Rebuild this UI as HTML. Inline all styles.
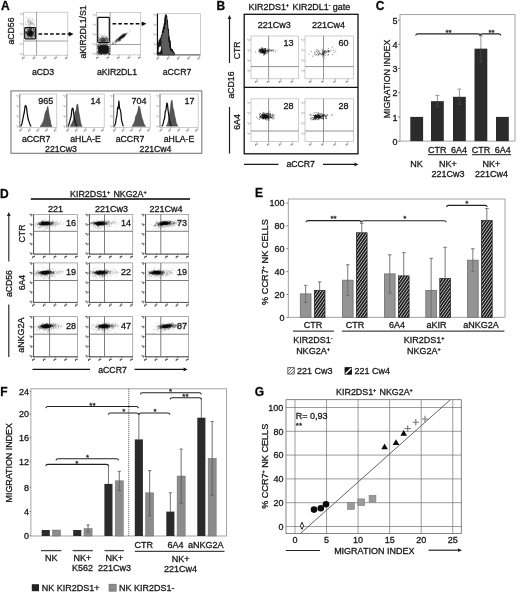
<!DOCTYPE html>
<html><head><meta charset="utf-8"><title>figure</title>
<style>
html,body{margin:0;padding:0;background:#fff;}
body{width:520px;height:592px;overflow:hidden;}
svg{display:block;font-family:"Liberation Sans",sans-serif;filter:grayscale(1) blur(0.3px);}
text{white-space:pre;stroke:#1c1c1c;stroke-width:0.3px;}
</style></head><body>
<svg width="520" height="592" viewBox="0 0 520 592">
<defs>
<pattern id="hatch" width="2.35" height="2.35" patternUnits="userSpaceOnUse" patternTransform="rotate(-55)">
<rect width="2.35" height="2.35" fill="#c4c4c4"/><rect width="2.35" height="1.5" fill="#161616"/>
</pattern>
</defs>
<rect width="520" height="592" fill="#fff"/>
<text x="0.90" y="9.80" font-size="12" text-anchor="start" font-weight="bold" fill="#000">A</text>
<rect x="23.40" y="12.20" width="44.40" height="43.00" fill="none" stroke="#b8b8b8" stroke-width="0.7"/>
<line x1="21.90" y1="14.00" x2="23.50" y2="14.00" stroke="#999" stroke-width="0.7"/>
<path d="M19.50 13.40h1.7v2.0" fill="none" stroke="#c4c4c4" stroke-width="0.9"/>
<line x1="21.90" y1="24.00" x2="23.50" y2="24.00" stroke="#999" stroke-width="0.7"/>
<path d="M19.50 23.40h1.7v2.0" fill="none" stroke="#c4c4c4" stroke-width="0.9"/>
<line x1="21.90" y1="34.00" x2="23.50" y2="34.00" stroke="#999" stroke-width="0.7"/>
<path d="M19.50 33.40h1.7v2.0" fill="none" stroke="#c4c4c4" stroke-width="0.9"/>
<line x1="21.90" y1="44.00" x2="23.50" y2="44.00" stroke="#999" stroke-width="0.7"/>
<path d="M19.50 43.40h1.7v2.0" fill="none" stroke="#c4c4c4" stroke-width="0.9"/>
<line x1="21.90" y1="54.00" x2="23.50" y2="54.00" stroke="#999" stroke-width="0.7"/>
<path d="M19.50 53.40h1.7v2.0" fill="none" stroke="#c4c4c4" stroke-width="0.9"/>
<line x1="24.00" y1="55.20" x2="24.00" y2="56.80" stroke="#999" stroke-width="0.7"/>
<path d="M22.60 59.40v-1.7h2.2" fill="none" stroke="#8a8a8a" stroke-width="1.0"/>
<line x1="34.75" y1="55.20" x2="34.75" y2="56.80" stroke="#999" stroke-width="0.7"/>
<path d="M33.35 59.40v-1.7h2.2" fill="none" stroke="#8a8a8a" stroke-width="1.0"/>
<line x1="45.50" y1="55.20" x2="45.50" y2="56.80" stroke="#999" stroke-width="0.7"/>
<path d="M44.10 59.40v-1.7h2.2" fill="none" stroke="#8a8a8a" stroke-width="1.0"/>
<line x1="56.25" y1="55.20" x2="56.25" y2="56.80" stroke="#999" stroke-width="0.7"/>
<path d="M54.85 59.40v-1.7h2.2" fill="none" stroke="#8a8a8a" stroke-width="1.0"/>
<line x1="67.00" y1="55.20" x2="67.00" y2="56.80" stroke="#999" stroke-width="0.7"/>
<path d="M65.60 59.40v-1.7h2.2" fill="none" stroke="#8a8a8a" stroke-width="1.0"/>
<line x1="36.60" y1="12.00" x2="36.60" y2="55.40" stroke="#7a7a7a" stroke-width="0.7"/>
<line x1="23.50" y1="41.00" x2="67.70" y2="41.00" stroke="#7a7a7a" stroke-width="0.7"/>
<path d="M29.5 34.8h.01M29.5 32.2h.01M27.5 32.5h.01M33.4 34.5h.01M33.2 34.0h.01M31.3 33.8h.01M25.4 35.9h.01M31.7 34.7h.01M27.6 31.7h.01M31.1 33.1h.01M31.7 31.2h.01M31.1 34.4h.01M28.3 38.5h.01M31.8 36.9h.01M28.4 30.9h.01M29.2 32.9h.01M32.0 34.0h.01M28.9 30.2h.01M28.7 37.0h.01M27.9 34.0h.01M31.4 28.6h.01M30.3 37.2h.01M29.9 30.7h.01M31.6 33.0h.01M26.0 35.8h.01M32.1 36.1h.01M34.4 34.3h.01M30.5 29.2h.01M32.0 31.3h.01M28.9 29.3h.01M27.4 31.6h.01M26.0 33.9h.01M34.4 35.0h.01M31.2 30.9h.01M27.0 36.2h.01M33.4 33.7h.01M30.9 34.5h.01M34.8 35.1h.01M31.7 34.9h.01M25.7 37.2h.01M33.0 34.8h.01M29.7 36.4h.01M26.4 38.2h.01M31.8 32.7h.01M31.1 35.2h.01M30.5 36.8h.01M28.3 31.9h.01M33.2 33.3h.01M27.6 36.1h.01M34.4 31.8h.01M26.2 32.8h.01M29.8 32.3h.01M34.3 30.0h.01M33.9 29.3h.01M27.9 35.2h.01M33.5 35.9h.01M31.2 33.6h.01M30.6 35.0h.01M29.7 34.1h.01M31.9 33.2h.01M32.4 35.0h.01M29.0 32.0h.01M30.2 36.1h.01M29.2 34.4h.01M26.9 34.0h.01M31.4 33.9h.01M28.9 35.2h.01M31.0 31.6h.01M28.6 32.9h.01M29.5 33.0h.01M33.1 29.6h.01M30.0 36.2h.01M32.7 37.8h.01M25.3 32.1h.01M29.2 35.1h.01M33.4 28.7h.01M32.2 28.6h.01M30.7 36.9h.01M29.8 33.8h.01M32.5 33.6h.01M29.9 38.0h.01M33.2 32.3h.01M32.9 32.4h.01M30.6 35.4h.01M30.8 35.2h.01M25.8 28.5h.01M32.0 30.2h.01M27.2 28.6h.01M33.9 35.5h.01M34.5 30.3h.01M30.2 29.7h.01M32.4 38.1h.01M27.6 38.0h.01M33.1 32.6h.01M29.9 31.3h.01M31.4 34.5h.01M34.5 30.0h.01M33.5 37.8h.01M34.4 32.6h.01M28.0 36.4h.01M30.5 33.6h.01M34.3 32.4h.01M31.1 31.3h.01M30.2 35.8h.01M30.4 37.3h.01M30.0 36.4h.01M34.5 38.2h.01M28.3 35.9h.01M26.6 33.2h.01M29.6 33.1h.01M28.5 33.9h.01M31.7 36.3h.01M29.6 29.3h.01M28.6 36.5h.01M25.4 31.3h.01M33.1 35.7h.01M30.2 35.7h.01M30.7 29.5h.01M25.7 31.2h.01M32.9 31.4h.01M27.6 30.8h.01M25.8 32.8h.01M26.8 34.3h.01M32.3 32.3h.01M31.0 31.8h.01M32.5 35.5h.01M32.1 34.2h.01M34.1 35.2h.01M32.8 37.3h.01M29.3 31.7h.01M27.5 35.3h.01M31.8 36.0h.01M27.6 32.9h.01M31.0 35.8h.01M30.1 32.6h.01M27.3 32.1h.01M32.8 33.5h.01M27.7 30.6h.01M32.0 34.7h.01M35.1 34.5h.01M30.0 34.8h.01M31.1 31.0h.01M26.1 31.1h.01M31.0 33.8h.01M29.0 30.2h.01M26.7 29.0h.01M35.1 36.3h.01M27.7 34.0h.01M30.0 34.8h.01M28.1 32.8h.01M31.5 34.4h.01M32.1 33.8h.01M29.3 35.6h.01M30.3 30.6h.01M28.4 33.2h.01M29.9 33.7h.01M30.2 33.7h.01M29.8 29.3h.01M31.4 36.5h.01M31.5 32.6h.01M31.5 30.2h.01M27.5 35.5h.01M27.2 38.1h.01M29.1 29.0h.01M28.0 34.8h.01M31.6 33.7h.01M34.5 35.4h.01M30.1 35.0h.01M35.0 36.2h.01M33.2 29.8h.01M29.8 35.5h.01M29.3 36.5h.01M31.9 36.0h.01M33.8 32.5h.01M29.2 35.9h.01M33.0 33.2h.01M26.8 33.8h.01M31.2 36.7h.01M32.5 33.3h.01M32.7 34.9h.01M30.8 33.4h.01M29.5 35.3h.01M27.1 31.3h.01M30.2 28.7h.01M28.2 35.0h.01M31.8 33.0h.01M29.5 28.8h.01M33.4 30.5h.01M32.5 36.1h.01M28.4 28.9h.01M30.3 34.0h.01M32.0 35.4h.01M34.6 36.8h.01M26.4 31.6h.01M27.1 29.9h.01M30.0 33.2h.01M31.6 28.3h.01M26.6 33.1h.01M29.6 32.2h.01M30.0 30.8h.01M32.2 34.3h.01M29.9 31.1h.01M27.4 33.3h.01M25.8 33.8h.01M30.6 28.9h.01M29.5 32.2h.01M31.5 35.1h.01M30.1 30.6h.01M29.8 33.0h.01M32.3 34.1h.01M28.1 29.0h.01M29.1 30.9h.01M27.0 32.8h.01M28.8 33.5h.01M31.7 31.9h.01M33.4 33.6h.01M28.0 34.0h.01M31.1 37.2h.01M32.4 36.1h.01M31.7 32.7h.01M31.7 29.9h.01M33.6 30.0h.01M29.6 33.3h.01M33.6 33.3h.01M27.9 34.0h.01M31.9 35.4h.01M35.0 33.3h.01M31.0 31.9h.01M34.3 31.0h.01M32.2 31.7h.01M28.2 35.4h.01M34.1 33.2h.01M28.2 35.7h.01M30.1 34.2h.01M34.6 36.7h.01M30.2 35.6h.01M28.3 33.1h.01M34.2 29.4h.01M25.8 28.2h.01M33.6 31.8h.01M30.0 32.2h.01M29.8 29.8h.01M30.3 28.7h.01M30.0 34.2h.01M31.6 32.5h.01M27.6 33.7h.01M28.8 38.1h.01M32.4 32.8h.01M28.8 31.0h.01M27.5 32.1h.01M31.1 34.8h.01M28.2 33.2h.01M28.7 33.7h.01M30.6 34.5h.01M29.5 34.3h.01M30.4 35.6h.01M30.2 30.0h.01M27.2 35.1h.01M28.3 35.2h.01M32.4 34.2h.01M31.7 32.9h.01M26.1 33.1h.01M31.5 31.6h.01M29.9 35.5h.01M27.7 35.2h.01M30.6 32.7h.01M34.7 34.2h.01M32.8 31.1h.01M30.2 33.2h.01M32.4 32.8h.01M31.5 34.3h.01M25.9 32.5h.01M34.5 31.4h.01M27.2 29.0h.01M26.7 34.2h.01M35.1 34.5h.01M28.7 31.1h.01M31.7 34.9h.01M27.3 29.6h.01M31.0 34.0h.01M26.4 32.6h.01M28.6 34.6h.01M29.9 32.9h.01M29.2 36.5h.01M34.2 32.1h.01M32.7 30.9h.01M30.4 35.5h.01M34.6 32.0h.01M30.0 33.8h.01M25.9 33.2h.01M28.2 34.4h.01M30.3 34.0h.01M28.6 36.0h.01M29.4 31.3h.01M31.6 28.3h.01M28.2 33.1h.01M32.7 32.7h.01M31.1 31.2h.01M31.1 38.4h.01M28.3 33.3h.01M30.7 36.4h.01M32.0 35.7h.01M30.8 34.0h.01M32.9 34.3h.01M35.0 29.4h.01M32.6 32.0h.01M30.2 32.4h.01M28.8 30.6h.01M28.4 35.2h.01M30.3 33.4h.01M29.7 36.0h.01M31.6 32.8h.01M32.1 32.7h.01M26.9 37.7h.01M31.5 30.2h.01M33.3 34.3h.01M25.7 38.2h.01" stroke="#222" stroke-width="0.9" stroke-linecap="round" fill="none" opacity="0.45"/>
<path d="M30.5 34.4h.01M30.3 32.5h.01M27.5 34.5h.01M30.0 32.3h.01M30.6 32.9h.01M31.1 32.1h.01M29.9 28.9h.01M29.3 34.0h.01M32.1 32.1h.01M29.8 35.7h.01M29.5 34.1h.01M32.7 32.9h.01M32.0 31.5h.01M30.3 32.7h.01M30.2 34.8h.01M33.8 31.6h.01M29.1 33.7h.01M28.3 33.7h.01M30.9 32.3h.01M30.8 30.0h.01M31.2 30.0h.01M28.9 31.8h.01M29.4 34.3h.01M30.1 32.1h.01M30.9 35.6h.01M30.0 33.5h.01M32.0 33.3h.01M27.9 37.3h.01M33.5 29.2h.01M29.9 33.6h.01M31.5 34.0h.01M29.6 30.9h.01M30.2 34.7h.01M28.3 31.0h.01M30.0 29.3h.01M29.6 32.0h.01M30.7 31.5h.01M28.6 32.1h.01M29.9 31.6h.01M30.0 34.2h.01M31.9 35.9h.01M28.7 32.0h.01M26.0 36.2h.01M28.8 32.7h.01M30.8 30.4h.01M30.7 32.8h.01M27.1 33.3h.01M31.9 29.4h.01M31.3 33.2h.01M30.8 33.6h.01M32.1 32.4h.01M31.4 32.1h.01M31.2 31.3h.01M29.8 35.9h.01M30.7 32.5h.01M28.2 31.4h.01M30.3 34.5h.01M30.7 33.7h.01M29.9 35.2h.01M29.4 31.8h.01M31.4 32.9h.01M29.6 31.8h.01M29.6 33.9h.01M30.6 30.6h.01M30.7 33.1h.01M28.4 34.2h.01M29.6 32.2h.01M31.3 35.2h.01M28.9 33.6h.01M28.6 37.0h.01M29.2 35.0h.01M29.0 34.3h.01M33.6 28.2h.01M29.3 33.7h.01M29.9 31.6h.01M33.4 32.9h.01M27.4 34.3h.01M27.2 34.9h.01M29.1 33.1h.01M32.0 33.0h.01M27.8 29.7h.01M31.9 34.1h.01M28.7 34.3h.01M30.8 34.0h.01M26.4 32.3h.01M31.4 34.1h.01M31.4 28.4h.01M30.3 33.7h.01M34.1 31.1h.01M29.5 32.9h.01M31.4 32.0h.01M31.8 31.4h.01M30.4 31.9h.01M30.3 31.6h.01M27.4 34.8h.01M30.5 31.8h.01M30.3 34.6h.01M28.4 32.6h.01M30.9 33.7h.01M29.5 29.0h.01M32.0 33.4h.01M30.0 32.3h.01M30.4 32.0h.01M28.4 31.5h.01M29.0 31.7h.01M28.1 33.9h.01M27.9 34.0h.01M28.4 33.4h.01M32.2 33.2h.01M28.8 32.9h.01M30.2 29.7h.01M29.0 33.1h.01M29.2 32.9h.01M31.2 34.2h.01M31.4 33.9h.01M29.5 32.8h.01M29.6 32.2h.01M29.7 29.7h.01M29.5 32.8h.01M28.4 32.8h.01M30.8 32.5h.01M33.3 28.1h.01M29.7 29.5h.01M31.6 37.6h.01M26.0 33.0h.01M30.8 32.3h.01M30.9 28.8h.01M31.4 33.5h.01M30.0 31.7h.01M31.0 31.9h.01M30.4 31.9h.01M26.4 32.7h.01M30.3 34.2h.01M28.6 32.7h.01M31.0 33.1h.01M32.0 36.4h.01M28.5 29.3h.01M31.4 35.6h.01M31.5 34.3h.01M29.0 31.5h.01M31.4 31.2h.01M27.1 31.0h.01M34.0 36.3h.01M28.9 31.5h.01M30.4 31.5h.01M32.1 32.7h.01M28.3 35.2h.01M29.1 33.2h.01M30.0 32.2h.01M30.5 31.6h.01" stroke="#111" stroke-width="1.0" stroke-linecap="round" fill="none" opacity="0.55"/>
<path d="M25.8 17.7h.01M27.1 21.2h.01M29.9 23.1h.01M31.3 23.3h.01M28.2 21.3h.01M25.1 22.6h.01M31.1 24.3h.01M29.7 22.6h.01M32.2 23.0h.01M31.7 24.4h.01M30.5 26.1h.01M28.7 22.1h.01M28.1 21.1h.01M33.6 27.2h.01M30.1 24.4h.01M32.7 24.9h.01M32.8 20.0h.01M28.5 24.1h.01M33.3 23.2h.01M28.0 22.1h.01M28.5 20.9h.01M33.5 21.5h.01M30.0 28.2h.01M32.7 23.8h.01M28.6 24.0h.01M33.7 24.5h.01M32.9 23.2h.01M31.2 22.5h.01M31.0 26.1h.01M26.7 22.8h.01M30.6 21.6h.01M29.3 24.9h.01M34.6 24.5h.01M30.8 19.3h.01M34.4 23.2h.01M29.9 20.3h.01M29.9 20.4h.01M30.2 24.1h.01M30.1 23.7h.01M28.0 26.4h.01M28.5 18.6h.01M29.6 21.2h.01M27.7 22.1h.01M30.7 20.2h.01M29.7 26.4h.01M31.6 22.6h.01M30.3 22.7h.01M29.9 24.8h.01M29.8 17.2h.01M30.0 20.9h.01M31.5 21.5h.01M30.3 28.2h.01M27.6 20.3h.01M26.8 17.3h.01M25.7 23.9h.01M28.5 18.5h.01M26.6 24.5h.01M28.2 22.1h.01M30.8 26.3h.01M34.5 25.5h.01M30.3 23.4h.01M34.1 26.4h.01M29.3 24.1h.01M30.7 23.1h.01M28.8 19.8h.01M28.8 19.3h.01M32.8 24.3h.01M27.2 26.3h.01M32.1 18.4h.01M34.2 24.9h.01M34.7 20.0h.01M31.2 24.0h.01M30.5 23.4h.01M32.4 19.4h.01M27.1 19.7h.01M28.7 21.5h.01M30.8 23.6h.01M30.1 21.4h.01M29.0 25.3h.01M31.8 23.2h.01M29.3 26.7h.01M28.6 24.6h.01M32.7 22.4h.01M31.9 20.3h.01M32.3 23.5h.01M26.4 24.6h.01M27.9 26.1h.01M28.4 22.6h.01M30.7 22.2h.01M30.6 21.7h.01" stroke="#555" stroke-width="0.9" stroke-linecap="round" fill="none" opacity="0.28"/>
<rect x="24.70" y="27.60" width="10.95" height="11.30" fill="none" stroke="#111" stroke-width="1.2" rx="0.8"/>
<text x="14.00" y="31.00" font-size="8.7" text-anchor="middle" font-weight="normal" fill="#141414" transform="rotate(-90 14.00 31.00)">aCD56</text>
<text x="43.00" y="74.90" font-size="8.7" text-anchor="middle" font-weight="normal" fill="#141414">aCD3</text>
<line x1="38.50" y1="34.10" x2="69.00" y2="34.10" stroke="#0a0a0a" stroke-width="1.5" stroke-dasharray="3.6 2.2"/>
<path d="M73.5 34.1 L68.8 31.8 L68.8 36.4Z" fill="#0a0a0a"/>
<text x="85.80" y="32.00" font-size="8.7" text-anchor="middle" font-weight="normal" fill="#141414" transform="rotate(-90 85.80 32.00)">aKIR2DL1/S1</text>
<rect x="96.40" y="12.30" width="44.30" height="42.60" fill="none" stroke="#b8b8b8" stroke-width="0.7"/>
<line x1="94.80" y1="15.00" x2="96.40" y2="15.00" stroke="#999" stroke-width="0.7"/>
<path d="M92.40 14.40h1.7v2.0" fill="none" stroke="#c4c4c4" stroke-width="0.9"/>
<line x1="94.80" y1="24.75" x2="96.40" y2="24.75" stroke="#999" stroke-width="0.7"/>
<path d="M92.40 24.15h1.7v2.0" fill="none" stroke="#c4c4c4" stroke-width="0.9"/>
<line x1="94.80" y1="34.50" x2="96.40" y2="34.50" stroke="#999" stroke-width="0.7"/>
<path d="M92.40 33.90h1.7v2.0" fill="none" stroke="#c4c4c4" stroke-width="0.9"/>
<line x1="94.80" y1="44.25" x2="96.40" y2="44.25" stroke="#999" stroke-width="0.7"/>
<path d="M92.40 43.65h1.7v2.0" fill="none" stroke="#c4c4c4" stroke-width="0.9"/>
<line x1="94.80" y1="54.00" x2="96.40" y2="54.00" stroke="#999" stroke-width="0.7"/>
<path d="M92.40 53.40h1.7v2.0" fill="none" stroke="#c4c4c4" stroke-width="0.9"/>
<line x1="98.00" y1="54.90" x2="98.00" y2="56.50" stroke="#999" stroke-width="0.7"/>
<path d="M96.60 59.10v-1.7h2.2" fill="none" stroke="#8a8a8a" stroke-width="1.0"/>
<line x1="108.50" y1="54.90" x2="108.50" y2="56.50" stroke="#999" stroke-width="0.7"/>
<path d="M107.10 59.10v-1.7h2.2" fill="none" stroke="#8a8a8a" stroke-width="1.0"/>
<line x1="119.00" y1="54.90" x2="119.00" y2="56.50" stroke="#999" stroke-width="0.7"/>
<path d="M117.60 59.10v-1.7h2.2" fill="none" stroke="#8a8a8a" stroke-width="1.0"/>
<line x1="129.50" y1="54.90" x2="129.50" y2="56.50" stroke="#999" stroke-width="0.7"/>
<path d="M128.10 59.10v-1.7h2.2" fill="none" stroke="#8a8a8a" stroke-width="1.0"/>
<line x1="140.00" y1="54.90" x2="140.00" y2="56.50" stroke="#999" stroke-width="0.7"/>
<path d="M138.60 59.10v-1.7h2.2" fill="none" stroke="#8a8a8a" stroke-width="1.0"/>
<line x1="110.20" y1="12.30" x2="110.20" y2="54.90" stroke="#7a7a7a" stroke-width="0.7"/>
<line x1="96.40" y1="44.50" x2="140.70" y2="44.50" stroke="#7a7a7a" stroke-width="0.7"/>
<rect x="98.2" y="45.6" width="10.4" height="8.0" rx="2.2" fill="#0c0c0c" opacity="0.88"/>
<path d="M105.3 49.6h.01M106.8 49.7h.01M98.2 49.8h.01M104.8 52.2h.01M100.3 53.3h.01M103.0 51.2h.01M102.3 46.9h.01M106.6 51.8h.01M107.9 51.7h.01M101.7 45.6h.01M101.5 48.0h.01M101.0 51.0h.01M104.4 49.0h.01M103.9 49.3h.01M104.0 51.4h.01M106.2 48.0h.01M99.0 53.0h.01M103.7 52.3h.01M98.6 48.8h.01M103.5 46.1h.01M101.9 51.3h.01M106.5 53.4h.01M100.9 46.2h.01M104.9 51.9h.01M104.0 46.5h.01M105.7 51.5h.01M105.0 48.4h.01M104.3 51.5h.01M101.8 45.2h.01M104.4 50.8h.01M103.4 51.7h.01M101.7 49.4h.01M102.5 51.0h.01M108.0 49.0h.01M109.4 53.3h.01M105.7 51.0h.01M108.5 49.2h.01M103.1 47.0h.01M104.8 52.8h.01M104.9 50.6h.01M102.8 50.0h.01M99.3 52.1h.01M102.2 46.9h.01M101.2 47.6h.01M105.9 52.1h.01M99.5 51.8h.01M106.0 48.2h.01M99.1 47.8h.01M101.6 50.4h.01M104.1 45.9h.01M106.0 46.7h.01M101.4 47.5h.01M101.8 52.7h.01M105.9 51.0h.01M104.3 45.9h.01M101.9 48.3h.01M100.6 50.8h.01M101.3 47.9h.01M105.1 52.8h.01M103.9 47.3h.01M106.9 50.3h.01M106.1 53.1h.01M106.7 48.5h.01M106.5 51.5h.01M98.9 48.6h.01M99.3 49.3h.01M105.1 47.0h.01M97.4 52.7h.01M104.5 53.1h.01M99.6 52.1h.01M109.4 54.4h.01M102.8 50.2h.01M103.0 52.0h.01M106.4 49.8h.01M99.5 51.4h.01M102.0 51.1h.01M104.2 53.5h.01M106.7 48.5h.01M104.4 53.8h.01M101.8 50.6h.01M106.9 52.6h.01M104.9 46.4h.01M99.7 50.2h.01M100.9 52.3h.01M105.6 45.6h.01M101.0 50.0h.01M102.0 49.2h.01M104.8 47.7h.01M104.8 48.1h.01M101.8 50.9h.01M101.7 50.3h.01M108.0 49.7h.01M103.0 51.4h.01M102.3 52.2h.01M99.7 51.1h.01M101.9 47.7h.01M108.5 47.6h.01M108.5 51.2h.01M107.6 47.3h.01M106.9 53.1h.01M103.1 49.3h.01M102.2 48.1h.01M104.7 50.4h.01M103.9 53.7h.01M102.4 50.7h.01M107.6 47.2h.01M106.4 54.0h.01M99.5 47.0h.01M100.4 45.2h.01M104.7 45.1h.01M104.8 53.1h.01M98.7 48.8h.01M97.8 51.5h.01M101.3 49.0h.01M103.6 50.9h.01M102.4 49.6h.01M101.8 49.9h.01M100.0 49.8h.01M97.8 48.4h.01M109.0 49.8h.01M99.7 50.2h.01M100.6 45.6h.01M101.3 51.4h.01M104.5 49.4h.01M100.7 47.0h.01M107.3 50.2h.01M100.1 49.4h.01M104.0 49.2h.01M102.6 46.3h.01M100.4 53.7h.01M101.2 51.6h.01M98.5 48.9h.01M104.2 52.1h.01M100.1 51.0h.01M104.5 47.8h.01M104.8 47.4h.01M101.1 49.6h.01M100.5 46.1h.01M102.2 51.4h.01M102.2 52.6h.01M100.0 46.5h.01M107.9 50.6h.01M106.1 47.6h.01M105.7 50.2h.01M105.3 49.7h.01M106.9 48.0h.01M100.6 46.1h.01M106.8 47.8h.01M100.4 47.3h.01M102.1 46.5h.01M102.6 48.1h.01M101.8 47.3h.01M103.5 48.5h.01M103.7 50.2h.01M101.8 47.7h.01M105.6 45.8h.01M101.3 48.9h.01M102.4 52.0h.01M102.1 51.9h.01M99.1 45.3h.01M106.9 50.6h.01M104.8 49.9h.01M104.8 46.7h.01M106.2 48.3h.01M106.3 49.8h.01M97.7 46.5h.01M106.7 49.3h.01M102.3 50.2h.01M102.2 48.3h.01M103.7 49.9h.01M107.8 49.7h.01M108.9 53.9h.01M108.4 52.1h.01M103.8 49.9h.01M103.0 47.8h.01M103.2 48.1h.01M108.2 50.9h.01M102.1 45.0h.01M103.2 48.6h.01M100.3 46.9h.01M103.3 49.2h.01M107.6 49.9h.01M103.9 48.7h.01M101.6 53.2h.01M106.3 53.7h.01M102.4 49.7h.01M100.8 51.9h.01M99.4 51.0h.01M106.6 53.0h.01M100.7 52.2h.01M101.3 47.8h.01M99.6 52.4h.01M108.2 48.2h.01M101.2 48.8h.01M101.8 45.3h.01M101.4 52.4h.01M108.8 49.0h.01M101.4 48.4h.01M97.9 51.8h.01M100.3 52.2h.01M98.4 46.6h.01M104.2 47.8h.01M105.7 49.6h.01M100.0 51.1h.01M105.8 45.0h.01M108.7 50.8h.01M105.6 45.1h.01M101.3 48.8h.01M106.5 46.1h.01M102.7 50.4h.01M98.5 48.2h.01M104.9 53.4h.01M105.3 48.9h.01M100.0 47.4h.01M101.5 50.0h.01M103.3 53.6h.01M104.2 47.0h.01M107.9 51.9h.01M103.7 47.9h.01M98.0 47.1h.01M106.0 47.7h.01M99.6 50.1h.01M104.1 51.1h.01M105.3 53.0h.01M101.0 51.9h.01M100.5 51.3h.01M103.9 50.2h.01M106.2 49.6h.01M106.6 51.7h.01M103.8 48.2h.01M101.2 48.3h.01M102.8 49.5h.01M105.6 47.5h.01M101.3 48.8h.01M104.0 47.1h.01M108.1 48.2h.01M103.4 50.3h.01M104.0 51.0h.01M104.2 50.0h.01M97.9 47.9h.01M104.3 49.1h.01M101.0 48.2h.01M108.8 53.8h.01M103.2 52.7h.01M98.8 45.0h.01M102.0 47.5h.01M101.8 50.1h.01M103.5 50.3h.01M103.3 51.8h.01M108.5 46.6h.01M103.9 49.0h.01M104.4 45.9h.01M104.9 50.1h.01M102.3 47.8h.01M99.3 47.4h.01M105.4 50.9h.01M103.3 50.8h.01M101.6 49.8h.01M103.5 50.9h.01M103.2 49.3h.01M103.0 48.1h.01M109.9 50.8h.01M107.5 45.9h.01M105.4 51.6h.01M108.9 52.8h.01M105.6 46.8h.01M100.9 50.2h.01M104.9 47.1h.01M102.3 48.6h.01M103.6 50.4h.01M102.6 46.6h.01M107.0 53.4h.01M103.1 52.1h.01M104.7 51.2h.01M104.8 47.8h.01M105.1 52.0h.01M100.8 54.3h.01M109.5 54.0h.01M109.2 51.4h.01M102.4 48.2h.01M101.0 49.9h.01M103.3 51.2h.01M105.4 50.7h.01M104.2 49.1h.01M103.0 47.6h.01M103.9 49.5h.01M104.3 47.5h.01M103.5 49.7h.01M105.2 47.0h.01M104.6 52.0h.01M105.1 48.7h.01M102.0 49.0h.01M105.5 53.3h.01M102.9 48.1h.01M104.5 50.1h.01M100.8 47.8h.01M103.1 51.2h.01M99.9 47.2h.01M104.8 46.7h.01M103.7 50.4h.01M103.1 47.2h.01M103.2 48.8h.01M104.4 47.6h.01M106.6 45.6h.01M102.9 49.6h.01M106.2 48.1h.01M105.0 48.2h.01M105.5 53.8h.01M102.2 50.7h.01M100.7 51.9h.01M106.9 49.7h.01M100.1 50.6h.01M106.7 52.2h.01M105.8 45.2h.01M101.4 53.0h.01M99.8 52.3h.01M108.9 51.4h.01M106.6 48.8h.01M99.8 49.4h.01M102.8 49.5h.01M105.4 49.3h.01M104.0 50.6h.01M103.4 54.0h.01M104.7 49.8h.01M102.8 48.1h.01M107.3 50.0h.01M100.3 48.3h.01M103.0 48.5h.01M106.5 46.8h.01M104.8 49.9h.01M100.0 49.7h.01M103.1 50.8h.01M102.1 50.3h.01M98.6 47.0h.01M105.7 52.1h.01M103.4 48.2h.01M101.1 51.2h.01M105.3 47.1h.01M97.9 53.1h.01M103.8 47.4h.01M103.6 51.8h.01M105.6 45.3h.01M106.7 50.6h.01M109.9 48.1h.01M103.4 52.1h.01M101.5 47.9h.01M102.3 49.4h.01M100.3 50.8h.01M105.0 49.8h.01M108.3 48.8h.01M107.2 48.3h.01M105.6 45.0h.01M104.0 49.2h.01M102.0 48.1h.01M102.4 47.9h.01M101.8 48.3h.01M100.3 49.3h.01M105.7 49.0h.01M102.0 52.9h.01M106.2 51.8h.01M106.8 48.8h.01M103.0 52.3h.01M101.8 49.3h.01M104.5 50.5h.01M102.6 52.0h.01M102.9 51.3h.01M106.5 51.2h.01M105.5 46.8h.01M99.6 48.1h.01M104.8 53.2h.01M99.9 50.3h.01M100.9 47.8h.01M102.6 51.3h.01M104.0 52.4h.01M100.5 51.7h.01M106.1 49.8h.01M104.8 48.2h.01M100.2 48.6h.01M102.0 53.6h.01M104.0 50.3h.01M105.6 47.7h.01M106.1 50.5h.01M99.0 51.0h.01M105.0 50.7h.01M108.0 48.6h.01M104.9 51.4h.01M100.8 52.5h.01M99.2 46.5h.01M104.9 47.0h.01M103.1 45.7h.01M103.6 46.9h.01M104.4 45.9h.01M104.7 49.0h.01M103.6 49.4h.01M103.8 46.4h.01M100.7 48.5h.01M101.2 48.1h.01M100.3 50.4h.01M103.0 47.6h.01M100.5 51.5h.01M101.5 51.0h.01M104.7 45.1h.01M100.3 49.6h.01M104.4 51.5h.01M105.7 52.1h.01M102.3 49.1h.01M105.6 48.6h.01M106.5 45.8h.01M105.3 49.2h.01M97.7 52.0h.01M104.3 49.7h.01M100.3 48.5h.01M107.8 47.6h.01M99.9 49.3h.01M102.3 47.4h.01M101.0 52.1h.01M99.2 54.3h.01M101.8 47.0h.01M105.7 51.0h.01M100.4 51.4h.01M98.1 47.4h.01M106.7 49.0h.01M99.6 50.8h.01M106.1 49.5h.01M98.2 48.8h.01M104.6 51.4h.01M108.8 49.0h.01M102.0 49.5h.01M106.9 47.3h.01M105.7 48.0h.01M104.7 51.3h.01M100.0 49.4h.01M104.1 51.0h.01M100.7 47.2h.01M102.8 49.1h.01M99.1 51.8h.01M101.8 53.0h.01M105.9 49.7h.01M105.5 46.9h.01M102.5 48.2h.01M99.7 49.6h.01M103.0 53.0h.01M100.7 48.5h.01M104.6 50.6h.01M103.5 48.5h.01M104.8 50.5h.01M98.1 49.0h.01M99.4 46.8h.01M103.8 49.7h.01M103.7 47.5h.01M102.8 47.4h.01M104.5 51.3h.01M108.5 52.6h.01M101.1 48.5h.01M100.7 50.3h.01M109.1 51.3h.01M99.7 50.8h.01M103.4 50.3h.01M108.6 47.6h.01M100.9 54.3h.01M104.4 47.7h.01M97.5 45.9h.01M103.5 52.0h.01M103.0 47.9h.01M101.3 54.2h.01M98.3 50.0h.01M103.5 51.1h.01M102.2 50.8h.01M105.8 49.2h.01M102.1 49.2h.01M100.6 49.1h.01M102.5 50.1h.01M107.3 52.7h.01M102.1 51.0h.01M104.3 51.4h.01M103.5 50.2h.01M102.0 47.7h.01M105.9 52.7h.01M105.3 50.6h.01M104.2 48.5h.01M98.2 51.2h.01M104.0 48.3h.01M100.6 52.7h.01M98.2 53.8h.01M101.3 49.5h.01M101.9 50.0h.01M102.8 47.8h.01M106.5 47.7h.01M101.9 50.9h.01M101.8 48.6h.01M104.4 48.7h.01M99.8 49.4h.01M102.8 53.7h.01M100.2 51.9h.01M101.1 48.7h.01M102.5 50.2h.01M105.9 53.8h.01M101.6 52.8h.01M106.3 51.6h.01M101.2 51.8h.01M103.1 50.4h.01M102.6 51.2h.01M106.6 52.3h.01M102.8 52.0h.01M107.6 47.4h.01M107.7 46.4h.01M105.0 51.0h.01M107.7 50.3h.01M102.0 47.7h.01M99.8 51.4h.01M102.7 47.9h.01M104.9 47.8h.01M102.1 48.5h.01M108.2 53.1h.01M102.9 45.8h.01M104.2 49.8h.01M104.4 51.0h.01M102.5 51.8h.01M105.8 50.1h.01M102.2 48.4h.01M105.4 47.0h.01M102.9 47.8h.01M99.4 51.0h.01M103.3 49.7h.01M105.9 46.0h.01M103.2 50.3h.01M105.8 47.0h.01M105.5 50.1h.01M107.3 52.3h.01M105.0 54.8h.01M103.4 48.6h.01M102.4 47.3h.01M103.3 45.1h.01M103.2 50.6h.01M106.3 48.8h.01M107.4 48.0h.01M103.0 45.1h.01M101.2 47.7h.01M107.6 50.8h.01M100.3 50.9h.01M104.8 49.1h.01M103.5 48.9h.01M101.9 45.4h.01M103.1 52.6h.01M107.5 48.9h.01M101.3 49.1h.01M105.9 50.4h.01M101.7 50.4h.01M102.8 50.8h.01M102.2 46.2h.01M103.6 51.4h.01M100.3 49.3h.01M105.9 48.7h.01M101.6 54.4h.01M105.7 52.0h.01M100.7 53.4h.01M98.7 48.4h.01M105.5 52.7h.01M100.8 48.0h.01M104.0 45.1h.01M105.2 50.9h.01M102.1 50.9h.01M105.6 50.3h.01M104.9 53.1h.01M102.1 50.0h.01M101.9 52.0h.01M102.3 50.7h.01M103.8 49.8h.01M108.2 49.4h.01M107.4 51.5h.01M107.1 49.2h.01M106.0 51.4h.01M101.7 50.2h.01M103.0 49.5h.01M107.0 47.9h.01M98.7 45.6h.01M102.1 48.1h.01M103.4 50.9h.01M108.3 50.3h.01M104.7 47.9h.01M105.0 52.7h.01M107.2 45.1h.01M105.9 53.3h.01M105.7 46.1h.01M102.5 51.0h.01M104.6 47.7h.01M100.9 51.8h.01M99.7 52.9h.01M103.5 50.3h.01M99.7 48.2h.01M105.3 46.2h.01M109.2 46.4h.01M100.0 49.7h.01M104.7 51.3h.01M102.4 49.1h.01M102.7 48.3h.01M104.1 50.0h.01M101.6 50.2h.01M103.4 49.4h.01M106.5 45.6h.01M104.1 47.1h.01M102.5 53.1h.01M100.4 49.4h.01M101.8 51.8h.01M100.7 45.7h.01M104.8 48.8h.01M102.5 52.1h.01M100.9 48.7h.01M103.8 50.6h.01M102.0 52.0h.01M109.6 48.7h.01M107.3 48.8h.01M103.8 48.8h.01M101.6 46.7h.01M102.3 52.6h.01M106.6 48.8h.01M101.9 48.0h.01M100.1 53.8h.01M105.2 49.9h.01M102.0 47.2h.01M107.1 51.4h.01M100.7 51.9h.01M100.3 51.1h.01M100.7 48.6h.01M104.8 50.6h.01M106.2 47.7h.01M107.8 52.7h.01M103.4 50.7h.01M101.2 49.2h.01M99.7 49.8h.01M104.0 52.7h.01M106.0 51.5h.01M102.4 49.1h.01M102.5 50.1h.01M98.0 51.4h.01M99.0 48.4h.01M103.5 48.4h.01M108.0 49.4h.01M107.8 52.3h.01M102.0 50.5h.01M107.0 48.8h.01M103.6 48.3h.01M103.6 48.8h.01M103.6 51.9h.01M107.3 49.9h.01M104.0 51.6h.01M102.6 47.2h.01M106.5 47.4h.01M106.0 47.4h.01M108.5 47.2h.01M105.8 53.1h.01M100.7 53.0h.01M101.1 45.5h.01M105.4 51.2h.01M103.2 48.9h.01M102.3 48.9h.01M98.4 48.3h.01M108.4 53.2h.01M102.4 48.0h.01" stroke="#111" stroke-width="1.1" stroke-linecap="round" fill="none" opacity="0.8"/>
<path d="M104.7 42.1h.01M105.7 38.1h.01M104.0 40.5h.01M107.9 42.4h.01M105.1 42.4h.01M102.3 43.0h.01M102.2 40.9h.01M106.3 38.5h.01M101.3 37.0h.01M104.0 40.1h.01M102.5 41.1h.01M103.8 39.7h.01M105.9 43.4h.01M102.1 38.5h.01M101.6 40.4h.01M105.3 38.6h.01M106.6 38.3h.01M106.0 41.0h.01M102.7 39.9h.01M105.0 41.8h.01M99.4 40.7h.01M101.2 41.3h.01M107.7 40.3h.01M103.2 40.5h.01M105.2 40.5h.01M102.3 38.9h.01M102.9 42.4h.01M103.2 42.7h.01M104.3 40.2h.01M98.4 39.0h.01M107.3 37.8h.01M100.5 38.2h.01M101.8 41.4h.01M105.3 36.5h.01M108.0 39.1h.01M101.7 43.2h.01M103.2 37.9h.01M101.5 38.9h.01M100.4 39.6h.01M106.2 40.8h.01M100.5 40.4h.01M103.6 41.6h.01M102.5 41.0h.01M100.2 40.8h.01M101.0 39.5h.01M104.1 40.8h.01M102.6 41.7h.01M102.9 37.8h.01M106.2 39.5h.01M107.2 39.0h.01M105.3 40.8h.01M100.1 42.8h.01M106.9 41.1h.01M105.6 39.3h.01M103.5 40.6h.01M104.8 41.5h.01M102.9 38.9h.01M101.8 40.9h.01M98.4 37.9h.01M102.2 39.2h.01M102.7 35.3h.01M102.5 39.7h.01M105.9 36.6h.01M102.6 41.1h.01M105.0 42.4h.01M106.7 38.3h.01M105.5 39.6h.01M101.0 43.0h.01M101.6 38.6h.01M102.2 38.6h.01M106.6 40.9h.01M107.8 41.0h.01M101.6 42.1h.01M101.5 39.4h.01M103.0 40.3h.01M107.2 39.1h.01M104.6 40.1h.01M99.6 38.2h.01M102.8 40.9h.01M104.5 41.1h.01M103.6 39.4h.01M104.8 38.4h.01M99.4 39.6h.01M99.1 39.3h.01M101.2 39.2h.01M103.4 38.7h.01M102.2 37.1h.01M103.9 38.6h.01M104.7 35.0h.01M101.0 40.6h.01M103.8 40.4h.01M98.9 40.6h.01M104.0 38.4h.01M105.8 40.1h.01M103.6 39.4h.01M105.2 40.4h.01M107.0 41.0h.01M101.6 39.8h.01M106.3 39.5h.01M104.7 41.2h.01M102.9 35.9h.01M103.9 40.6h.01M103.9 38.8h.01M107.2 40.0h.01M101.6 38.9h.01M104.6 38.2h.01M100.4 43.9h.01M107.6 42.1h.01M107.7 41.3h.01M98.3 42.4h.01M107.3 41.1h.01M107.7 39.3h.01M103.9 41.6h.01M103.2 42.2h.01M103.8 41.5h.01M103.8 37.5h.01M104.4 42.6h.01M107.0 43.4h.01M105.2 39.1h.01M103.6 36.7h.01M102.9 41.9h.01M106.1 42.6h.01M100.6 39.0h.01M99.9 42.7h.01M104.8 39.3h.01M103.3 40.6h.01M106.5 42.7h.01M105.1 40.9h.01M102.9 39.4h.01M99.7 43.8h.01M102.1 36.4h.01M104.3 40.1h.01M104.0 43.6h.01M103.2 39.7h.01M101.2 40.2h.01M102.1 40.6h.01M100.8 43.8h.01M106.2 41.7h.01M105.7 41.7h.01M105.6 42.8h.01M106.6 42.7h.01M101.9 40.2h.01M101.2 42.0h.01M106.1 39.3h.01M107.4 38.1h.01M103.2 41.4h.01M103.4 40.9h.01M107.2 40.8h.01M100.1 41.5h.01M103.2 40.4h.01M101.7 37.6h.01M99.6 39.5h.01M100.2 35.2h.01M107.1 38.1h.01M101.2 41.2h.01M101.1 41.4h.01M102.0 40.8h.01M103.8 40.2h.01M103.4 42.8h.01M101.8 41.2h.01M104.0 41.1h.01M106.6 37.4h.01M104.4 39.9h.01M102.5 38.6h.01M101.0 38.3h.01M108.8 40.2h.01M105.8 38.4h.01M103.9 42.9h.01M103.4 38.3h.01M102.7 38.4h.01M99.2 39.8h.01M102.3 38.7h.01M100.7 38.5h.01M104.2 42.8h.01M98.5 40.7h.01M99.9 39.9h.01M103.8 41.2h.01M107.0 39.2h.01M99.6 39.9h.01M104.4 38.9h.01M106.3 43.3h.01M99.1 40.9h.01M106.7 36.6h.01M104.1 39.8h.01M99.1 42.6h.01M104.2 39.3h.01M104.9 41.4h.01M105.9 41.3h.01M104.8 38.0h.01M102.2 40.4h.01M102.3 38.2h.01M103.6 39.1h.01M102.2 38.6h.01M101.2 40.0h.01M101.5 41.5h.01M103.1 40.4h.01M104.8 42.6h.01M105.4 40.6h.01M103.0 38.7h.01M102.4 41.5h.01M104.2 39.5h.01M99.3 37.4h.01M104.5 42.1h.01M104.7 37.7h.01M102.8 40.6h.01M100.6 40.8h.01M102.9 38.7h.01M99.6 41.7h.01M104.6 38.6h.01M100.3 41.8h.01M105.4 39.6h.01M108.5 39.7h.01M100.2 42.2h.01M102.9 40.8h.01" stroke="#333" stroke-width="0.9" stroke-linecap="round" fill="none" opacity="0.5"/>
<path d="M120.1 37.2h.01M116.1 40.9h.01M124.7 34.1h.01M124.5 35.5h.01M116.3 41.2h.01M121.9 36.1h.01M112.9 43.6h.01M116.3 41.4h.01M113.7 42.6h.01M117.3 38.6h.01M119.2 39.1h.01M118.2 38.4h.01M120.7 36.0h.01M121.8 37.7h.01M125.5 35.6h.01M121.2 37.9h.01M120.1 36.9h.01M124.8 35.7h.01M119.1 37.8h.01M124.9 35.6h.01M116.1 41.8h.01M126.3 34.1h.01M121.3 37.0h.01M117.9 41.0h.01M130.2 31.5h.01M119.6 39.6h.01M119.0 39.9h.01M122.7 35.4h.01M116.5 40.8h.01M122.7 36.8h.01M124.1 34.1h.01M121.6 36.6h.01M120.3 38.5h.01M116.8 40.4h.01M116.2 41.3h.01M117.2 39.8h.01M120.7 37.2h.01M123.8 35.1h.01M122.8 36.8h.01M116.6 40.5h.01M117.2 39.9h.01M119.1 41.0h.01M118.6 41.1h.01M121.5 35.9h.01M112.4 44.4h.01M113.4 43.7h.01M123.4 36.5h.01M119.3 38.6h.01M120.9 37.5h.01M118.2 39.2h.01M123.9 35.1h.01M121.3 36.3h.01M117.7 38.5h.01M119.3 39.6h.01M121.0 37.2h.01M122.0 36.6h.01M121.2 37.9h.01M121.8 34.5h.01M115.7 42.2h.01M119.6 41.1h.01M119.2 38.3h.01M124.9 35.6h.01M126.2 34.7h.01M119.3 39.7h.01M117.4 39.7h.01M118.2 39.4h.01M122.6 36.1h.01M121.1 37.1h.01M122.9 33.4h.01M119.3 39.1h.01M116.5 42.0h.01M120.7 39.3h.01M123.2 36.9h.01M119.5 37.5h.01M119.3 38.4h.01M120.8 37.3h.01M130.0 29.7h.01M123.9 35.2h.01M119.2 40.0h.01M120.0 37.1h.01M121.4 37.3h.01M113.2 43.3h.01M116.5 40.0h.01M121.6 37.6h.01M119.0 41.4h.01M121.4 36.8h.01M120.8 37.7h.01M112.8 41.7h.01M115.4 43.8h.01M119.4 38.5h.01M118.1 40.7h.01M120.1 40.2h.01M122.6 38.4h.01M119.6 39.1h.01M118.6 39.2h.01M114.3 41.7h.01M116.9 39.8h.01M124.0 35.9h.01M124.0 36.6h.01M123.0 37.4h.01M118.0 40.6h.01M118.9 38.5h.01M123.9 38.1h.01M116.8 42.5h.01M122.7 35.6h.01M120.9 38.2h.01M121.2 37.2h.01M115.8 41.3h.01M122.8 37.3h.01M122.2 38.1h.01M116.8 40.6h.01M121.1 38.7h.01M120.5 38.6h.01M120.4 40.4h.01M112.8 43.3h.01M128.1 33.1h.01M114.0 42.7h.01M115.3 40.9h.01M120.7 39.8h.01M121.5 38.1h.01M123.3 36.3h.01M117.2 40.2h.01M121.1 37.3h.01M117.8 39.5h.01M115.1 40.7h.01M119.7 38.2h.01M120.1 39.8h.01M121.0 37.7h.01M116.2 39.9h.01M121.2 36.6h.01M121.4 36.3h.01M120.4 38.0h.01M123.3 35.7h.01M118.8 39.5h.01M120.2 40.1h.01M119.2 38.4h.01M119.0 39.6h.01M120.8 38.6h.01M115.5 44.2h.01M126.0 34.2h.01M116.0 41.3h.01M121.4 35.0h.01M120.0 36.8h.01M121.5 38.9h.01M123.4 34.4h.01M124.5 36.3h.01M118.8 39.8h.01M125.0 34.6h.01M119.9 37.8h.01M123.8 33.4h.01M124.6 34.1h.01M123.0 34.5h.01M116.9 39.9h.01M122.7 34.8h.01M122.0 36.3h.01M124.1 35.3h.01M121.6 37.1h.01M125.9 34.0h.01M119.9 40.6h.01M120.3 39.0h.01M117.6 40.3h.01M112.6 43.6h.01M117.9 38.2h.01M115.4 42.8h.01M121.4 35.8h.01M125.9 33.6h.01M118.8 39.5h.01M116.3 39.2h.01M117.6 41.4h.01M123.1 34.5h.01" stroke="#333" stroke-width="0.84" stroke-linecap="round" fill="none" opacity="0.45"/>
<path d="M124.6 35.0h.01M123.3 36.0h.01M123.2 35.5h.01M120.7 37.4h.01M121.7 37.4h.01M120.2 39.1h.01M121.2 37.1h.01M123.7 35.9h.01M121.8 36.4h.01M120.6 37.0h.01M124.5 35.7h.01M125.8 34.4h.01M123.0 36.6h.01M124.1 35.2h.01M123.0 37.4h.01M119.3 38.1h.01M120.6 38.3h.01M124.6 34.8h.01M123.6 35.7h.01M122.9 35.9h.01M122.4 36.6h.01M124.5 36.4h.01M119.1 39.3h.01M122.4 37.2h.01M124.3 35.6h.01M123.9 35.0h.01M119.3 39.8h.01M124.6 34.5h.01M124.8 35.3h.01M117.9 40.4h.01M120.6 38.6h.01M121.2 37.1h.01M119.6 38.5h.01M124.3 34.9h.01M119.0 40.3h.01M125.8 34.5h.01M121.4 36.6h.01M119.4 39.1h.01M124.8 34.3h.01M122.4 36.4h.01M121.9 37.2h.01M126.2 33.5h.01M124.0 36.1h.01M121.9 36.9h.01M119.9 39.0h.01M121.4 36.9h.01M122.5 36.0h.01M120.5 37.8h.01M125.1 34.5h.01M123.4 35.1h.01M118.8 40.2h.01M121.7 36.3h.01M122.2 37.1h.01M119.2 38.4h.01M122.9 35.7h.01M123.9 36.1h.01M123.2 35.8h.01M122.3 36.3h.01M122.2 37.0h.01M121.8 37.6h.01M127.2 32.8h.01M123.0 36.6h.01M123.6 35.6h.01M121.5 37.8h.01M123.5 36.1h.01M120.9 38.0h.01M123.9 35.4h.01M123.6 37.0h.01M119.0 39.4h.01M120.3 37.4h.01M122.0 37.2h.01M122.5 35.9h.01M119.8 38.2h.01M122.4 36.1h.01M119.6 39.6h.01M120.9 37.6h.01M121.4 37.0h.01M122.5 36.4h.01M123.5 35.1h.01M119.7 39.7h.01M122.3 37.1h.01M124.6 35.3h.01M122.5 35.7h.01M119.5 39.3h.01M123.6 36.0h.01M119.3 37.6h.01M120.5 37.3h.01M122.7 35.8h.01M125.3 34.1h.01M121.4 37.8h.01M123.0 35.6h.01M123.9 36.6h.01M120.1 38.1h.01M120.4 36.9h.01M123.6 36.2h.01M124.2 35.5h.01M118.7 39.3h.01M121.2 36.8h.01M120.4 38.5h.01M121.9 38.1h.01M123.3 34.9h.01M124.0 36.1h.01M122.5 35.9h.01M125.7 33.5h.01M122.2 35.6h.01M120.1 37.3h.01M124.4 35.8h.01M121.7 36.4h.01M122.3 36.9h.01M119.6 38.0h.01M122.2 37.1h.01M122.5 36.8h.01M120.1 36.9h.01M123.0 35.7h.01M122.2 36.6h.01M123.3 35.5h.01M125.1 34.7h.01M123.4 36.2h.01M124.3 35.4h.01M119.2 38.6h.01" stroke="#1a1a1a" stroke-width="0.84" stroke-linecap="round" fill="none" opacity="0.55"/>
<rect x="97.70" y="17.30" width="11.60" height="25.30" fill="none" stroke="#111" stroke-width="1.2" rx="0.8"/>
<text x="117.00" y="74.90" font-size="8.7" text-anchor="middle" font-weight="normal" fill="#141414">aKIR2DL1</text>
<line x1="112.50" y1="23.70" x2="142.00" y2="23.70" stroke="#0a0a0a" stroke-width="1.5" stroke-dasharray="3.6 2.2"/>
<path d="M146.5 23.7 L141.8 21.4 L141.8 26.0Z" fill="#0a0a0a"/>
<rect x="157.00" y="13.70" width="43.40" height="41.20" fill="none" stroke="#b8b8b8" stroke-width="0.7"/>
<line x1="155.40" y1="15.00" x2="157.00" y2="15.00" stroke="#999" stroke-width="0.7"/>
<path d="M153.00 14.40h1.7v2.0" fill="none" stroke="#c4c4c4" stroke-width="0.9"/>
<line x1="155.40" y1="24.75" x2="157.00" y2="24.75" stroke="#999" stroke-width="0.7"/>
<path d="M153.00 24.15h1.7v2.0" fill="none" stroke="#c4c4c4" stroke-width="0.9"/>
<line x1="155.40" y1="34.50" x2="157.00" y2="34.50" stroke="#999" stroke-width="0.7"/>
<path d="M153.00 33.90h1.7v2.0" fill="none" stroke="#c4c4c4" stroke-width="0.9"/>
<line x1="155.40" y1="44.25" x2="157.00" y2="44.25" stroke="#999" stroke-width="0.7"/>
<path d="M153.00 43.65h1.7v2.0" fill="none" stroke="#c4c4c4" stroke-width="0.9"/>
<line x1="155.40" y1="54.00" x2="157.00" y2="54.00" stroke="#999" stroke-width="0.7"/>
<path d="M153.00 53.40h1.7v2.0" fill="none" stroke="#c4c4c4" stroke-width="0.9"/>
<line x1="158.50" y1="55.50" x2="158.50" y2="57.10" stroke="#999" stroke-width="0.7"/>
<path d="M157.10 59.70v-1.7h2.2" fill="none" stroke="#8a8a8a" stroke-width="1.0"/>
<line x1="168.75" y1="55.50" x2="168.75" y2="57.10" stroke="#999" stroke-width="0.7"/>
<path d="M167.35 59.70v-1.7h2.2" fill="none" stroke="#8a8a8a" stroke-width="1.0"/>
<line x1="179.00" y1="55.50" x2="179.00" y2="57.10" stroke="#999" stroke-width="0.7"/>
<path d="M177.60 59.70v-1.7h2.2" fill="none" stroke="#8a8a8a" stroke-width="1.0"/>
<line x1="189.25" y1="55.50" x2="189.25" y2="57.10" stroke="#999" stroke-width="0.7"/>
<path d="M187.85 59.70v-1.7h2.2" fill="none" stroke="#8a8a8a" stroke-width="1.0"/>
<line x1="199.50" y1="55.50" x2="199.50" y2="57.10" stroke="#999" stroke-width="0.7"/>
<path d="M198.10 59.70v-1.7h2.2" fill="none" stroke="#8a8a8a" stroke-width="1.0"/>
<path d="M157.38 54.84 L157.62 44.81 L158.65 43.65 L159.23 40.19 L159.92 41.00 L160.38 37.88 L161.08 38.69 L161.42 35.23 L162.00 35.92 L162.46 31.31 L163.04 32.23 L163.61 27.61 L164.08 28.54 L164.54 23.46 L164.88 24.38 L165.23 18.61 L165.58 16.08 L166.04 14.69 L166.38 17.00 L166.73 16.31 L167.08 21.15 L167.42 20.46 L167.77 26.00 L168.11 29.81 L168.46 29.00 L168.81 36.38 L169.38 41.92 L169.85 41.00 L170.31 47.23 L171.00 50.23 L171.92 49.54 L172.61 51.61 L174.00 52.54 L174.81 54.84Z" fill="#5c5c5c" stroke="#111" stroke-width="1.0" stroke-linejoin="round"/>
<path d="M157.38 54.84 L157.38 43.65 L158.65 42.84 L159.46 39.61 L160.61 38.23 L161.65 41.69 L161.19 45.38 L162.00 48.61 L162.92 54.84Z" fill="#111" opacity="0.85"/>
<path d="M158.42 51.61 L159.00 47.46 L160.38 45.84 L161.19 47.92 L160.61 50.69 L159.35 52.54Z" fill="#fff"/>
<path d="M162.46 31.31 L163.04 32.23 L163.61 27.61 L164.08 28.54 L164.54 23.46 L164.88 24.38 L165.23 18.61 L165.58 16.08 L166.04 14.69" fill="none" stroke="#111" stroke-width="1.5" stroke-linejoin="round"/>
<path d="M168.81 36.38 L169.38 41.92 L169.85 41.00 L170.31 47.23 L171.00 50.23 L171.92 49.54 L172.61 51.61 L174.00 52.54" fill="none" stroke="#111" stroke-width="1.5" stroke-linejoin="round"/>
<line x1="157.50" y1="13.70" x2="157.50" y2="54.90" stroke="#111" stroke-width="1.1"/>
<line x1="157.00" y1="54.90" x2="200.40" y2="54.90" stroke="#555" stroke-width="1.0"/>
<text x="177.00" y="74.90" font-size="8.7" text-anchor="middle" font-weight="normal" fill="#141414">aCCR7</text>
<rect x="11.00" y="90.90" width="190.80" height="62.40" fill="none" stroke="#7a7a7a" stroke-width="1.1"/>
<rect x="19.80" y="94.00" width="37.00" height="33.50" fill="none" stroke="#b8b8b8" stroke-width="0.7"/>
<line x1="19.80" y1="94.00" x2="19.80" y2="127.50" stroke="#777" stroke-width="0.8"/>
<line x1="18.20" y1="96.00" x2="19.80" y2="96.00" stroke="#999" stroke-width="0.7"/>
<path d="M15.80 95.40h1.7v2.0" fill="none" stroke="#c4c4c4" stroke-width="0.9"/>
<line x1="18.20" y1="106.17" x2="19.80" y2="106.17" stroke="#999" stroke-width="0.7"/>
<path d="M15.80 105.57h1.7v2.0" fill="none" stroke="#c4c4c4" stroke-width="0.9"/>
<line x1="18.20" y1="116.33" x2="19.80" y2="116.33" stroke="#999" stroke-width="0.7"/>
<path d="M15.80 115.73h1.7v2.0" fill="none" stroke="#c4c4c4" stroke-width="0.9"/>
<line x1="18.20" y1="126.50" x2="19.80" y2="126.50" stroke="#999" stroke-width="0.7"/>
<path d="M15.80 125.90h1.7v2.0" fill="none" stroke="#c4c4c4" stroke-width="0.9"/>
<line x1="21.30" y1="127.50" x2="21.30" y2="129.10" stroke="#999" stroke-width="0.7"/>
<path d="M19.90 131.70v-1.7h2.2" fill="none" stroke="#8a8a8a" stroke-width="1.0"/>
<line x1="29.93" y1="127.50" x2="29.93" y2="129.10" stroke="#999" stroke-width="0.7"/>
<path d="M28.53 131.70v-1.7h2.2" fill="none" stroke="#8a8a8a" stroke-width="1.0"/>
<line x1="38.55" y1="127.50" x2="38.55" y2="129.10" stroke="#999" stroke-width="0.7"/>
<path d="M37.15 131.70v-1.7h2.2" fill="none" stroke="#8a8a8a" stroke-width="1.0"/>
<line x1="47.17" y1="127.50" x2="47.17" y2="129.10" stroke="#999" stroke-width="0.7"/>
<path d="M45.77 131.70v-1.7h2.2" fill="none" stroke="#8a8a8a" stroke-width="1.0"/>
<line x1="55.80" y1="127.50" x2="55.80" y2="129.10" stroke="#999" stroke-width="0.7"/>
<path d="M54.40 131.70v-1.7h2.2" fill="none" stroke="#8a8a8a" stroke-width="1.0"/>
<path d="M40.0 126.4 L40.9 125.7 L41.7 124.8 L42.6 122.7 L43.4 121.2 L44.3 117.9 L45.1 113.5 L46.0 111.2 L46.9 109.5 L47.7 106.5 L47.9 106.5 L48.6 112.0 L49.4 116.5 L50.3 120.5 L51.1 124.8 L52.0 126.4Z" fill="#555" stroke="#3a3a3a" stroke-width="0.6" stroke-linejoin="round"/>
<path d="M20.4 126.3 L21.2 125.6 L21.9 123.7 L22.7 120.0 L23.5 115.7 L24.3 112.5 L25.0 106.4 L25.6 105.5 L25.8 105.6 L26.6 108.0 L27.3 114.1 L28.1 118.8 L28.9 121.4 L29.7 123.7 L30.4 125.4 L31.2 126.3" fill="none" stroke="#111" stroke-width="1.25" stroke-linejoin="round"/>
<text x="53.20" y="104.40" font-size="9" text-anchor="end" font-weight="normal" fill="#141414">965</text>
<rect x="66.80" y="94.00" width="37.40" height="33.50" fill="none" stroke="#b8b8b8" stroke-width="0.7"/>
<line x1="66.80" y1="94.00" x2="66.80" y2="127.50" stroke="#777" stroke-width="0.8"/>
<line x1="65.20" y1="96.00" x2="66.80" y2="96.00" stroke="#999" stroke-width="0.7"/>
<path d="M62.80 95.40h1.7v2.0" fill="none" stroke="#c4c4c4" stroke-width="0.9"/>
<line x1="65.20" y1="106.17" x2="66.80" y2="106.17" stroke="#999" stroke-width="0.7"/>
<path d="M62.80 105.57h1.7v2.0" fill="none" stroke="#c4c4c4" stroke-width="0.9"/>
<line x1="65.20" y1="116.33" x2="66.80" y2="116.33" stroke="#999" stroke-width="0.7"/>
<path d="M62.80 115.73h1.7v2.0" fill="none" stroke="#c4c4c4" stroke-width="0.9"/>
<line x1="65.20" y1="126.50" x2="66.80" y2="126.50" stroke="#999" stroke-width="0.7"/>
<path d="M62.80 125.90h1.7v2.0" fill="none" stroke="#c4c4c4" stroke-width="0.9"/>
<line x1="68.30" y1="127.50" x2="68.30" y2="129.10" stroke="#999" stroke-width="0.7"/>
<path d="M66.90 131.70v-1.7h2.2" fill="none" stroke="#8a8a8a" stroke-width="1.0"/>
<line x1="77.03" y1="127.50" x2="77.03" y2="129.10" stroke="#999" stroke-width="0.7"/>
<path d="M75.62 131.70v-1.7h2.2" fill="none" stroke="#8a8a8a" stroke-width="1.0"/>
<line x1="85.75" y1="127.50" x2="85.75" y2="129.10" stroke="#999" stroke-width="0.7"/>
<path d="M84.35 131.70v-1.7h2.2" fill="none" stroke="#8a8a8a" stroke-width="1.0"/>
<line x1="94.47" y1="127.50" x2="94.47" y2="129.10" stroke="#999" stroke-width="0.7"/>
<path d="M93.07 131.70v-1.7h2.2" fill="none" stroke="#8a8a8a" stroke-width="1.0"/>
<line x1="103.20" y1="127.50" x2="103.20" y2="129.10" stroke="#999" stroke-width="0.7"/>
<path d="M101.80 131.70v-1.7h2.2" fill="none" stroke="#8a8a8a" stroke-width="1.0"/>
<path d="M70.0 126.3 L70.9 125.5 L71.7 123.8 L72.6 121.6 L73.5 120.0 L74.4 115.5 L75.2 112.1 L76.1 110.2 L77.0 104.3 L77.4 104.0 L77.8 104.6 L78.7 111.8 L79.6 116.6 L80.5 122.0 L81.3 125.1 L82.2 126.3Z" fill="#555" stroke="#3a3a3a" stroke-width="0.6" stroke-linejoin="round"/>
<path d="M67.8 126.4 L68.5 125.6 L69.1 123.8 L69.8 121.1 L70.5 118.3 L71.2 116.3 L71.8 110.0 L72.5 108.0 L72.6 108.0 L73.2 109.0 L73.8 114.5 L74.5 119.0 L75.2 121.5 L75.9 124.0 L76.5 125.7 L77.2 126.4" fill="none" stroke="#111" stroke-width="1.25" stroke-linejoin="round"/>
<text x="100.60" y="104.40" font-size="9" text-anchor="end" font-weight="normal" fill="#141414">14</text>
<rect x="113.70" y="94.00" width="36.50" height="33.50" fill="none" stroke="#b8b8b8" stroke-width="0.7"/>
<line x1="113.70" y1="94.00" x2="113.70" y2="127.50" stroke="#777" stroke-width="0.8"/>
<line x1="112.10" y1="96.00" x2="113.70" y2="96.00" stroke="#999" stroke-width="0.7"/>
<path d="M109.70 95.40h1.7v2.0" fill="none" stroke="#c4c4c4" stroke-width="0.9"/>
<line x1="112.10" y1="106.17" x2="113.70" y2="106.17" stroke="#999" stroke-width="0.7"/>
<path d="M109.70 105.57h1.7v2.0" fill="none" stroke="#c4c4c4" stroke-width="0.9"/>
<line x1="112.10" y1="116.33" x2="113.70" y2="116.33" stroke="#999" stroke-width="0.7"/>
<path d="M109.70 115.73h1.7v2.0" fill="none" stroke="#c4c4c4" stroke-width="0.9"/>
<line x1="112.10" y1="126.50" x2="113.70" y2="126.50" stroke="#999" stroke-width="0.7"/>
<path d="M109.70 125.90h1.7v2.0" fill="none" stroke="#c4c4c4" stroke-width="0.9"/>
<line x1="115.20" y1="127.50" x2="115.20" y2="129.10" stroke="#999" stroke-width="0.7"/>
<path d="M113.80 131.70v-1.7h2.2" fill="none" stroke="#8a8a8a" stroke-width="1.0"/>
<line x1="123.70" y1="127.50" x2="123.70" y2="129.10" stroke="#999" stroke-width="0.7"/>
<path d="M122.30 131.70v-1.7h2.2" fill="none" stroke="#8a8a8a" stroke-width="1.0"/>
<line x1="132.20" y1="127.50" x2="132.20" y2="129.10" stroke="#999" stroke-width="0.7"/>
<path d="M130.80 131.70v-1.7h2.2" fill="none" stroke="#8a8a8a" stroke-width="1.0"/>
<line x1="140.70" y1="127.50" x2="140.70" y2="129.10" stroke="#999" stroke-width="0.7"/>
<path d="M139.30 131.70v-1.7h2.2" fill="none" stroke="#8a8a8a" stroke-width="1.0"/>
<line x1="149.20" y1="127.50" x2="149.20" y2="129.10" stroke="#999" stroke-width="0.7"/>
<path d="M147.80 131.70v-1.7h2.2" fill="none" stroke="#8a8a8a" stroke-width="1.0"/>
<path d="M131.8 126.3 L132.8 125.4 L133.8 123.4 L134.8 121.1 L135.8 116.1 L136.8 114.3 L137.8 111.3 L138.8 106.0 L139.8 107.4 L140.8 113.0 L141.8 117.6 L142.8 120.3 L143.8 123.8 L144.8 125.5 L145.8 126.3Z" fill="#555" stroke="#3a3a3a" stroke-width="0.6" stroke-linejoin="round"/>
<path d="M114.2 126.2 L114.9 125.0 L115.5 123.4 L116.2 118.6 L116.9 115.7 L117.6 107.5 L118.2 108.7 L118.9 101.0 L119.6 108.5 L120.2 109.3 L120.9 113.0 L121.6 120.4 L122.3 122.9 L122.9 125.4 L123.6 126.2" fill="none" stroke="#111" stroke-width="1.25" stroke-linejoin="round"/>
<text x="146.60" y="104.40" font-size="9" text-anchor="end" font-weight="normal" fill="#141414">704</text>
<rect x="160.00" y="94.00" width="38.20" height="33.50" fill="none" stroke="#b8b8b8" stroke-width="0.7"/>
<line x1="160.00" y1="94.00" x2="160.00" y2="127.50" stroke="#777" stroke-width="0.8"/>
<line x1="158.40" y1="96.00" x2="160.00" y2="96.00" stroke="#999" stroke-width="0.7"/>
<path d="M156.00 95.40h1.7v2.0" fill="none" stroke="#c4c4c4" stroke-width="0.9"/>
<line x1="158.40" y1="106.17" x2="160.00" y2="106.17" stroke="#999" stroke-width="0.7"/>
<path d="M156.00 105.57h1.7v2.0" fill="none" stroke="#c4c4c4" stroke-width="0.9"/>
<line x1="158.40" y1="116.33" x2="160.00" y2="116.33" stroke="#999" stroke-width="0.7"/>
<path d="M156.00 115.73h1.7v2.0" fill="none" stroke="#c4c4c4" stroke-width="0.9"/>
<line x1="158.40" y1="126.50" x2="160.00" y2="126.50" stroke="#999" stroke-width="0.7"/>
<path d="M156.00 125.90h1.7v2.0" fill="none" stroke="#c4c4c4" stroke-width="0.9"/>
<line x1="161.50" y1="127.50" x2="161.50" y2="129.10" stroke="#999" stroke-width="0.7"/>
<path d="M160.10 131.70v-1.7h2.2" fill="none" stroke="#8a8a8a" stroke-width="1.0"/>
<line x1="170.43" y1="127.50" x2="170.43" y2="129.10" stroke="#999" stroke-width="0.7"/>
<path d="M169.03 131.70v-1.7h2.2" fill="none" stroke="#8a8a8a" stroke-width="1.0"/>
<line x1="179.35" y1="127.50" x2="179.35" y2="129.10" stroke="#999" stroke-width="0.7"/>
<path d="M177.95 131.70v-1.7h2.2" fill="none" stroke="#8a8a8a" stroke-width="1.0"/>
<line x1="188.27" y1="127.50" x2="188.27" y2="129.10" stroke="#999" stroke-width="0.7"/>
<path d="M186.87 131.70v-1.7h2.2" fill="none" stroke="#8a8a8a" stroke-width="1.0"/>
<line x1="197.20" y1="127.50" x2="197.20" y2="129.10" stroke="#999" stroke-width="0.7"/>
<path d="M195.80 131.70v-1.7h2.2" fill="none" stroke="#8a8a8a" stroke-width="1.0"/>
<path d="M166.4 126.1 L167.2 124.7 L168.0 122.4 L168.8 118.8 L169.7 113.8 L170.5 107.8 L171.3 101.1 L171.8 100.3 L172.1 100.5 L172.9 107.5 L173.7 109.9 L174.5 114.9 L175.4 119.0 L176.2 123.1 L177.0 125.0 L177.8 126.1Z" fill="#555" stroke="#3a3a3a" stroke-width="0.6" stroke-linejoin="round"/>
<path d="M161.8 126.2 L162.5 125.5 L163.2 123.4 L163.9 119.9 L164.6 118.1 L165.3 111.4 L166.0 110.1 L166.7 103.5 L167.0 103.2 L167.4 103.8 L168.1 110.2 L168.8 115.6 L169.5 120.4 L170.2 123.4 L170.9 125.1 L171.6 126.2" fill="none" stroke="#111" stroke-width="1.25" stroke-linejoin="round"/>
<text x="194.60" y="104.40" font-size="9" text-anchor="end" font-weight="normal" fill="#141414">17</text>
<text x="36.20" y="141.60" font-size="8.7" text-anchor="middle" font-weight="normal" fill="#141414">aCCR7</text>
<text x="85.50" y="141.60" font-size="8.7" text-anchor="middle" font-weight="normal" fill="#141414">aHLA-E</text>
<text x="130.00" y="141.60" font-size="8.7" text-anchor="middle" font-weight="normal" fill="#141414">aCCR7</text>
<text x="179.00" y="141.60" font-size="8.7" text-anchor="middle" font-weight="normal" fill="#141414">aHLA-E</text>
<text x="61.00" y="152.40" font-size="8.7" text-anchor="middle" font-weight="normal" fill="#141414">221Cw3</text>
<text x="155.50" y="152.40" font-size="8.7" text-anchor="middle" font-weight="normal" fill="#141414">221Cw4</text>
<text x="216.60" y="9.80" font-size="12" text-anchor="start" font-weight="bold" fill="#000">B</text>
<text x="248.60" y="9.80" font-size="8.95" text-anchor="start" font-weight="normal" fill="#141414">KIR2DS1<tspan font-size="5.5" dy="-3">+</tspan><tspan dy="3">&#8203;</tspan></text>
<text x="292.50" y="9.80" font-size="8.95" text-anchor="start" font-weight="normal" fill="#141414">KIR2DL1<tspan font-size="5.5" dy="-3">-</tspan><tspan dy="3">&#8203;</tspan></text>
<text x="332.80" y="9.80" font-size="8.95" text-anchor="start" font-weight="normal" fill="#141414">gate</text>
<rect x="244.20" y="14.30" width="113.80" height="139.50" fill="none" stroke="#111" stroke-width="1.3"/>
<line x1="243.80" y1="87.30" x2="358.00" y2="87.30" stroke="#111" stroke-width="1.3"/>
<text x="274.20" y="28.00" font-size="9" text-anchor="middle" font-weight="normal" fill="#141414">221Cw3</text>
<text x="328.60" y="28.00" font-size="9" text-anchor="middle" font-weight="normal" fill="#141414">221Cw4</text>
<rect x="251.00" y="36.00" width="47.60" height="42.80" fill="none" stroke="#b8b8b8" stroke-width="0.7"/>
<line x1="249.40" y1="40.00" x2="251.00" y2="40.00" stroke="#999" stroke-width="0.7"/>
<path d="M247.00 39.40h1.7v2.0" fill="none" stroke="#c4c4c4" stroke-width="0.9"/>
<line x1="249.40" y1="50.27" x2="251.00" y2="50.27" stroke="#999" stroke-width="0.7"/>
<path d="M247.00 49.67h1.7v2.0" fill="none" stroke="#c4c4c4" stroke-width="0.9"/>
<line x1="249.40" y1="60.53" x2="251.00" y2="60.53" stroke="#999" stroke-width="0.7"/>
<path d="M247.00 59.93h1.7v2.0" fill="none" stroke="#c4c4c4" stroke-width="0.9"/>
<line x1="249.40" y1="70.80" x2="251.00" y2="70.80" stroke="#999" stroke-width="0.7"/>
<path d="M247.00 70.20h1.7v2.0" fill="none" stroke="#c4c4c4" stroke-width="0.9"/>
<line x1="257.00" y1="78.80" x2="257.00" y2="80.40" stroke="#999" stroke-width="0.7"/>
<path d="M255.60 83.00v-1.7h2.2" fill="none" stroke="#8a8a8a" stroke-width="1.0"/>
<line x1="268.87" y1="78.80" x2="268.87" y2="80.40" stroke="#999" stroke-width="0.7"/>
<path d="M267.47 83.00v-1.7h2.2" fill="none" stroke="#8a8a8a" stroke-width="1.0"/>
<line x1="280.73" y1="78.80" x2="280.73" y2="80.40" stroke="#999" stroke-width="0.7"/>
<path d="M279.33 83.00v-1.7h2.2" fill="none" stroke="#8a8a8a" stroke-width="1.0"/>
<line x1="292.60" y1="78.80" x2="292.60" y2="80.40" stroke="#999" stroke-width="0.7"/>
<path d="M291.20 83.00v-1.7h2.2" fill="none" stroke="#8a8a8a" stroke-width="1.0"/>
<line x1="268.60" y1="36.00" x2="268.60" y2="78.80" stroke="#7a7a7a" stroke-width="0.8"/>
<line x1="251.00" y1="66.60" x2="298.60" y2="66.60" stroke="#7a7a7a" stroke-width="0.8"/>
<path d="M268.1 51.9h.01M264.8 51.9h.01M261.8 50.2h.01M261.8 52.9h.01M264.3 53.8h.01M264.7 54.0h.01M264.6 49.5h.01M267.8 51.7h.01M266.4 51.5h.01M262.6 51.4h.01M260.5 49.4h.01M261.1 50.4h.01M259.9 51.0h.01M264.2 54.2h.01M268.1 51.1h.01M265.7 50.9h.01M264.4 51.2h.01M262.0 51.3h.01M259.6 51.8h.01M262.7 49.6h.01M262.5 52.0h.01M261.7 51.9h.01M264.9 53.5h.01M260.6 51.0h.01M264.7 53.4h.01M264.1 52.3h.01M259.6 50.3h.01M267.7 50.8h.01M268.9 50.1h.01M262.7 48.8h.01M265.0 51.6h.01M268.6 51.4h.01M262.8 49.1h.01M263.2 52.6h.01M265.3 53.0h.01M265.6 51.1h.01M265.0 51.5h.01M260.0 53.7h.01M264.4 49.6h.01M264.4 51.6h.01M266.0 53.3h.01M255.6 52.0h.01M267.3 49.8h.01M258.6 51.6h.01M264.3 51.7h.01M260.5 50.5h.01M263.9 52.3h.01M269.0 51.6h.01M261.8 47.7h.01M266.2 51.0h.01M263.1 49.7h.01M265.3 48.5h.01M263.7 51.4h.01M264.2 53.1h.01M263.1 51.3h.01M265.6 48.9h.01M262.6 51.3h.01M265.9 50.0h.01M265.5 51.8h.01M259.6 49.0h.01M259.7 51.4h.01M263.9 52.3h.01M265.5 50.4h.01M266.2 52.4h.01M264.6 51.9h.01M260.1 51.7h.01M260.7 49.4h.01M262.5 51.4h.01M263.3 50.7h.01M260.8 51.5h.01M261.5 49.1h.01M263.6 53.4h.01M262.4 49.6h.01M267.0 53.8h.01M262.6 50.9h.01M263.9 55.6h.01M263.7 52.7h.01M264.5 48.5h.01M260.5 49.4h.01M264.5 51.4h.01M268.0 50.8h.01M264.2 51.3h.01M263.8 54.7h.01M264.1 53.4h.01M266.8 50.3h.01M265.2 50.6h.01M263.7 51.4h.01M263.5 50.5h.01M267.4 50.8h.01M265.2 53.7h.01M265.0 52.7h.01M267.0 52.8h.01M267.9 49.1h.01M268.5 51.2h.01M258.9 50.2h.01M259.8 51.2h.01M259.5 49.7h.01M264.2 51.4h.01M261.3 50.8h.01M263.1 51.3h.01M263.4 50.9h.01M265.7 48.8h.01M262.1 51.4h.01M262.4 50.4h.01M262.3 51.5h.01M266.6 50.9h.01M262.7 51.7h.01M262.8 48.3h.01M264.1 50.6h.01M261.9 52.1h.01" stroke="#111" stroke-width="0.84" stroke-linecap="round" fill="none" opacity="0.75"/>
<text x="293.60" y="46.20" font-size="9" text-anchor="end" font-weight="normal" fill="#141414">13</text>
<path d="M263.1 50.6h.01M260.0 49.5h.01M263.0 51.1h.01M263.6 51.4h.01M262.3 49.9h.01M261.5 51.1h.01M261.4 52.0h.01M261.1 49.4h.01M262.7 49.4h.01M265.3 50.2h.01M262.9 51.0h.01M261.9 49.4h.01M260.4 52.1h.01M264.4 53.4h.01M261.0 51.8h.01M263.0 52.0h.01M262.3 51.9h.01M264.3 51.8h.01M265.0 51.0h.01M265.2 50.5h.01M265.3 48.5h.01M263.0 50.4h.01M263.0 52.2h.01M264.0 51.3h.01M265.4 49.7h.01M261.9 52.7h.01M263.5 49.1h.01M263.5 50.0h.01M265.1 52.3h.01M262.2 52.5h.01M261.8 52.1h.01M263.8 51.1h.01M261.0 50.9h.01M259.8 50.6h.01M260.4 52.4h.01M261.6 48.8h.01M263.8 51.6h.01M262.3 53.3h.01M264.1 51.3h.01M262.1 48.2h.01M263.7 52.2h.01M262.2 49.8h.01M262.9 49.5h.01M263.0 52.0h.01M265.1 51.5h.01M263.3 51.9h.01M265.0 50.9h.01M261.3 50.4h.01M261.2 50.3h.01M262.8 51.5h.01M263.2 51.3h.01M262.5 51.6h.01M264.2 52.0h.01M265.1 50.9h.01M262.6 52.9h.01M263.3 51.6h.01M262.5 52.2h.01M262.4 50.2h.01M262.9 50.8h.01M264.2 50.8h.01" stroke="#111" stroke-width="0.9" stroke-linecap="round" fill="none" opacity="0.8"/>
<path d="M271.3 50.3h.01M271.9 50.0h.01M273.8 49.4h.01M270.0 49.9h.01M272.6 50.5h.01M272.2 50.2h.01M269.2 49.6h.01M270.2 50.1h.01M271.7 50.8h.01M273.4 50.4h.01M269.1 49.7h.01M271.2 50.8h.01M275.9 50.6h.01M275.4 52.0h.01M268.4 51.5h.01M273.8 51.6h.01M271.0 51.3h.01M269.8 50.4h.01" stroke="#111" stroke-width="0.8" stroke-linecap="round" fill="none" opacity="0.6"/>
<rect x="305.00" y="36.00" width="48.60" height="42.80" fill="none" stroke="#b8b8b8" stroke-width="0.7"/>
<line x1="303.40" y1="40.00" x2="305.00" y2="40.00" stroke="#999" stroke-width="0.7"/>
<path d="M301.00 39.40h1.7v2.0" fill="none" stroke="#c4c4c4" stroke-width="0.9"/>
<line x1="303.40" y1="50.27" x2="305.00" y2="50.27" stroke="#999" stroke-width="0.7"/>
<path d="M301.00 49.67h1.7v2.0" fill="none" stroke="#c4c4c4" stroke-width="0.9"/>
<line x1="303.40" y1="60.53" x2="305.00" y2="60.53" stroke="#999" stroke-width="0.7"/>
<path d="M301.00 59.93h1.7v2.0" fill="none" stroke="#c4c4c4" stroke-width="0.9"/>
<line x1="303.40" y1="70.80" x2="305.00" y2="70.80" stroke="#999" stroke-width="0.7"/>
<path d="M301.00 70.20h1.7v2.0" fill="none" stroke="#c4c4c4" stroke-width="0.9"/>
<line x1="311.00" y1="78.80" x2="311.00" y2="80.40" stroke="#999" stroke-width="0.7"/>
<path d="M309.60 83.00v-1.7h2.2" fill="none" stroke="#8a8a8a" stroke-width="1.0"/>
<line x1="323.20" y1="78.80" x2="323.20" y2="80.40" stroke="#999" stroke-width="0.7"/>
<path d="M321.80 83.00v-1.7h2.2" fill="none" stroke="#8a8a8a" stroke-width="1.0"/>
<line x1="335.40" y1="78.80" x2="335.40" y2="80.40" stroke="#999" stroke-width="0.7"/>
<path d="M334.00 83.00v-1.7h2.2" fill="none" stroke="#8a8a8a" stroke-width="1.0"/>
<line x1="347.60" y1="78.80" x2="347.60" y2="80.40" stroke="#999" stroke-width="0.7"/>
<path d="M346.20 83.00v-1.7h2.2" fill="none" stroke="#8a8a8a" stroke-width="1.0"/>
<line x1="323.50" y1="36.00" x2="323.50" y2="78.80" stroke="#7a7a7a" stroke-width="0.8"/>
<line x1="305.00" y1="66.60" x2="353.60" y2="66.60" stroke="#7a7a7a" stroke-width="0.8"/>
<path d="M322.6 56.2h.01M321.3 54.6h.01M322.9 51.0h.01M323.8 53.7h.01M318.6 54.4h.01M318.6 51.2h.01M323.7 51.8h.01M317.1 49.9h.01M322.6 53.0h.01M320.0 53.2h.01M314.1 54.5h.01M324.8 52.8h.01M319.1 53.1h.01M323.2 54.6h.01M324.0 52.8h.01M318.5 54.8h.01M328.9 50.6h.01M326.0 52.6h.01M322.2 49.9h.01M332.2 47.3h.01M324.2 51.5h.01M328.8 50.7h.01M322.7 53.7h.01M325.0 51.1h.01M326.2 52.8h.01M327.9 50.7h.01M322.2 51.7h.01M317.9 53.7h.01M324.7 55.1h.01M320.7 53.5h.01M328.8 51.4h.01M322.8 52.7h.01M318.7 51.0h.01M328.6 52.0h.01M322.1 50.0h.01M323.1 54.8h.01M316.2 51.6h.01M328.6 54.6h.01M331.0 50.2h.01M325.8 50.5h.01M325.4 51.4h.01M323.6 55.1h.01M324.4 51.7h.01M322.8 53.0h.01M319.7 53.3h.01M325.8 55.2h.01M311.2 51.6h.01M315.7 55.2h.01M335.8 51.0h.01M323.2 54.7h.01M309.1 54.0h.01M319.7 51.9h.01M324.4 51.0h.01M328.6 51.6h.01M324.6 57.4h.01M320.0 54.7h.01M318.0 55.7h.01M327.8 52.0h.01M327.9 55.0h.01M330.0 51.4h.01M322.2 54.8h.01M314.5 52.4h.01M325.1 53.3h.01M332.7 54.7h.01M324.3 53.2h.01M315.3 53.1h.01M323.9 51.8h.01M322.8 53.7h.01M317.3 52.1h.01M312.8 56.2h.01M316.8 49.8h.01M326.7 51.5h.01M327.8 51.0h.01M334.1 52.3h.01M323.3 52.6h.01M321.4 54.3h.01M333.4 50.1h.01M316.6 54.5h.01M328.3 48.6h.01" stroke="#111" stroke-width="0.84" stroke-linecap="round" fill="none" opacity="0.75"/>
<text x="348.60" y="46.20" font-size="9" text-anchor="end" font-weight="normal" fill="#141414">60</text>
<rect x="251.00" y="98.80" width="47.60" height="42.80" fill="none" stroke="#b8b8b8" stroke-width="0.7"/>
<line x1="249.40" y1="102.80" x2="251.00" y2="102.80" stroke="#999" stroke-width="0.7"/>
<path d="M247.00 102.20h1.7v2.0" fill="none" stroke="#c4c4c4" stroke-width="0.9"/>
<line x1="249.40" y1="113.07" x2="251.00" y2="113.07" stroke="#999" stroke-width="0.7"/>
<path d="M247.00 112.47h1.7v2.0" fill="none" stroke="#c4c4c4" stroke-width="0.9"/>
<line x1="249.40" y1="123.33" x2="251.00" y2="123.33" stroke="#999" stroke-width="0.7"/>
<path d="M247.00 122.73h1.7v2.0" fill="none" stroke="#c4c4c4" stroke-width="0.9"/>
<line x1="249.40" y1="133.60" x2="251.00" y2="133.60" stroke="#999" stroke-width="0.7"/>
<path d="M247.00 133.00h1.7v2.0" fill="none" stroke="#c4c4c4" stroke-width="0.9"/>
<line x1="257.00" y1="141.60" x2="257.00" y2="143.20" stroke="#999" stroke-width="0.7"/>
<path d="M255.60 145.80v-1.7h2.2" fill="none" stroke="#8a8a8a" stroke-width="1.0"/>
<line x1="268.87" y1="141.60" x2="268.87" y2="143.20" stroke="#999" stroke-width="0.7"/>
<path d="M267.47 145.80v-1.7h2.2" fill="none" stroke="#8a8a8a" stroke-width="1.0"/>
<line x1="280.73" y1="141.60" x2="280.73" y2="143.20" stroke="#999" stroke-width="0.7"/>
<path d="M279.33 145.80v-1.7h2.2" fill="none" stroke="#8a8a8a" stroke-width="1.0"/>
<line x1="292.60" y1="141.60" x2="292.60" y2="143.20" stroke="#999" stroke-width="0.7"/>
<path d="M291.20 145.80v-1.7h2.2" fill="none" stroke="#8a8a8a" stroke-width="1.0"/>
<line x1="268.60" y1="98.80" x2="268.60" y2="141.60" stroke="#7a7a7a" stroke-width="0.8"/>
<line x1="251.00" y1="131.00" x2="298.60" y2="131.00" stroke="#7a7a7a" stroke-width="0.8"/>
<path d="M263.4 114.8h.01M268.1 117.2h.01M263.2 114.6h.01M268.6 113.2h.01M268.4 116.2h.01M273.2 118.0h.01M263.8 116.0h.01M265.0 115.3h.01M266.3 117.9h.01M260.3 116.0h.01M271.6 117.6h.01M263.0 115.1h.01M262.8 113.9h.01M270.3 116.5h.01M263.4 114.1h.01M264.6 115.6h.01M272.4 115.7h.01M266.4 118.1h.01M268.5 116.1h.01M257.8 118.6h.01M268.2 115.7h.01M265.7 114.9h.01M262.6 114.1h.01M267.9 117.2h.01M266.7 117.6h.01M268.0 116.6h.01M262.7 117.3h.01M270.4 117.4h.01M270.7 115.7h.01M262.3 118.4h.01M263.8 116.8h.01M265.3 116.4h.01M265.0 115.6h.01M259.3 119.4h.01M266.8 113.4h.01M262.6 114.6h.01M263.2 112.4h.01M268.1 119.0h.01M265.1 117.6h.01M268.2 114.4h.01M270.5 113.8h.01M263.9 115.8h.01M270.7 116.6h.01M265.5 115.1h.01M266.3 116.5h.01M268.7 118.6h.01M268.7 116.4h.01M265.4 118.9h.01M266.7 116.4h.01M272.7 118.9h.01M268.1 116.2h.01M263.6 118.1h.01M264.3 117.9h.01M263.1 116.6h.01M267.5 116.6h.01M266.9 117.0h.01M261.8 114.7h.01M265.5 119.2h.01M265.5 114.9h.01M263.5 116.5h.01M270.4 115.5h.01M268.1 116.7h.01M264.7 114.9h.01M265.4 115.3h.01M268.0 113.6h.01M270.2 117.6h.01M268.1 118.7h.01M268.2 113.7h.01M266.2 117.1h.01M263.5 114.6h.01M267.6 117.2h.01M264.4 116.0h.01M264.1 115.5h.01M265.8 118.1h.01M260.0 115.9h.01M272.0 116.9h.01M266.6 117.7h.01M262.3 114.5h.01M259.8 114.1h.01M266.9 117.7h.01M264.5 115.3h.01M267.5 117.4h.01M267.0 113.4h.01M264.0 112.5h.01M266.9 115.1h.01M263.6 118.7h.01M270.9 117.2h.01M267.0 116.7h.01M263.8 116.3h.01M273.1 115.0h.01M263.6 116.7h.01M269.3 117.7h.01M262.4 116.2h.01M265.0 114.5h.01M266.3 115.7h.01M269.4 117.1h.01M263.1 116.5h.01M264.7 115.4h.01M264.2 118.1h.01M264.5 113.7h.01M263.1 117.7h.01M274.0 114.8h.01M264.7 115.9h.01M260.8 117.0h.01M265.8 116.8h.01M274.3 116.0h.01M268.9 117.7h.01M263.7 115.5h.01M271.8 117.5h.01M266.5 114.7h.01M269.3 117.2h.01M274.1 118.7h.01M269.0 116.8h.01M266.2 115.5h.01M267.1 116.8h.01M268.4 118.1h.01M267.2 115.6h.01M269.0 118.8h.01M262.9 117.1h.01M268.0 117.2h.01M267.9 116.3h.01M265.6 119.0h.01M272.4 114.2h.01M256.6 117.1h.01M263.5 115.6h.01M260.1 117.0h.01M265.8 115.6h.01M269.3 120.2h.01M271.4 118.2h.01M264.5 117.4h.01M265.9 118.2h.01M268.2 116.3h.01M268.0 115.3h.01M268.9 118.7h.01M264.7 117.3h.01M259.9 117.9h.01M269.2 114.8h.01M272.4 116.6h.01M259.6 114.3h.01M269.2 116.0h.01M270.1 114.0h.01M265.6 117.9h.01M263.5 117.5h.01M264.7 116.9h.01M267.2 119.9h.01M261.4 117.6h.01M270.8 114.7h.01M266.3 120.0h.01M269.9 111.8h.01M265.1 113.7h.01M267.1 115.3h.01M263.9 115.1h.01M267.1 115.7h.01M262.7 116.0h.01M267.5 115.1h.01M270.1 113.8h.01M267.5 115.8h.01M271.8 115.4h.01M263.6 114.3h.01M273.3 117.4h.01M262.0 115.9h.01M262.5 118.8h.01M267.5 113.2h.01M266.8 117.8h.01M266.0 117.1h.01M265.6 116.7h.01M266.8 115.3h.01M267.3 116.7h.01M265.9 115.3h.01M262.3 116.8h.01" stroke="#111" stroke-width="0.84" stroke-linecap="round" fill="none" opacity="0.75"/>
<text x="293.60" y="109.00" font-size="9" text-anchor="end" font-weight="normal" fill="#141414">28</text>
<path d="M266.6 114.0h.01M264.0 118.0h.01M266.8 115.8h.01M267.6 115.5h.01M263.5 118.7h.01M264.2 116.4h.01M261.8 115.5h.01M262.7 116.5h.01M261.4 117.7h.01M264.3 116.0h.01M263.8 117.4h.01M268.0 116.2h.01M268.1 118.3h.01M267.6 116.9h.01M262.1 117.3h.01M264.2 116.8h.01M261.3 116.3h.01M265.5 115.6h.01M265.6 118.4h.01M265.4 115.9h.01M269.6 114.3h.01M263.2 117.0h.01M263.8 114.1h.01M265.5 117.5h.01M263.5 118.2h.01M266.0 117.9h.01M262.0 116.6h.01M268.1 118.8h.01M267.6 116.6h.01M265.4 115.9h.01M267.1 115.9h.01M265.2 114.4h.01M262.1 118.5h.01M265.1 116.8h.01M260.7 116.6h.01M269.0 115.0h.01M260.4 116.4h.01M264.0 116.4h.01M262.5 115.1h.01M262.6 117.3h.01M264.9 117.5h.01M262.9 117.2h.01M264.1 116.7h.01M266.8 116.6h.01M264.3 114.8h.01M265.1 117.4h.01M263.8 116.5h.01M261.5 115.2h.01M265.8 118.0h.01M264.4 114.8h.01M264.3 114.9h.01M264.5 118.7h.01M265.6 116.4h.01M267.0 116.2h.01M265.7 116.8h.01M265.9 115.0h.01M266.4 117.6h.01M260.5 113.7h.01M263.2 118.2h.01M265.0 117.3h.01M266.1 117.6h.01M263.7 116.0h.01M265.7 117.3h.01M266.1 117.0h.01M264.0 117.8h.01M265.9 117.7h.01M260.0 117.7h.01M260.2 116.8h.01M263.7 116.7h.01M264.1 116.3h.01" stroke="#111" stroke-width="0.9" stroke-linecap="round" fill="none" opacity="0.8"/>
<rect x="305.00" y="98.80" width="48.60" height="42.80" fill="none" stroke="#b8b8b8" stroke-width="0.7"/>
<line x1="303.40" y1="102.80" x2="305.00" y2="102.80" stroke="#999" stroke-width="0.7"/>
<path d="M301.00 102.20h1.7v2.0" fill="none" stroke="#c4c4c4" stroke-width="0.9"/>
<line x1="303.40" y1="113.07" x2="305.00" y2="113.07" stroke="#999" stroke-width="0.7"/>
<path d="M301.00 112.47h1.7v2.0" fill="none" stroke="#c4c4c4" stroke-width="0.9"/>
<line x1="303.40" y1="123.33" x2="305.00" y2="123.33" stroke="#999" stroke-width="0.7"/>
<path d="M301.00 122.73h1.7v2.0" fill="none" stroke="#c4c4c4" stroke-width="0.9"/>
<line x1="303.40" y1="133.60" x2="305.00" y2="133.60" stroke="#999" stroke-width="0.7"/>
<path d="M301.00 133.00h1.7v2.0" fill="none" stroke="#c4c4c4" stroke-width="0.9"/>
<line x1="311.00" y1="141.60" x2="311.00" y2="143.20" stroke="#999" stroke-width="0.7"/>
<path d="M309.60 145.80v-1.7h2.2" fill="none" stroke="#8a8a8a" stroke-width="1.0"/>
<line x1="323.20" y1="141.60" x2="323.20" y2="143.20" stroke="#999" stroke-width="0.7"/>
<path d="M321.80 145.80v-1.7h2.2" fill="none" stroke="#8a8a8a" stroke-width="1.0"/>
<line x1="335.40" y1="141.60" x2="335.40" y2="143.20" stroke="#999" stroke-width="0.7"/>
<path d="M334.00 145.80v-1.7h2.2" fill="none" stroke="#8a8a8a" stroke-width="1.0"/>
<line x1="347.60" y1="141.60" x2="347.60" y2="143.20" stroke="#999" stroke-width="0.7"/>
<path d="M346.20 145.80v-1.7h2.2" fill="none" stroke="#8a8a8a" stroke-width="1.0"/>
<line x1="323.50" y1="98.80" x2="323.50" y2="141.60" stroke="#7a7a7a" stroke-width="0.8"/>
<line x1="305.00" y1="131.00" x2="353.60" y2="131.00" stroke="#7a7a7a" stroke-width="0.8"/>
<path d="M319.8 117.0h.01M315.9 112.5h.01M315.9 117.4h.01M315.7 117.2h.01M317.5 115.0h.01M323.6 119.1h.01M318.6 116.4h.01M322.8 114.4h.01M315.6 118.3h.01M322.6 115.7h.01M315.9 117.1h.01M313.4 115.7h.01M318.1 112.6h.01M321.3 117.7h.01M323.2 114.2h.01M313.9 115.2h.01M313.8 119.8h.01M315.1 116.0h.01M319.8 117.2h.01M324.7 114.8h.01M322.5 116.7h.01M314.4 116.7h.01M313.4 119.1h.01M316.1 118.1h.01M324.2 115.5h.01M315.4 116.7h.01M314.8 117.9h.01M319.7 115.3h.01M316.3 117.7h.01M313.2 119.2h.01M315.9 116.2h.01M315.3 119.1h.01M322.3 118.6h.01M321.6 116.6h.01M325.7 117.6h.01M320.7 117.4h.01M321.9 116.9h.01M318.3 114.0h.01M327.2 114.4h.01M310.4 115.4h.01M326.7 118.4h.01M316.6 116.9h.01M318.9 113.3h.01M317.7 117.0h.01M323.7 114.6h.01M310.0 114.0h.01M320.3 116.6h.01M319.6 116.7h.01M317.5 114.3h.01M320.8 117.1h.01M321.3 118.5h.01M314.1 112.8h.01M311.9 119.9h.01M315.3 117.1h.01M318.9 117.7h.01M331.8 115.7h.01M318.3 115.5h.01M320.0 117.3h.01M315.1 118.6h.01M323.6 117.2h.01M318.6 116.1h.01M312.4 117.5h.01M315.1 115.7h.01M323.0 115.0h.01M316.9 117.9h.01M326.4 115.4h.01M323.4 115.5h.01M320.6 117.3h.01M314.4 118.1h.01M326.2 116.6h.01M320.1 114.6h.01M326.2 116.6h.01M313.9 117.7h.01M313.2 115.4h.01M310.5 118.7h.01M327.8 115.5h.01M316.4 115.6h.01M316.7 117.4h.01M324.8 114.9h.01M320.8 113.6h.01M325.1 116.4h.01M316.2 118.9h.01M318.6 118.7h.01M323.3 119.2h.01M315.8 116.6h.01M320.5 116.2h.01M325.1 115.4h.01M323.0 118.7h.01M311.2 114.9h.01M315.4 115.6h.01M320.6 116.2h.01M319.3 115.8h.01M318.7 117.3h.01M322.0 115.2h.01M318.5 115.3h.01M318.3 114.2h.01M322.8 117.6h.01M318.5 115.4h.01M317.2 115.4h.01M312.8 119.1h.01M332.2 114.5h.01M314.3 117.4h.01M321.4 114.0h.01M311.3 117.4h.01M311.0 118.8h.01M317.0 116.6h.01M319.0 115.6h.01M318.4 116.0h.01M324.0 116.4h.01M318.9 115.7h.01M316.5 115.3h.01M319.0 119.4h.01M323.5 116.9h.01M325.7 118.1h.01M319.8 116.2h.01M314.6 116.9h.01M317.7 114.0h.01M313.9 119.6h.01M319.9 117.3h.01M319.8 115.8h.01M320.8 118.2h.01M317.8 117.3h.01M323.1 115.7h.01M319.7 115.3h.01M321.4 115.9h.01M323.6 115.3h.01M325.8 116.0h.01M315.6 115.1h.01M321.7 115.1h.01M326.2 118.6h.01" stroke="#111" stroke-width="0.84" stroke-linecap="round" fill="none" opacity="0.75"/>
<text x="348.60" y="109.00" font-size="9" text-anchor="end" font-weight="normal" fill="#141414">28</text>
<path d="M318.4 115.2h.01M317.5 116.0h.01M314.2 117.3h.01M321.5 116.2h.01M319.0 118.2h.01M315.8 116.4h.01M318.0 117.3h.01M315.4 117.0h.01M317.3 117.8h.01M314.6 116.2h.01M316.6 116.5h.01M318.8 116.1h.01M322.4 116.0h.01M319.0 117.9h.01M319.2 116.6h.01M316.0 116.5h.01M318.7 116.9h.01M318.5 117.4h.01M315.9 115.8h.01M320.1 116.3h.01M314.6 118.8h.01M316.0 115.8h.01M319.2 115.6h.01M315.9 118.0h.01M316.0 119.6h.01M317.7 119.8h.01M317.7 116.9h.01M316.3 116.6h.01M316.6 116.8h.01M318.9 115.4h.01M315.8 114.5h.01M320.2 116.7h.01M317.5 116.7h.01M319.3 117.2h.01M319.0 116.6h.01M317.3 116.7h.01M314.1 118.0h.01M314.7 115.7h.01M318.7 116.9h.01M319.0 118.7h.01M320.9 118.3h.01M317.1 119.1h.01M315.9 116.7h.01M319.3 116.6h.01M317.3 116.4h.01M320.0 114.1h.01M319.8 118.0h.01M317.4 117.4h.01M315.8 118.0h.01M323.0 115.8h.01M320.0 116.7h.01M316.9 116.3h.01M317.2 115.4h.01M315.1 118.6h.01M317.5 117.4h.01M318.1 117.3h.01M314.8 115.8h.01M318.6 117.9h.01M315.4 116.2h.01M315.6 117.5h.01" stroke="#111" stroke-width="0.9" stroke-linecap="round" fill="none" opacity="0.8"/>
<text x="240.00" y="50.40" font-size="8.7" text-anchor="middle" font-weight="normal" fill="#141414" transform="rotate(-90 240.00 50.40)">CTR</text>
<text x="240.20" y="122.00" font-size="8.7" text-anchor="middle" font-weight="normal" fill="#141414" transform="rotate(-90 240.20 122.00)">6A4</text>
<text x="233.50" y="85.00" font-size="8.7" text-anchor="middle" font-weight="normal" fill="#141414" transform="rotate(-90 233.50 85.00)">aCD16</text>
<line x1="229.50" y1="63.00" x2="229.50" y2="18.00" stroke="#222" stroke-width="1.2"/>
<path d="M229.50 15.00 L227.60 19.00 L231.40 19.00Z" fill="#222"/>
<line x1="229.50" y1="107.00" x2="229.50" y2="153.60" stroke="#222" stroke-width="1.2"/>
<text x="300.70" y="166.80" font-size="8.7" text-anchor="middle" font-weight="normal" fill="#141414">aCCR7</text>
<line x1="244.00" y1="164.40" x2="278.50" y2="164.40" stroke="#1a1a1a" stroke-width="1.1"/>
<line x1="323.00" y1="164.40" x2="355.50" y2="164.40" stroke="#1a1a1a" stroke-width="1.1"/>
<path d="M358.50 164.40 L354.50 162.50 L354.50 166.30Z" fill="#1a1a1a"/>
<text x="375.70" y="10.20" font-size="12" text-anchor="start" font-weight="bold" fill="#000">C</text>
<rect x="400.00" y="14.60" width="115.00" height="126.50" fill="none" stroke="#9a9a9a" stroke-width="0.9"/>
<line x1="398.00" y1="141.10" x2="400.00" y2="141.10" stroke="#666" stroke-width="0.8"/>
<text x="397.60" y="144.70" font-size="9" text-anchor="end" font-weight="normal" fill="#141414">0</text>
<line x1="398.00" y1="116.90" x2="400.00" y2="116.90" stroke="#666" stroke-width="0.8"/>
<text x="397.60" y="120.50" font-size="9" text-anchor="end" font-weight="normal" fill="#141414">1</text>
<line x1="398.00" y1="92.70" x2="400.00" y2="92.70" stroke="#666" stroke-width="0.8"/>
<text x="397.60" y="96.30" font-size="9" text-anchor="end" font-weight="normal" fill="#141414">2</text>
<line x1="398.00" y1="68.50" x2="400.00" y2="68.50" stroke="#666" stroke-width="0.8"/>
<text x="397.60" y="72.10" font-size="9" text-anchor="end" font-weight="normal" fill="#141414">3</text>
<line x1="398.00" y1="44.30" x2="400.00" y2="44.30" stroke="#666" stroke-width="0.8"/>
<text x="397.60" y="47.90" font-size="9" text-anchor="end" font-weight="normal" fill="#141414">4</text>
<line x1="398.00" y1="20.10" x2="400.00" y2="20.10" stroke="#666" stroke-width="0.8"/>
<text x="397.60" y="23.70" font-size="9" text-anchor="end" font-weight="normal" fill="#141414">5</text>
<text x="390.40" y="79.00" font-size="8.8" text-anchor="middle" font-weight="normal" fill="#141414" transform="rotate(-90 390.40 79.00)">MIGRATION INDEX</text>
<rect x="410.30" y="116.90" width="12.80" height="24.20" fill="#2b2b2b" stroke="none" stroke-width="1"/>
<line x1="437.40" y1="95.36" x2="437.40" y2="106.74" stroke="#8c8c8c" stroke-width="0.9"/>
<line x1="435.40" y1="95.36" x2="439.40" y2="95.36" stroke="#8c8c8c" stroke-width="0.9"/>
<rect x="431.00" y="101.17" width="12.80" height="39.93" fill="#2b2b2b" stroke="none" stroke-width="1"/>
<line x1="437.40" y1="101.17" x2="437.40" y2="106.74" stroke="#4a4a4a" stroke-width="0.8"/>
<line x1="435.40" y1="106.74" x2="439.40" y2="106.74" stroke="#4a4a4a" stroke-width="0.8"/>
<line x1="459.40" y1="89.07" x2="459.40" y2="104.32" stroke="#8c8c8c" stroke-width="0.9"/>
<line x1="457.40" y1="89.07" x2="461.40" y2="89.07" stroke="#8c8c8c" stroke-width="0.9"/>
<rect x="453.00" y="96.81" width="12.80" height="44.29" fill="#2b2b2b" stroke="none" stroke-width="1"/>
<line x1="459.40" y1="96.81" x2="459.40" y2="104.32" stroke="#4a4a4a" stroke-width="0.8"/>
<line x1="457.40" y1="104.32" x2="461.40" y2="104.32" stroke="#4a4a4a" stroke-width="0.8"/>
<line x1="480.90" y1="35.83" x2="480.90" y2="61.97" stroke="#8c8c8c" stroke-width="0.9"/>
<line x1="478.90" y1="35.83" x2="482.90" y2="35.83" stroke="#8c8c8c" stroke-width="0.9"/>
<rect x="474.50" y="48.66" width="12.80" height="92.44" fill="#2b2b2b" stroke="none" stroke-width="1"/>
<line x1="480.90" y1="48.66" x2="480.90" y2="61.97" stroke="#4a4a4a" stroke-width="0.8"/>
<line x1="478.90" y1="61.97" x2="482.90" y2="61.97" stroke="#4a4a4a" stroke-width="0.8"/>
<rect x="496.00" y="116.90" width="12.80" height="24.20" fill="#2b2b2b" stroke="none" stroke-width="1"/>
<path d="M415.6 35.5 Q415.9 33.9 418 33.9 L478 33.9 Q480 33.9 480.2 35.7 Q480.4 33.9 482.4 33.9 L498.6 33.9 Q500.6 33.9 500.9 35.5" fill="none" stroke="#222" stroke-width="1.1"/>
<text x="448.60" y="34.70" font-size="8" text-anchor="middle" font-weight="normal" fill="#141414">**</text>
<text x="491.60" y="34.70" font-size="8" text-anchor="middle" font-weight="normal" fill="#141414">**</text>
<text x="447.50" y="152.60" font-size="9" text-anchor="middle" font-weight="normal" fill="#141414" word-spacing="2">CTR 6A4</text>
<line x1="428.00" y1="154.60" x2="467.40" y2="154.60" stroke="#444" stroke-width="1.1"/>
<text x="491.30" y="152.60" font-size="9" text-anchor="middle" font-weight="normal" fill="#141414" word-spacing="2">CTR 6A4</text>
<line x1="472.00" y1="154.60" x2="511.00" y2="154.60" stroke="#444" stroke-width="1.1"/>
<text x="416.40" y="166.80" font-size="9" text-anchor="middle" font-weight="normal" fill="#141414">NK</text>
<text x="448.00" y="166.80" font-size="9" text-anchor="middle" font-weight="normal" fill="#141414">NK+</text>
<text x="448.00" y="176.80" font-size="9" text-anchor="middle" font-weight="normal" fill="#141414">221Cw3</text>
<text x="491.50" y="166.80" font-size="9" text-anchor="middle" font-weight="normal" fill="#141414">NK+</text>
<text x="491.50" y="176.80" font-size="9" text-anchor="middle" font-weight="normal" fill="#141414">221Cw4</text>
<text x="0.05" y="197.50" font-size="12" text-anchor="start" font-weight="bold" fill="#000">D</text>
<text x="70.00" y="196.80" font-size="8.9" text-anchor="start" font-weight="normal" fill="#141414">KIR2DS1<tspan font-size="5.5" dy="-3">+</tspan><tspan dy="3">&#8203;</tspan></text>
<text x="113.40" y="196.80" font-size="8.9" text-anchor="start" font-weight="normal" fill="#141414">NKG2A<tspan font-size="5.5" dy="-3">+</tspan><tspan dy="3">&#8203;</tspan></text>
<line x1="30.80" y1="199.05" x2="190.00" y2="199.05" stroke="#000" stroke-width="1.6"/>
<text x="55.40" y="211.70" font-size="9" text-anchor="middle" font-weight="normal" fill="#141414">221</text>
<text x="111.50" y="211.70" font-size="9" text-anchor="middle" font-weight="normal" fill="#141414">221Cw3</text>
<text x="166.00" y="211.70" font-size="9" text-anchor="middle" font-weight="normal" fill="#141414">221Cw4</text>
<rect x="33.60" y="214.40" width="43.90" height="39.70" fill="none" stroke="#9a9a9a" stroke-width="0.8"/>
<line x1="33.60" y1="214.40" x2="33.60" y2="254.10" stroke="#555" stroke-width="1.0"/>
<line x1="33.60" y1="254.10" x2="77.50" y2="254.10" stroke="#555" stroke-width="1.0"/>
<line x1="32.20" y1="214.90" x2="33.60" y2="214.90" stroke="#555" stroke-width="0.7"/>
<path d="M29.60 214.30h1.7v2.0" fill="none" stroke="#444" stroke-width="0.9"/>
<line x1="32.20" y1="224.57" x2="33.60" y2="224.57" stroke="#555" stroke-width="0.7"/>
<path d="M29.60 223.97h1.7v2.0" fill="none" stroke="#444" stroke-width="0.9"/>
<line x1="32.20" y1="234.25" x2="33.60" y2="234.25" stroke="#555" stroke-width="0.7"/>
<path d="M29.60 233.65h1.7v2.0" fill="none" stroke="#444" stroke-width="0.9"/>
<line x1="32.20" y1="243.93" x2="33.60" y2="243.93" stroke="#555" stroke-width="0.7"/>
<path d="M29.60 243.33h1.7v2.0" fill="none" stroke="#444" stroke-width="0.9"/>
<line x1="32.20" y1="253.60" x2="33.60" y2="253.60" stroke="#555" stroke-width="0.7"/>
<path d="M29.60 253.00h1.7v2.0" fill="none" stroke="#444" stroke-width="0.9"/>
<line x1="34.10" y1="254.10" x2="34.10" y2="255.50" stroke="#555" stroke-width="0.7"/>
<path d="M32.70 258.30v-1.7h2.2" fill="none" stroke="#444" stroke-width="1.0"/>
<line x1="44.83" y1="254.10" x2="44.83" y2="255.50" stroke="#555" stroke-width="0.7"/>
<path d="M43.43 258.30v-1.7h2.2" fill="none" stroke="#444" stroke-width="1.0"/>
<line x1="55.55" y1="254.10" x2="55.55" y2="255.50" stroke="#555" stroke-width="0.7"/>
<path d="M54.15 258.30v-1.7h2.2" fill="none" stroke="#444" stroke-width="1.0"/>
<line x1="66.28" y1="254.10" x2="66.28" y2="255.50" stroke="#555" stroke-width="0.7"/>
<path d="M64.88 258.30v-1.7h2.2" fill="none" stroke="#444" stroke-width="1.0"/>
<line x1="77.00" y1="254.10" x2="77.00" y2="255.50" stroke="#555" stroke-width="0.7"/>
<path d="M75.60 258.30v-1.7h2.2" fill="none" stroke="#444" stroke-width="1.0"/>
<line x1="49.60" y1="214.40" x2="49.60" y2="254.10" stroke="#6f6f6f" stroke-width="0.9"/>
<line x1="33.60" y1="231.30" x2="77.50" y2="231.30" stroke="#6f6f6f" stroke-width="0.9"/>
<path d="M48.2 224.4h.01M42.2 225.3h.01M46.3 222.8h.01M48.1 222.9h.01M51.8 225.6h.01M42.0 225.8h.01M46.5 222.8h.01M40.6 221.0h.01M39.3 225.4h.01M53.3 222.8h.01M47.1 225.1h.01M50.8 225.2h.01M53.5 225.8h.01M41.5 225.4h.01M46.2 225.7h.01M44.3 226.3h.01M54.0 222.3h.01M42.8 225.1h.01M49.0 224.6h.01M51.1 221.6h.01M50.8 226.8h.01M52.8 225.1h.01M44.7 225.3h.01M45.7 220.9h.01M42.5 224.4h.01M43.0 222.5h.01M44.7 223.6h.01M46.5 224.3h.01M47.1 226.5h.01M46.9 225.3h.01M38.8 218.2h.01M43.7 226.0h.01M44.1 223.1h.01M38.7 226.6h.01M42.9 225.1h.01M52.9 225.3h.01M59.6 223.6h.01M51.8 225.7h.01M42.2 224.6h.01M42.7 222.3h.01M47.9 222.6h.01M56.2 222.4h.01M42.8 224.7h.01M43.0 224.6h.01M42.5 221.4h.01M55.2 225.0h.01M47.0 223.3h.01M45.2 225.1h.01M37.8 223.0h.01M40.8 227.4h.01M39.8 227.2h.01M43.3 230.5h.01M45.6 224.5h.01M54.2 226.0h.01M51.7 221.9h.01M52.9 227.8h.01M45.5 223.4h.01M39.6 226.9h.01M47.9 224.3h.01M38.7 228.2h.01M51.4 224.2h.01M55.0 222.0h.01M51.4 222.0h.01M54.6 223.5h.01M53.4 223.2h.01M48.5 226.8h.01M40.7 224.8h.01M41.1 226.4h.01M42.5 223.7h.01M44.9 227.0h.01M39.9 224.6h.01M44.1 223.3h.01M41.4 224.2h.01M47.3 221.0h.01M47.5 221.8h.01M46.2 229.4h.01M40.3 224.5h.01M44.6 226.6h.01M43.3 220.6h.01M36.4 225.1h.01M47.6 226.7h.01M42.9 226.0h.01M39.7 227.5h.01M45.7 222.9h.01M47.2 228.2h.01M41.0 221.9h.01M40.0 222.1h.01M45.8 225.2h.01M45.1 224.9h.01M53.2 223.5h.01M38.6 219.7h.01M47.6 222.9h.01M44.6 225.4h.01M48.9 220.9h.01M40.4 224.8h.01M45.2 226.9h.01M43.1 220.0h.01M53.1 220.6h.01M40.3 225.5h.01M39.7 230.1h.01M47.5 225.5h.01M43.5 229.3h.01M49.3 222.7h.01M53.6 220.4h.01M42.6 225.2h.01M46.9 222.3h.01M55.6 227.3h.01M40.5 225.4h.01M42.3 223.6h.01M52.0 224.5h.01M45.4 224.6h.01M39.1 227.3h.01M41.6 227.4h.01M43.4 223.5h.01M55.0 224.5h.01M42.3 223.4h.01M49.7 228.4h.01M49.8 223.4h.01M39.4 223.2h.01M45.4 225.0h.01M42.2 227.3h.01M40.4 223.0h.01M49.1 225.3h.01M43.8 226.6h.01M37.7 228.3h.01M59.2 228.2h.01M46.8 228.7h.01M46.4 227.3h.01M44.9 224.9h.01M49.2 220.5h.01M44.9 228.2h.01M51.6 224.9h.01M47.3 227.4h.01M48.1 220.2h.01M40.4 224.0h.01M47.0 223.4h.01M45.5 228.1h.01M51.7 225.5h.01M46.2 224.5h.01M48.3 224.8h.01M41.8 226.3h.01M41.1 224.5h.01M44.0 222.0h.01M49.7 224.1h.01M39.1 224.5h.01M37.8 227.8h.01M49.2 228.6h.01M42.7 226.1h.01M40.3 222.8h.01M45.6 225.3h.01M51.6 223.6h.01M52.7 226.3h.01M40.9 224.2h.01M40.6 228.3h.01M42.8 226.5h.01M51.6 223.6h.01M43.2 225.3h.01M41.5 221.8h.01M40.3 225.4h.01M47.2 228.2h.01M35.2 225.9h.01M39.2 227.2h.01M50.3 224.5h.01M54.9 223.3h.01M42.9 222.2h.01M42.2 224.8h.01M50.1 227.0h.01M44.5 222.9h.01M44.1 223.5h.01M43.3 223.6h.01M40.9 224.5h.01M43.0 224.1h.01M37.8 225.0h.01M49.5 225.7h.01M42.8 222.0h.01M38.3 222.1h.01M42.3 223.9h.01M35.5 226.2h.01M36.9 223.2h.01M41.8 226.4h.01M57.1 223.2h.01M44.5 223.6h.01M44.9 224.1h.01M60.8 221.5h.01M45.5 222.7h.01M48.2 223.2h.01M49.5 221.9h.01M58.7 224.4h.01M35.6 226.3h.01M43.3 222.0h.01M48.7 223.2h.01M50.5 223.1h.01M51.5 224.5h.01M48.2 224.7h.01M43.9 223.7h.01M48.8 225.8h.01M43.7 229.3h.01M56.1 221.6h.01M52.5 224.0h.01M47.5 222.6h.01M55.9 222.3h.01M45.6 222.9h.01M57.6 226.7h.01M38.3 223.7h.01M48.3 223.4h.01M44.0 222.2h.01M47.6 222.0h.01M51.0 229.4h.01M44.2 228.0h.01M48.3 222.9h.01M44.1 222.4h.01M46.8 225.9h.01M51.6 223.6h.01M39.0 224.5h.01M56.0 224.6h.01M45.7 219.9h.01M43.5 225.7h.01M40.5 227.5h.01M42.8 222.7h.01M42.7 224.3h.01M52.0 223.0h.01M35.6 224.6h.01M49.2 227.6h.01M39.5 227.8h.01M50.1 225.2h.01M41.6 222.7h.01M40.5 226.6h.01M47.4 226.7h.01M56.8 224.1h.01M45.8 228.5h.01M38.4 223.7h.01M43.9 223.7h.01M46.9 222.6h.01M53.0 221.2h.01M41.3 221.0h.01M37.8 226.0h.01M49.8 223.8h.01M51.1 225.6h.01M42.7 224.5h.01M48.3 228.6h.01M43.5 225.3h.01M49.3 226.9h.01M48.6 226.6h.01M39.8 224.1h.01M34.7 224.7h.01M59.9 224.4h.01M46.6 225.0h.01M47.0 221.5h.01M42.0 224.2h.01M47.1 222.5h.01M45.5 222.9h.01M38.3 223.3h.01M41.4 226.4h.01M54.0 225.4h.01M44.9 223.3h.01M36.8 223.6h.01" stroke="#333" stroke-width="0.8" stroke-linecap="round" fill="none" opacity="0.2"/>
<path d="M51.0 224.4h.01M46.1 223.1h.01M45.3 223.8h.01M45.3 223.8h.01M42.5 223.5h.01M44.0 224.5h.01M40.8 224.8h.01M45.0 222.9h.01M45.4 223.5h.01M44.5 223.8h.01M43.2 221.8h.01M47.8 223.3h.01M51.4 223.6h.01M38.0 224.8h.01M42.8 224.0h.01M53.4 224.2h.01M41.3 223.4h.01M39.5 224.2h.01M47.3 222.4h.01M46.9 224.3h.01M48.2 222.7h.01M42.8 222.4h.01M40.6 223.8h.01M45.4 224.7h.01M46.3 223.1h.01M40.1 225.0h.01M45.9 223.4h.01M41.6 222.5h.01M47.6 222.4h.01M47.4 224.0h.01M43.9 221.9h.01M46.8 224.7h.01M42.3 222.3h.01M49.3 223.4h.01M43.0 224.7h.01M44.3 223.9h.01M43.8 222.7h.01M46.1 222.6h.01M38.9 223.1h.01M49.8 224.3h.01M53.2 224.2h.01M51.2 223.5h.01M43.7 223.9h.01M41.9 224.2h.01M43.7 223.7h.01M42.2 223.4h.01M48.9 223.1h.01M42.9 223.7h.01M48.5 223.1h.01M41.1 222.0h.01M40.4 224.6h.01M45.0 223.9h.01M49.2 223.6h.01M47.1 222.9h.01M39.5 224.2h.01M45.0 224.0h.01M41.4 223.4h.01M52.6 222.4h.01M45.7 224.7h.01M44.5 223.6h.01M37.6 224.4h.01M43.7 224.7h.01M45.0 223.1h.01M46.9 223.1h.01M43.4 224.9h.01M48.9 223.4h.01M48.2 224.1h.01M47.4 223.4h.01M45.6 223.8h.01M47.4 223.7h.01M43.3 223.4h.01M47.0 222.4h.01M45.3 224.1h.01M45.9 223.1h.01M45.2 223.0h.01M48.9 223.0h.01M39.3 222.4h.01M46.4 223.6h.01M43.6 222.2h.01M44.8 222.6h.01M42.9 223.5h.01M42.5 223.8h.01M42.6 223.0h.01M44.5 224.8h.01M51.0 224.2h.01M42.6 223.5h.01M48.6 224.1h.01M39.4 223.5h.01M42.6 224.2h.01M47.6 222.8h.01M53.1 222.9h.01M54.1 223.0h.01M45.0 225.2h.01M43.4 223.0h.01M50.6 223.2h.01M47.0 222.2h.01M51.8 224.2h.01M46.6 224.1h.01M43.5 223.0h.01M39.6 223.9h.01M49.8 224.1h.01M48.6 224.0h.01M42.0 222.3h.01M47.6 223.5h.01M48.9 223.1h.01M42.1 223.9h.01M43.3 221.9h.01M43.1 222.6h.01M41.3 223.0h.01M48.7 225.6h.01M51.6 222.9h.01M49.4 223.2h.01M46.8 222.7h.01M45.0 221.8h.01M51.8 222.5h.01M47.4 222.8h.01M46.3 222.3h.01M43.9 224.3h.01M47.5 221.5h.01M48.4 222.1h.01M46.3 223.9h.01M43.0 223.2h.01M44.4 223.8h.01M48.6 224.6h.01M46.5 225.3h.01M41.9 225.2h.01M44.4 224.2h.01M44.8 223.5h.01M42.0 223.9h.01M52.6 223.4h.01M45.2 223.4h.01M47.9 223.2h.01M45.3 223.6h.01M50.0 224.2h.01M41.5 222.9h.01M45.4 224.2h.01M48.8 223.1h.01M53.0 223.1h.01M50.4 224.6h.01M51.1 223.5h.01M47.4 221.9h.01M38.9 223.0h.01M47.9 224.4h.01M44.9 224.4h.01M47.4 224.8h.01M39.5 222.8h.01M41.8 222.5h.01M51.3 222.4h.01M42.3 223.1h.01M48.5 222.9h.01M48.0 223.9h.01M43.0 221.2h.01M42.0 222.3h.01M51.2 222.6h.01M41.4 223.9h.01M45.5 222.5h.01M49.3 224.2h.01M46.3 222.7h.01M42.1 221.6h.01M46.7 223.7h.01M42.0 223.5h.01M57.2 222.0h.01M39.1 224.2h.01M43.8 223.0h.01M47.6 223.2h.01M48.9 223.8h.01M49.5 223.4h.01M37.5 224.9h.01M39.1 224.6h.01M46.2 222.1h.01M45.5 224.2h.01M41.6 223.6h.01M42.6 222.5h.01M43.1 224.7h.01M47.8 223.3h.01M45.0 223.5h.01M46.3 223.6h.01M39.1 224.5h.01M42.2 221.0h.01M47.9 222.2h.01M44.8 223.3h.01M43.2 224.0h.01M44.3 223.2h.01M41.8 223.2h.01M41.5 223.6h.01M50.1 224.2h.01M46.9 222.1h.01M49.0 224.2h.01M52.8 221.1h.01M45.4 223.1h.01M49.3 222.3h.01M43.9 225.6h.01M48.9 221.4h.01M45.4 224.7h.01M43.1 224.0h.01M45.7 222.0h.01M43.0 224.5h.01M49.6 222.7h.01M49.4 222.6h.01M46.2 223.4h.01M40.8 223.8h.01M43.9 220.8h.01M42.3 222.7h.01M42.3 222.6h.01M42.8 221.2h.01M48.5 223.4h.01M46.2 223.1h.01M45.5 223.2h.01M41.3 222.1h.01M45.6 224.4h.01M46.2 224.9h.01M40.3 223.3h.01M43.1 224.6h.01M51.5 222.7h.01M48.0 223.1h.01M41.7 223.4h.01M41.5 225.0h.01M47.4 224.5h.01M46.6 221.1h.01M48.2 223.4h.01M36.6 223.7h.01M49.0 224.9h.01M41.6 224.3h.01M46.5 223.2h.01M44.3 223.9h.01M47.4 224.0h.01M43.8 222.2h.01M50.1 224.5h.01M43.2 223.4h.01M48.2 221.7h.01M47.1 225.7h.01M46.3 222.7h.01M52.7 223.2h.01M46.1 223.0h.01M46.0 221.7h.01M40.6 222.1h.01M48.6 223.2h.01M49.5 221.3h.01M43.1 224.8h.01M42.4 221.7h.01M42.6 223.1h.01M45.3 224.6h.01M50.1 224.8h.01M47.4 222.9h.01M43.5 222.0h.01M49.9 224.5h.01M45.6 222.5h.01M47.8 223.8h.01M45.9 222.3h.01M46.2 222.8h.01M48.0 223.9h.01M46.9 223.0h.01M50.8 224.0h.01M49.9 224.1h.01M47.7 223.7h.01M41.4 221.8h.01M41.9 224.1h.01M48.6 223.5h.01M45.6 225.1h.01M43.9 221.7h.01M39.7 223.2h.01M47.8 224.0h.01M44.5 224.2h.01M45.1 222.7h.01M43.9 224.2h.01M48.8 222.2h.01M41.7 223.6h.01M53.0 222.1h.01M40.8 223.9h.01M47.1 222.8h.01M45.2 223.9h.01M39.0 223.5h.01M47.5 224.2h.01M49.5 223.2h.01M40.1 224.8h.01M48.1 222.7h.01M49.1 224.3h.01M44.8 221.2h.01M43.6 222.7h.01M42.3 223.4h.01M41.4 223.9h.01M52.2 222.1h.01M49.1 222.8h.01M47.3 223.2h.01M50.0 222.6h.01M48.0 222.6h.01M46.1 223.4h.01M49.2 221.8h.01M40.4 224.9h.01M46.7 225.0h.01M41.6 223.7h.01M47.5 225.0h.01M45.1 223.0h.01M47.9 223.2h.01M42.6 224.2h.01M38.4 222.6h.01M50.2 222.8h.01M44.1 223.8h.01M49.4 223.8h.01M41.8 223.0h.01" stroke="#1a1a1a" stroke-width="0.84" stroke-linecap="round" fill="none" opacity="0.4"/>
<path d="M47.5 223.3h.01M44.0 224.0h.01M47.6 224.7h.01M43.1 223.0h.01M43.9 223.7h.01M44.3 224.1h.01M39.8 224.2h.01M44.0 223.3h.01M46.5 223.5h.01M43.2 224.4h.01M46.5 223.1h.01M45.7 222.7h.01M42.8 223.3h.01M46.0 223.4h.01M43.7 222.6h.01M41.9 224.5h.01M46.1 222.9h.01M47.7 223.7h.01M44.5 223.0h.01M47.6 223.5h.01M48.7 223.5h.01M44.1 223.1h.01M43.9 223.6h.01M45.8 223.8h.01M46.2 222.7h.01M44.9 222.8h.01M46.3 222.6h.01M44.1 222.9h.01M44.0 223.3h.01M48.4 223.1h.01M42.4 223.3h.01M46.8 223.7h.01M45.8 224.6h.01M47.6 223.4h.01M47.8 222.5h.01M45.0 222.9h.01M45.7 224.4h.01M44.3 224.4h.01M43.2 224.3h.01M41.8 223.0h.01M47.3 223.3h.01M45.6 223.4h.01M45.7 223.3h.01M43.3 223.3h.01M45.5 222.8h.01M46.3 224.5h.01M41.9 223.2h.01M44.7 223.4h.01M45.5 222.9h.01M45.2 223.4h.01M45.1 224.4h.01M45.6 222.5h.01M42.1 223.9h.01M44.6 223.0h.01M42.5 223.3h.01M45.1 223.0h.01M44.6 224.0h.01M46.9 223.7h.01M44.9 222.6h.01M46.9 224.3h.01M47.9 224.0h.01M45.9 223.6h.01M45.3 224.2h.01M44.8 224.7h.01M46.9 223.2h.01M45.3 222.4h.01M43.8 223.3h.01M50.3 222.7h.01M47.2 223.4h.01M44.7 223.8h.01M41.2 224.1h.01M49.2 223.5h.01M45.2 223.5h.01M46.7 223.1h.01M45.5 223.7h.01M44.6 223.7h.01M46.0 223.8h.01M43.3 223.1h.01M44.4 224.2h.01M45.8 222.4h.01M42.7 224.7h.01M46.0 222.6h.01M43.4 223.5h.01M48.2 224.3h.01M44.6 223.2h.01M49.2 222.7h.01M48.5 223.5h.01M45.5 224.2h.01M46.3 222.9h.01M42.2 223.5h.01M46.3 224.2h.01M40.0 224.4h.01M46.6 224.3h.01M46.9 223.5h.01M46.2 223.6h.01M44.0 223.4h.01M45.6 223.1h.01M42.3 222.6h.01M46.3 223.7h.01M45.5 222.7h.01M47.0 223.1h.01M41.1 224.5h.01M42.3 224.9h.01M46.4 223.1h.01M40.5 223.1h.01M48.3 224.2h.01M45.8 222.3h.01M44.5 223.2h.01M46.2 223.3h.01M46.0 222.4h.01M44.0 224.3h.01M42.3 224.1h.01M50.0 223.7h.01M42.5 224.3h.01M41.5 223.7h.01M44.5 224.2h.01M47.7 223.4h.01M49.0 223.9h.01M44.3 222.8h.01M50.3 223.0h.01M46.1 223.3h.01M44.3 222.4h.01M45.0 223.3h.01M47.3 223.0h.01M42.1 222.8h.01M45.2 223.6h.01M46.8 223.1h.01M46.4 223.5h.01M48.7 223.3h.01M45.6 223.7h.01M47.8 222.7h.01M44.3 223.3h.01M41.0 224.3h.01M47.5 223.3h.01M52.2 224.0h.01M49.4 224.3h.01M47.1 222.5h.01M48.4 223.6h.01M42.9 223.5h.01M46.8 224.0h.01M45.7 223.1h.01M46.9 222.9h.01M45.1 223.9h.01M42.4 223.7h.01M41.3 222.9h.01M42.8 223.4h.01M46.8 223.3h.01M47.2 223.4h.01M44.9 223.7h.01M44.8 223.5h.01M47.4 223.0h.01M47.7 222.6h.01M44.9 222.3h.01M44.2 224.4h.01M46.0 224.2h.01M42.3 222.9h.01M46.3 223.9h.01M47.0 222.3h.01M46.3 223.3h.01M45.5 223.7h.01M44.7 222.4h.01M43.1 222.6h.01M42.6 223.4h.01M48.0 222.9h.01M43.7 222.7h.01M41.8 223.6h.01M44.3 223.3h.01M43.3 223.8h.01M42.8 223.8h.01M43.9 223.9h.01M43.5 223.7h.01M46.2 223.3h.01M48.6 223.4h.01M43.5 223.9h.01M43.6 223.1h.01M45.3 223.5h.01M48.8 222.2h.01M44.8 224.1h.01M45.0 223.6h.01M48.4 222.5h.01" stroke="#0c0c0c" stroke-width="0.9" stroke-linecap="round" fill="none" opacity="0.6"/>
<path d="M55.8 224.0h.01M52.7 221.1h.01M50.7 223.3h.01M56.5 225.2h.01M62.1 221.3h.01M60.7 224.2h.01M63.5 222.9h.01M52.9 223.3h.01M63.1 223.8h.01M63.9 224.0h.01M52.7 221.9h.01M64.6 221.3h.01M53.9 222.7h.01M51.2 222.4h.01M55.6 225.9h.01M55.3 222.5h.01M56.2 224.2h.01M51.6 222.6h.01M47.1 223.9h.01M58.9 224.8h.01M49.8 225.6h.01M59.9 222.8h.01M53.7 222.7h.01M49.7 224.0h.01M52.6 222.3h.01M58.1 223.2h.01M52.8 222.8h.01M53.2 224.7h.01M60.5 222.3h.01M55.4 224.7h.01M54.2 225.2h.01M57.8 223.9h.01M45.5 224.1h.01M57.3 223.8h.01M57.9 223.7h.01M53.1 224.1h.01M55.9 221.9h.01M50.6 223.3h.01M57.2 220.5h.01M45.5 224.3h.01M55.5 226.4h.01M48.1 222.8h.01M52.7 223.7h.01M62.5 225.0h.01M50.7 224.5h.01M49.7 223.5h.01M56.4 223.8h.01M51.7 224.7h.01M55.3 223.1h.01M54.3 221.9h.01M59.1 223.5h.01M57.8 225.3h.01M51.4 222.8h.01M55.6 224.1h.01M54.7 224.2h.01" stroke="#555" stroke-width="0.76" stroke-linecap="round" fill="none" opacity="0.28"/>
<text x="75.90" y="226.00" font-size="9" text-anchor="end" font-weight="normal" fill="#141414">16</text>
<rect x="89.40" y="214.40" width="43.30" height="39.70" fill="none" stroke="#9a9a9a" stroke-width="0.8"/>
<line x1="89.40" y1="214.40" x2="89.40" y2="254.10" stroke="#555" stroke-width="1.0"/>
<line x1="89.40" y1="254.10" x2="132.70" y2="254.10" stroke="#555" stroke-width="1.0"/>
<line x1="88.00" y1="214.90" x2="89.40" y2="214.90" stroke="#555" stroke-width="0.7"/>
<path d="M85.40 214.30h1.7v2.0" fill="none" stroke="#444" stroke-width="0.9"/>
<line x1="88.00" y1="224.57" x2="89.40" y2="224.57" stroke="#555" stroke-width="0.7"/>
<path d="M85.40 223.97h1.7v2.0" fill="none" stroke="#444" stroke-width="0.9"/>
<line x1="88.00" y1="234.25" x2="89.40" y2="234.25" stroke="#555" stroke-width="0.7"/>
<path d="M85.40 233.65h1.7v2.0" fill="none" stroke="#444" stroke-width="0.9"/>
<line x1="88.00" y1="243.93" x2="89.40" y2="243.93" stroke="#555" stroke-width="0.7"/>
<path d="M85.40 243.33h1.7v2.0" fill="none" stroke="#444" stroke-width="0.9"/>
<line x1="88.00" y1="253.60" x2="89.40" y2="253.60" stroke="#555" stroke-width="0.7"/>
<path d="M85.40 253.00h1.7v2.0" fill="none" stroke="#444" stroke-width="0.9"/>
<line x1="89.90" y1="254.10" x2="89.90" y2="255.50" stroke="#555" stroke-width="0.7"/>
<path d="M88.50 258.30v-1.7h2.2" fill="none" stroke="#444" stroke-width="1.0"/>
<line x1="100.47" y1="254.10" x2="100.47" y2="255.50" stroke="#555" stroke-width="0.7"/>
<path d="M99.07 258.30v-1.7h2.2" fill="none" stroke="#444" stroke-width="1.0"/>
<line x1="111.05" y1="254.10" x2="111.05" y2="255.50" stroke="#555" stroke-width="0.7"/>
<path d="M109.65 258.30v-1.7h2.2" fill="none" stroke="#444" stroke-width="1.0"/>
<line x1="121.62" y1="254.10" x2="121.62" y2="255.50" stroke="#555" stroke-width="0.7"/>
<path d="M120.22 258.30v-1.7h2.2" fill="none" stroke="#444" stroke-width="1.0"/>
<line x1="132.20" y1="254.10" x2="132.20" y2="255.50" stroke="#555" stroke-width="0.7"/>
<path d="M130.80 258.30v-1.7h2.2" fill="none" stroke="#444" stroke-width="1.0"/>
<line x1="104.50" y1="214.40" x2="104.50" y2="254.10" stroke="#6f6f6f" stroke-width="0.9"/>
<line x1="89.40" y1="231.30" x2="132.70" y2="231.30" stroke="#6f6f6f" stroke-width="0.9"/>
<path d="M103.2 220.6h.01M96.5 220.2h.01M98.8 223.6h.01M104.0 224.6h.01M100.1 227.1h.01M104.0 221.7h.01M96.5 225.2h.01M110.5 223.6h.01M99.5 225.0h.01M105.1 224.0h.01M102.2 223.4h.01M97.3 222.8h.01M104.4 223.1h.01M103.7 225.1h.01M106.2 218.5h.01M94.8 222.0h.01M99.5 226.1h.01M115.3 227.1h.01M108.5 224.9h.01M98.2 225.6h.01M100.6 225.7h.01M94.5 222.3h.01M96.7 224.4h.01M102.5 223.6h.01M102.5 225.8h.01M93.7 224.4h.01M91.4 223.6h.01M105.8 222.7h.01M111.4 225.1h.01M105.7 224.4h.01M105.6 226.5h.01M101.1 223.3h.01M97.3 228.6h.01M99.4 223.5h.01M96.4 221.0h.01M97.6 225.2h.01M97.7 222.9h.01M102.9 225.3h.01M97.9 225.1h.01M94.8 226.4h.01M94.7 223.9h.01M101.3 223.5h.01M93.8 229.1h.01M109.4 220.4h.01M101.2 221.7h.01M102.3 221.6h.01M103.9 225.4h.01M110.5 226.6h.01M97.8 226.5h.01M97.8 224.3h.01M97.6 220.8h.01M104.0 219.9h.01M99.1 225.6h.01M101.2 221.0h.01M96.7 226.0h.01M106.9 227.6h.01M97.7 226.1h.01M90.6 224.5h.01M104.6 222.9h.01M98.4 222.4h.01M107.0 221.3h.01M95.1 223.9h.01M98.6 229.0h.01M102.1 222.6h.01M103.9 225.0h.01M102.2 224.2h.01M103.2 221.8h.01M93.5 223.8h.01M94.0 226.1h.01M111.9 226.6h.01M103.1 225.0h.01M96.5 221.8h.01M103.7 221.1h.01M102.3 224.0h.01M104.9 224.3h.01M101.1 223.1h.01M90.4 224.0h.01M104.6 226.5h.01M108.6 222.0h.01M95.0 226.1h.01M97.8 230.0h.01M102.3 221.1h.01M97.2 227.9h.01M92.4 228.1h.01M97.9 222.3h.01M90.5 223.2h.01M113.3 224.1h.01M98.9 222.0h.01M102.5 223.3h.01M95.5 227.5h.01M103.1 222.4h.01M109.2 224.0h.01M103.5 224.6h.01M107.4 225.5h.01M98.5 226.0h.01M98.2 224.8h.01M110.1 221.8h.01M94.4 223.8h.01M97.6 227.3h.01M91.2 229.6h.01M109.8 223.1h.01M101.6 223.6h.01M104.4 225.7h.01M104.9 225.9h.01M111.8 223.6h.01M104.6 223.9h.01M100.7 224.9h.01M100.2 225.1h.01M95.5 224.3h.01M97.0 222.0h.01M96.4 223.5h.01M99.6 221.1h.01M99.0 222.0h.01M95.7 225.0h.01M107.0 224.8h.01M97.6 223.6h.01M108.4 220.6h.01M107.2 220.9h.01M96.8 224.6h.01M99.2 228.0h.01M103.4 224.2h.01M106.1 224.3h.01M95.8 227.0h.01M109.3 226.8h.01M93.6 228.7h.01M98.1 226.1h.01M107.5 229.2h.01M91.0 222.6h.01M107.4 225.2h.01M98.7 218.2h.01M103.1 223.9h.01M100.5 224.9h.01M104.9 223.7h.01M95.2 223.8h.01M112.1 222.5h.01M100.0 228.5h.01M106.7 224.4h.01M104.8 223.7h.01M95.2 226.7h.01M101.3 227.8h.01M99.0 223.7h.01M102.5 223.9h.01M98.7 222.6h.01M102.0 225.0h.01M111.3 223.9h.01M114.0 223.0h.01M95.8 224.2h.01M99.4 221.2h.01M103.9 222.4h.01M104.2 228.4h.01M107.9 224.5h.01M97.5 224.0h.01M106.2 223.1h.01M103.0 226.4h.01M95.2 223.3h.01M103.1 224.3h.01M99.8 223.3h.01M100.1 228.4h.01M108.5 220.7h.01M100.8 224.6h.01M100.7 221.4h.01M99.7 224.7h.01M96.5 225.2h.01M101.1 225.2h.01M99.5 223.5h.01M101.6 226.7h.01M105.8 224.0h.01M97.8 226.8h.01M103.7 226.2h.01M98.9 222.6h.01M101.6 223.0h.01M107.3 226.0h.01M108.3 226.3h.01M97.7 222.7h.01M106.2 226.4h.01M100.9 221.9h.01M91.5 225.3h.01M95.6 223.1h.01M103.1 226.6h.01M108.2 224.0h.01M98.5 225.8h.01M93.8 222.0h.01M100.6 227.7h.01M106.5 224.2h.01M106.5 223.3h.01M93.6 221.1h.01M102.1 226.3h.01M102.7 224.2h.01M98.1 226.8h.01M100.2 221.3h.01M108.6 222.7h.01M102.8 224.3h.01M106.7 224.7h.01M107.7 224.6h.01M97.8 223.4h.01M104.3 222.5h.01M106.0 223.7h.01M95.0 222.7h.01M99.6 228.2h.01M105.0 224.3h.01M95.2 228.7h.01M98.9 224.5h.01M98.0 227.4h.01M101.5 223.4h.01M101.6 222.2h.01M94.3 224.3h.01M112.2 221.6h.01M99.7 221.0h.01M101.5 224.8h.01M104.9 221.4h.01M97.0 223.1h.01M99.1 229.4h.01M99.3 224.4h.01M97.5 226.2h.01M115.6 226.3h.01M109.5 221.8h.01M106.7 224.2h.01M107.9 226.4h.01M104.4 220.7h.01M101.3 223.3h.01M103.1 224.4h.01M106.7 220.7h.01M96.1 224.4h.01M102.4 223.5h.01M100.3 224.5h.01M106.7 223.9h.01M101.9 220.4h.01M102.6 219.4h.01M102.9 224.1h.01M100.5 222.8h.01M98.0 226.3h.01M102.6 224.3h.01M97.6 225.0h.01M107.5 224.1h.01M98.3 221.9h.01M101.1 222.4h.01M92.0 226.6h.01M96.8 220.2h.01M96.3 228.5h.01M99.9 221.6h.01M94.0 226.2h.01M102.9 224.8h.01M99.3 225.5h.01M109.6 225.1h.01M99.5 221.4h.01" stroke="#333" stroke-width="0.8" stroke-linecap="round" fill="none" opacity="0.2"/>
<path d="M101.3 224.9h.01M102.1 222.1h.01M100.4 224.7h.01M97.4 223.9h.01M104.1 224.9h.01M93.9 221.8h.01M101.1 224.1h.01M98.4 223.4h.01M98.2 224.6h.01M91.6 223.9h.01M95.0 222.9h.01M94.1 222.7h.01M99.6 223.4h.01M106.2 223.0h.01M101.0 223.7h.01M100.6 224.8h.01M100.2 223.5h.01M99.3 223.4h.01M99.5 224.4h.01M99.8 223.5h.01M99.5 224.1h.01M98.0 224.4h.01M97.6 224.1h.01M106.7 223.4h.01M99.4 222.3h.01M102.4 223.3h.01M103.0 222.7h.01M101.6 225.1h.01M101.2 223.0h.01M95.0 223.5h.01M102.1 223.9h.01M95.6 222.5h.01M96.1 222.5h.01M98.7 223.7h.01M106.7 223.4h.01M105.0 221.6h.01M105.3 224.0h.01M101.3 224.2h.01M102.0 225.2h.01M102.6 221.6h.01M93.3 225.2h.01M99.4 224.7h.01M98.4 222.8h.01M98.4 223.7h.01M100.4 222.8h.01M101.7 224.0h.01M96.3 222.4h.01M92.5 223.3h.01M99.7 222.7h.01M97.5 223.3h.01M99.8 224.0h.01M102.7 223.7h.01M103.8 222.3h.01M101.9 223.7h.01M95.9 222.8h.01M101.3 223.4h.01M95.1 223.0h.01M105.3 224.1h.01M100.0 224.7h.01M96.4 223.3h.01M103.2 223.0h.01M95.6 224.1h.01M105.6 220.7h.01M100.3 222.2h.01M98.6 222.0h.01M109.2 222.5h.01M99.9 222.7h.01M96.1 223.1h.01M100.5 225.1h.01M100.7 224.9h.01M95.8 223.6h.01M98.1 221.9h.01M113.3 222.8h.01M100.6 222.6h.01M97.6 222.4h.01M103.4 222.9h.01M99.2 223.6h.01M95.2 223.7h.01M99.1 223.9h.01M98.3 223.5h.01M101.6 224.3h.01M97.2 224.4h.01M96.1 223.3h.01M100.2 223.5h.01M90.6 222.7h.01M99.0 224.3h.01M97.1 225.0h.01M93.1 223.7h.01M101.7 223.4h.01M100.7 224.3h.01M96.8 224.1h.01M103.6 223.1h.01M91.2 222.5h.01M96.6 222.4h.01M101.3 222.6h.01M108.8 223.7h.01M94.9 223.2h.01M105.3 223.9h.01M96.0 224.5h.01M98.0 225.6h.01M97.7 224.0h.01M101.8 222.9h.01M99.1 224.6h.01M101.5 223.3h.01M101.3 225.1h.01M103.1 223.8h.01M100.9 221.8h.01M100.2 222.9h.01M102.4 222.7h.01M101.3 222.3h.01M103.0 222.6h.01M99.6 224.0h.01M98.5 223.4h.01M103.6 225.0h.01M93.1 222.7h.01M102.2 224.3h.01M98.0 223.5h.01M99.0 225.7h.01M99.0 222.2h.01M94.0 222.3h.01M104.5 222.9h.01M106.8 223.8h.01M101.1 224.0h.01M102.6 224.2h.01M96.1 222.9h.01M97.7 223.6h.01M98.8 222.2h.01M97.2 225.2h.01M107.5 222.3h.01M101.1 223.3h.01M96.6 224.2h.01M99.4 225.0h.01M101.4 223.0h.01M102.8 222.6h.01M102.9 224.0h.01M93.2 223.4h.01M100.9 224.1h.01M100.3 223.4h.01M98.4 223.1h.01M99.7 222.4h.01M102.0 223.0h.01M101.6 222.9h.01M101.2 223.5h.01M103.0 223.8h.01M103.1 223.1h.01M99.5 223.1h.01M95.1 223.4h.01M103.7 224.0h.01M96.6 223.8h.01M102.4 222.0h.01M101.0 223.7h.01M102.4 223.6h.01M93.3 221.6h.01M107.0 222.8h.01M104.4 224.5h.01M100.0 222.3h.01M104.7 223.2h.01M101.6 223.8h.01M103.2 224.3h.01M94.5 222.2h.01M100.2 223.4h.01M102.5 223.2h.01M99.0 225.4h.01M104.7 224.4h.01M103.5 222.5h.01M99.4 223.3h.01M95.7 222.7h.01M100.3 222.2h.01M101.7 223.8h.01M98.8 223.1h.01M101.9 223.8h.01M101.0 222.2h.01M93.8 225.6h.01M97.3 223.1h.01M93.0 222.8h.01M97.0 224.3h.01M98.2 223.0h.01M96.9 223.0h.01M93.9 223.8h.01M104.1 223.4h.01M97.7 224.7h.01M101.5 222.3h.01M97.6 222.9h.01M99.5 224.6h.01M97.1 223.3h.01M100.1 222.2h.01M98.0 224.0h.01M103.8 221.5h.01M102.3 223.0h.01M104.4 223.9h.01M106.9 223.5h.01M98.3 222.6h.01M94.5 224.1h.01M101.6 224.2h.01M101.0 221.9h.01M98.2 223.2h.01M100.3 224.1h.01M104.9 223.5h.01M92.2 222.6h.01M91.9 222.9h.01M95.3 223.8h.01M98.9 224.5h.01M103.6 222.8h.01M103.2 223.3h.01M101.4 224.7h.01M95.5 223.4h.01M105.3 222.5h.01M100.5 223.5h.01M98.2 222.2h.01M97.2 222.5h.01M103.7 223.5h.01M102.3 222.2h.01M101.5 223.5h.01M103.5 222.6h.01M102.7 224.7h.01M106.3 222.3h.01M95.6 222.1h.01M103.2 223.9h.01M101.0 222.5h.01M104.3 224.8h.01M99.6 223.3h.01M104.1 223.8h.01M104.6 222.9h.01M100.9 223.0h.01M97.6 223.2h.01M98.7 223.9h.01M98.6 223.5h.01M96.7 222.3h.01M104.9 222.3h.01M106.3 224.1h.01M91.3 223.0h.01M98.2 223.5h.01M99.1 222.8h.01M104.3 223.2h.01M103.2 222.6h.01M97.2 224.8h.01M98.7 222.4h.01M99.1 224.4h.01M99.1 222.7h.01M102.0 224.3h.01M98.9 223.1h.01M98.4 226.1h.01M99.0 225.1h.01M99.2 223.8h.01M92.3 223.8h.01M99.9 223.1h.01M98.2 222.1h.01M94.3 223.7h.01M97.4 223.4h.01M99.0 222.9h.01M97.0 225.3h.01M95.7 223.0h.01M98.6 222.3h.01M96.2 224.3h.01M103.1 223.4h.01M111.6 223.9h.01M104.2 222.5h.01M103.7 224.9h.01M98.3 225.2h.01M96.8 222.4h.01M99.5 222.6h.01M102.0 222.3h.01M100.0 221.5h.01M99.6 224.4h.01M98.7 223.7h.01M103.7 222.2h.01M95.1 223.6h.01M100.7 223.1h.01M96.2 224.7h.01M95.5 223.3h.01M99.6 224.1h.01M98.1 222.6h.01M107.1 222.4h.01M102.6 223.2h.01M98.0 223.4h.01M98.8 223.7h.01M90.4 223.6h.01M100.0 222.4h.01M98.3 225.7h.01M106.5 223.8h.01M100.6 223.1h.01M104.8 222.8h.01M96.7 224.2h.01M96.2 222.7h.01M105.0 221.7h.01M99.5 223.5h.01M100.7 222.0h.01M98.9 223.1h.01M106.7 224.2h.01M97.0 224.3h.01M102.1 223.2h.01M98.8 223.2h.01M94.1 222.9h.01M103.1 224.7h.01M106.5 222.9h.01M102.0 221.0h.01M98.7 222.2h.01M102.7 221.7h.01" stroke="#1a1a1a" stroke-width="0.84" stroke-linecap="round" fill="none" opacity="0.4"/>
<path d="M97.5 222.8h.01M100.5 223.9h.01M97.8 224.6h.01M100.0 222.9h.01M100.4 223.4h.01M101.4 223.6h.01M104.2 224.0h.01M98.4 223.9h.01M101.3 222.7h.01M98.2 222.9h.01M94.6 224.0h.01M99.3 224.2h.01M98.6 223.5h.01M101.2 224.0h.01M100.4 222.7h.01M104.3 223.8h.01M102.5 224.3h.01M102.6 223.6h.01M100.7 223.8h.01M96.6 224.0h.01M97.7 223.7h.01M97.6 223.9h.01M98.7 225.0h.01M100.1 223.7h.01M97.8 223.3h.01M99.6 223.2h.01M98.8 222.9h.01M101.3 223.1h.01M98.0 223.7h.01M98.0 223.3h.01M98.7 222.8h.01M99.2 222.9h.01M97.1 223.7h.01M99.1 222.5h.01M98.9 223.5h.01M100.6 223.6h.01M100.2 223.8h.01M98.7 222.9h.01M101.0 223.1h.01M99.7 223.8h.01M101.7 224.1h.01M98.3 223.2h.01M100.9 222.5h.01M97.1 223.9h.01M98.4 222.9h.01M101.4 223.7h.01M101.6 223.1h.01M99.1 223.2h.01M100.3 222.1h.01M98.3 223.9h.01M98.1 223.4h.01M100.0 223.7h.01M98.7 222.7h.01M104.9 222.8h.01M103.3 222.2h.01M99.9 223.3h.01M103.6 224.6h.01M101.7 222.7h.01M98.1 223.0h.01M98.7 223.6h.01M98.1 223.3h.01M102.8 224.2h.01M95.9 222.9h.01M98.9 224.2h.01M99.0 224.6h.01M100.5 224.3h.01M97.9 223.3h.01M101.8 223.7h.01M95.9 223.3h.01M100.1 223.8h.01M98.4 224.5h.01M100.0 224.3h.01M100.6 223.4h.01M99.1 222.7h.01M101.5 223.8h.01M101.6 223.1h.01M97.6 223.2h.01M99.1 223.4h.01M101.7 222.8h.01M98.7 223.9h.01M101.6 224.7h.01M100.8 222.8h.01M97.6 223.0h.01M99.9 223.6h.01M99.6 223.0h.01M99.3 223.4h.01M100.9 223.4h.01M98.1 222.7h.01M102.8 223.3h.01M99.4 223.4h.01M102.0 223.1h.01M100.1 223.2h.01M100.9 222.7h.01M100.1 224.0h.01M102.2 223.7h.01M100.3 224.4h.01M101.2 224.2h.01M97.3 222.8h.01M101.4 223.2h.01M98.8 222.8h.01M102.8 222.6h.01M99.9 222.5h.01M99.4 224.8h.01M104.7 222.9h.01M97.6 224.5h.01M98.0 222.3h.01M100.4 222.7h.01M96.7 224.2h.01M98.2 222.8h.01M100.1 223.3h.01M102.0 223.4h.01M103.0 224.0h.01M103.4 224.0h.01M99.9 223.7h.01M99.8 222.4h.01M97.3 223.9h.01M94.9 223.0h.01M97.1 223.4h.01M97.6 223.6h.01M99.3 223.1h.01M98.0 222.1h.01M99.9 222.6h.01M99.1 223.7h.01M101.9 223.8h.01M102.8 222.4h.01M101.1 224.3h.01M100.5 222.7h.01M100.5 223.1h.01M98.4 224.1h.01M99.4 222.7h.01M98.3 224.7h.01M98.0 223.9h.01M100.1 224.1h.01M99.2 222.8h.01M98.4 222.8h.01M105.1 223.4h.01M99.1 224.2h.01M101.1 223.2h.01M101.0 223.5h.01M102.0 224.4h.01M99.1 223.4h.01M99.4 224.2h.01M100.5 223.9h.01M101.6 222.9h.01M100.0 224.3h.01M101.6 223.9h.01M99.2 223.2h.01M98.0 223.3h.01M99.6 222.5h.01M102.1 222.8h.01M100.2 223.8h.01M98.6 222.3h.01M101.7 223.6h.01M99.2 224.1h.01M101.6 222.7h.01M99.6 222.3h.01M99.2 224.3h.01M98.0 224.0h.01M96.6 223.3h.01M101.7 224.4h.01M100.7 223.8h.01M103.3 221.8h.01M96.2 224.7h.01M104.8 223.6h.01M99.9 223.6h.01M99.8 223.0h.01M99.7 223.3h.01M101.1 223.8h.01M101.7 223.7h.01M97.7 224.3h.01M94.3 223.6h.01M100.4 223.0h.01M103.6 222.6h.01M97.3 223.2h.01M100.6 223.9h.01M100.0 223.8h.01M98.3 223.1h.01M100.0 222.6h.01M100.1 223.1h.01M101.1 222.7h.01" stroke="#0c0c0c" stroke-width="0.9" stroke-linecap="round" fill="none" opacity="0.6"/>
<path d="M107.5 222.4h.01M108.3 221.9h.01M108.8 221.5h.01M112.7 223.9h.01M110.0 222.9h.01M105.8 222.0h.01M109.0 222.1h.01M104.4 223.3h.01M110.0 222.6h.01M106.1 223.0h.01M106.7 222.6h.01M111.0 223.9h.01M113.8 222.4h.01M115.9 221.8h.01M109.2 224.6h.01M121.6 223.3h.01M108.3 222.7h.01M104.2 222.9h.01M108.0 222.2h.01M115.9 222.2h.01M118.3 224.1h.01M113.2 222.4h.01M107.6 220.8h.01M111.4 222.8h.01M112.0 222.3h.01M112.4 221.4h.01M99.5 223.7h.01M115.3 219.5h.01M116.3 222.7h.01M109.3 221.3h.01M105.2 223.9h.01M106.5 223.1h.01M109.3 225.4h.01M114.4 221.6h.01M107.8 221.8h.01M103.4 222.3h.01M115.4 223.2h.01M113.3 222.9h.01M108.0 223.2h.01M109.7 225.3h.01M118.8 223.5h.01M113.0 220.8h.01M109.5 225.9h.01M106.2 224.0h.01M116.0 222.6h.01M109.0 222.6h.01M113.9 223.1h.01M117.3 224.5h.01M110.0 226.1h.01M108.6 222.4h.01M108.9 222.1h.01M108.0 223.0h.01M114.4 221.3h.01M103.3 222.2h.01M108.6 223.6h.01" stroke="#555" stroke-width="0.76" stroke-linecap="round" fill="none" opacity="0.28"/>
<text x="131.10" y="226.00" font-size="9" text-anchor="end" font-weight="normal" fill="#141414">14</text>
<rect x="145.60" y="214.40" width="43.00" height="39.70" fill="none" stroke="#9a9a9a" stroke-width="0.8"/>
<line x1="145.60" y1="214.40" x2="145.60" y2="254.10" stroke="#555" stroke-width="1.0"/>
<line x1="145.60" y1="254.10" x2="188.60" y2="254.10" stroke="#555" stroke-width="1.0"/>
<line x1="144.20" y1="214.90" x2="145.60" y2="214.90" stroke="#555" stroke-width="0.7"/>
<path d="M141.60 214.30h1.7v2.0" fill="none" stroke="#444" stroke-width="0.9"/>
<line x1="144.20" y1="224.57" x2="145.60" y2="224.57" stroke="#555" stroke-width="0.7"/>
<path d="M141.60 223.97h1.7v2.0" fill="none" stroke="#444" stroke-width="0.9"/>
<line x1="144.20" y1="234.25" x2="145.60" y2="234.25" stroke="#555" stroke-width="0.7"/>
<path d="M141.60 233.65h1.7v2.0" fill="none" stroke="#444" stroke-width="0.9"/>
<line x1="144.20" y1="243.93" x2="145.60" y2="243.93" stroke="#555" stroke-width="0.7"/>
<path d="M141.60 243.33h1.7v2.0" fill="none" stroke="#444" stroke-width="0.9"/>
<line x1="144.20" y1="253.60" x2="145.60" y2="253.60" stroke="#555" stroke-width="0.7"/>
<path d="M141.60 253.00h1.7v2.0" fill="none" stroke="#444" stroke-width="0.9"/>
<line x1="146.10" y1="254.10" x2="146.10" y2="255.50" stroke="#555" stroke-width="0.7"/>
<path d="M144.70 258.30v-1.7h2.2" fill="none" stroke="#444" stroke-width="1.0"/>
<line x1="156.60" y1="254.10" x2="156.60" y2="255.50" stroke="#555" stroke-width="0.7"/>
<path d="M155.20 258.30v-1.7h2.2" fill="none" stroke="#444" stroke-width="1.0"/>
<line x1="167.10" y1="254.10" x2="167.10" y2="255.50" stroke="#555" stroke-width="0.7"/>
<path d="M165.70 258.30v-1.7h2.2" fill="none" stroke="#444" stroke-width="1.0"/>
<line x1="177.60" y1="254.10" x2="177.60" y2="255.50" stroke="#555" stroke-width="0.7"/>
<path d="M176.20 258.30v-1.7h2.2" fill="none" stroke="#444" stroke-width="1.0"/>
<line x1="188.10" y1="254.10" x2="188.10" y2="255.50" stroke="#555" stroke-width="0.7"/>
<path d="M186.70 258.30v-1.7h2.2" fill="none" stroke="#444" stroke-width="1.0"/>
<line x1="160.80" y1="214.40" x2="160.80" y2="254.10" stroke="#6f6f6f" stroke-width="0.9"/>
<line x1="145.60" y1="231.30" x2="188.60" y2="231.30" stroke="#6f6f6f" stroke-width="0.9"/>
<path d="M160.8 228.0h.01M162.3 224.4h.01M165.7 226.7h.01M167.1 224.2h.01M162.2 225.1h.01M167.7 223.4h.01M165.3 220.7h.01M162.3 227.1h.01M173.6 223.2h.01M152.9 229.7h.01M164.4 229.6h.01M163.0 226.7h.01M161.8 227.6h.01M172.1 221.4h.01M172.9 229.1h.01M164.1 222.1h.01M167.0 223.4h.01M156.7 223.4h.01M166.8 221.2h.01M171.6 224.5h.01M164.3 227.3h.01M160.0 226.4h.01M157.5 224.7h.01M169.1 222.8h.01M164.7 225.8h.01M174.2 225.9h.01M168.0 223.5h.01M157.0 228.9h.01M176.2 218.7h.01M170.4 223.7h.01M169.5 224.5h.01M164.2 224.5h.01M165.1 226.8h.01M163.9 223.5h.01M169.1 225.2h.01M167.9 224.6h.01M173.9 225.5h.01M166.6 223.8h.01M169.2 220.2h.01M162.3 223.4h.01M166.4 223.5h.01M179.6 224.0h.01M167.7 228.6h.01M165.3 223.8h.01M172.5 225.1h.01M170.7 226.1h.01M163.3 223.3h.01M161.2 225.1h.01M171.1 221.5h.01M162.3 222.1h.01M176.9 224.5h.01M166.6 221.8h.01M159.4 223.9h.01M165.6 221.8h.01M164.0 227.0h.01M165.4 224.6h.01M153.3 225.4h.01M164.5 223.1h.01M157.4 225.3h.01M159.5 224.1h.01M156.2 225.4h.01M170.6 222.0h.01M167.2 221.1h.01M168.7 225.1h.01M163.1 226.5h.01M160.3 225.1h.01M175.1 223.1h.01M158.9 227.5h.01M168.4 223.4h.01M154.9 222.0h.01M156.6 228.5h.01M167.0 222.5h.01M172.0 226.5h.01M160.5 226.0h.01M155.9 226.4h.01M175.8 220.2h.01M165.7 223.1h.01M164.8 224.6h.01M167.0 226.0h.01M168.3 226.1h.01M171.2 225.9h.01M161.5 225.7h.01M163.2 223.0h.01M176.6 223.5h.01M165.6 220.1h.01M164.0 226.1h.01M164.2 223.4h.01M173.8 222.7h.01M163.4 224.4h.01M164.0 226.7h.01M168.6 223.8h.01M163.3 224.2h.01M175.1 222.5h.01M169.1 220.7h.01M167.2 225.5h.01M172.7 224.1h.01M168.7 224.6h.01M171.5 227.7h.01M166.5 222.6h.01M168.8 223.7h.01M169.0 225.5h.01M166.2 223.4h.01M167.1 221.7h.01M166.9 222.4h.01M167.9 224.3h.01M164.1 222.1h.01M165.6 223.0h.01M164.5 225.9h.01M170.8 221.1h.01M170.7 226.4h.01M171.8 224.1h.01M164.8 228.0h.01M163.5 221.6h.01M165.9 224.9h.01M159.4 222.7h.01M176.7 223.2h.01M169.8 222.6h.01M156.7 225.2h.01M173.1 222.1h.01M155.1 225.4h.01M163.8 224.6h.01M159.4 224.5h.01M162.2 226.6h.01M166.2 226.0h.01M165.1 220.1h.01M154.1 226.9h.01M170.4 225.5h.01M164.9 220.9h.01M162.5 225.6h.01M173.3 222.7h.01M162.1 223.2h.01M171.2 225.4h.01M154.9 228.2h.01M160.1 222.1h.01M156.2 224.1h.01M178.7 227.8h.01M158.2 224.0h.01M166.3 225.1h.01M162.6 221.6h.01M163.0 223.3h.01M155.1 226.0h.01M157.0 222.0h.01M174.1 225.2h.01M173.7 223.6h.01M163.0 224.5h.01M157.5 226.9h.01M166.9 223.6h.01M154.6 225.5h.01M174.7 226.1h.01M170.4 223.0h.01M166.2 225.4h.01M166.5 226.4h.01M161.5 220.2h.01M151.4 224.3h.01M157.4 226.7h.01M171.5 223.6h.01M168.5 224.2h.01M166.4 223.3h.01M163.0 227.1h.01M163.8 224.5h.01M172.2 225.5h.01M163.1 225.2h.01M159.6 225.4h.01M167.2 224.2h.01M166.3 225.0h.01M150.8 224.6h.01M165.8 223.3h.01M159.8 224.6h.01M174.6 222.7h.01M161.6 223.9h.01M158.5 226.2h.01M159.7 227.0h.01M170.6 224.9h.01M171.3 223.5h.01M155.3 225.6h.01M169.0 220.8h.01M158.4 227.5h.01M167.9 226.8h.01M169.2 224.0h.01M167.8 225.8h.01M165.2 224.0h.01M167.2 223.5h.01M179.2 221.1h.01M156.7 222.9h.01M171.4 222.8h.01M166.3 223.8h.01M167.0 221.3h.01M165.9 223.2h.01M171.6 224.8h.01M158.1 223.4h.01M168.6 226.4h.01M169.8 223.5h.01M171.8 218.8h.01M162.3 222.8h.01M159.4 226.3h.01M167.0 224.8h.01M164.6 225.7h.01M169.9 222.7h.01M170.8 221.8h.01M175.5 220.5h.01M163.7 222.4h.01M165.6 227.0h.01M161.0 228.5h.01M173.5 224.1h.01M162.0 226.7h.01M148.8 225.0h.01M170.9 223.6h.01M179.7 221.2h.01M157.7 224.9h.01M168.7 227.4h.01M155.2 226.0h.01M172.7 222.1h.01M162.7 222.3h.01M169.8 225.5h.01M168.8 224.4h.01M171.1 223.4h.01M169.5 225.5h.01M172.9 224.5h.01M165.9 225.8h.01M156.4 222.0h.01M174.8 223.5h.01M159.3 224.0h.01M164.5 224.6h.01M160.9 227.0h.01M155.5 231.3h.01M159.1 228.6h.01M169.3 220.5h.01M158.3 225.4h.01M167.0 223.3h.01M165.5 224.7h.01M158.7 225.4h.01M178.6 221.4h.01M159.5 226.5h.01M173.2 225.5h.01M161.7 224.7h.01M166.6 223.8h.01M167.7 226.3h.01M168.6 224.0h.01M164.2 228.2h.01M158.2 229.4h.01M169.7 224.0h.01M161.0 228.7h.01M172.5 225.3h.01M177.6 219.2h.01M166.0 223.7h.01M161.1 225.1h.01M168.5 225.1h.01M164.6 221.8h.01M168.7 225.2h.01M177.8 224.7h.01M165.5 222.0h.01M181.4 221.0h.01M166.5 225.8h.01M168.3 226.7h.01M159.3 223.8h.01M166.4 221.8h.01M161.8 227.7h.01M167.1 224.0h.01M162.0 224.9h.01M165.2 222.2h.01" stroke="#333" stroke-width="0.8" stroke-linecap="round" fill="none" opacity="0.2"/>
<path d="M167.4 221.9h.01M169.2 222.6h.01M156.2 222.7h.01M165.6 222.5h.01M171.1 224.1h.01M172.2 223.5h.01M169.5 222.4h.01M169.3 222.5h.01M164.4 222.2h.01M164.8 223.7h.01M164.3 222.4h.01M167.9 223.9h.01M164.2 224.2h.01M168.2 222.1h.01M164.4 221.7h.01M160.8 224.2h.01M161.3 224.1h.01M165.9 221.4h.01M162.8 225.0h.01M164.6 223.5h.01M162.0 222.2h.01M158.7 226.6h.01M163.9 222.7h.01M165.0 221.6h.01M169.7 224.5h.01M161.8 224.0h.01M161.2 224.5h.01M161.5 223.6h.01M169.4 223.4h.01M163.3 222.1h.01M158.7 225.1h.01M166.4 223.3h.01M169.2 223.1h.01M161.9 223.6h.01M164.2 223.4h.01M173.7 223.1h.01M165.6 223.1h.01M162.0 222.7h.01M157.6 223.6h.01M158.9 222.2h.01M161.1 221.8h.01M169.6 224.1h.01M161.0 225.6h.01M167.0 220.8h.01M164.6 222.5h.01M158.1 223.8h.01M168.8 223.4h.01M159.1 223.3h.01M161.7 224.7h.01M164.2 222.5h.01M161.2 221.9h.01M161.4 224.5h.01M157.5 224.2h.01M164.1 224.2h.01M160.3 224.6h.01M170.3 225.0h.01M158.5 223.9h.01M163.8 223.6h.01M160.9 224.5h.01M173.2 224.0h.01M161.0 223.2h.01M167.2 223.3h.01M161.7 224.8h.01M166.5 224.2h.01M163.9 224.7h.01M162.8 222.5h.01M164.5 222.1h.01M169.2 223.6h.01M158.3 224.1h.01M167.7 222.8h.01M166.1 222.7h.01M164.3 223.3h.01M166.3 222.3h.01M160.3 224.1h.01M162.6 224.1h.01M162.7 222.3h.01M167.3 223.4h.01M167.2 222.8h.01M163.2 224.7h.01M158.2 225.6h.01M166.4 223.2h.01M164.9 223.9h.01M161.7 223.9h.01M161.0 222.0h.01M165.3 223.4h.01M166.9 223.7h.01M167.1 223.9h.01M160.6 224.9h.01M174.5 221.9h.01M159.8 224.5h.01M167.9 224.0h.01M170.2 221.6h.01M165.9 223.7h.01M169.2 222.1h.01M164.6 223.0h.01M163.9 223.3h.01M164.0 221.8h.01M164.4 223.5h.01M163.1 220.2h.01M161.9 223.0h.01M161.3 225.2h.01M168.0 222.9h.01M166.8 226.3h.01M160.9 224.2h.01M162.3 225.0h.01M168.6 222.9h.01M166.8 222.4h.01M158.6 224.7h.01M170.6 222.5h.01M162.6 221.9h.01M172.5 221.5h.01M160.9 223.6h.01M169.0 223.0h.01M164.4 223.4h.01M167.7 223.1h.01M165.1 223.3h.01M160.4 225.1h.01M161.9 222.4h.01M162.9 223.6h.01M167.6 221.7h.01M159.8 224.0h.01M165.9 222.2h.01M160.3 224.0h.01M164.0 221.9h.01M161.2 225.1h.01M160.6 224.8h.01M158.8 225.3h.01M170.5 222.2h.01M162.0 224.2h.01M159.9 224.4h.01M169.0 223.2h.01M165.7 223.1h.01M168.2 222.3h.01M170.4 222.8h.01M163.3 222.0h.01M162.9 223.8h.01M169.1 221.4h.01M164.0 222.8h.01M160.1 223.8h.01M161.7 224.5h.01M154.5 225.0h.01M157.4 222.2h.01M166.4 222.9h.01M165.0 222.4h.01M160.6 223.1h.01M164.3 222.6h.01M162.9 222.7h.01M165.4 222.2h.01M156.8 221.7h.01M164.4 223.5h.01M168.1 222.4h.01M160.3 222.4h.01M167.3 222.5h.01M168.2 223.0h.01M163.5 221.7h.01M162.0 224.4h.01M162.2 224.3h.01M158.4 224.9h.01M174.8 223.5h.01M165.7 222.1h.01M162.5 223.0h.01M165.2 221.4h.01M161.3 224.4h.01M165.0 224.0h.01M167.7 222.0h.01M159.5 224.3h.01M164.6 223.5h.01M161.5 224.6h.01M166.3 224.3h.01M163.2 224.2h.01M164.3 222.5h.01M164.2 221.9h.01M163.8 223.6h.01M167.1 222.2h.01M159.6 223.2h.01M156.8 223.5h.01M174.2 222.6h.01M161.7 223.0h.01M171.1 221.7h.01M164.1 223.4h.01M161.8 223.0h.01M158.3 223.2h.01M169.3 224.3h.01M163.5 224.2h.01M166.2 223.3h.01M164.0 224.6h.01M166.6 223.0h.01M163.6 224.4h.01M162.3 222.9h.01M163.5 223.0h.01M169.2 223.3h.01M164.2 222.9h.01M169.8 223.3h.01M172.2 223.5h.01M163.7 223.0h.01M163.4 223.7h.01M167.4 223.6h.01M170.3 221.4h.01M164.6 222.1h.01M160.7 223.2h.01M162.1 222.7h.01M158.9 225.0h.01M163.3 224.4h.01M160.4 221.6h.01M162.3 224.4h.01M162.4 224.0h.01M160.5 225.1h.01M166.1 224.2h.01M163.5 224.7h.01M164.8 222.9h.01M162.1 223.7h.01M161.1 222.6h.01M165.0 224.0h.01M163.4 224.3h.01M170.4 221.7h.01M165.5 222.4h.01M162.1 223.8h.01M155.7 224.8h.01M167.6 223.6h.01M166.9 224.9h.01M163.1 224.6h.01M169.9 223.4h.01M157.9 223.9h.01M163.4 222.0h.01M164.3 224.1h.01M163.5 223.3h.01M169.9 222.3h.01M161.0 223.8h.01M168.7 223.6h.01M164.8 222.9h.01M169.1 223.8h.01M158.1 224.3h.01M155.6 225.6h.01M166.8 222.6h.01M159.7 223.6h.01M158.0 224.5h.01M162.6 221.9h.01M164.4 224.5h.01M159.8 223.5h.01M171.2 222.9h.01M162.4 223.8h.01M167.4 222.2h.01M164.1 221.9h.01M158.6 222.5h.01M167.6 223.4h.01M167.2 224.3h.01M164.7 223.6h.01M166.0 223.7h.01M160.6 223.5h.01M163.9 223.5h.01M161.7 223.5h.01M165.6 223.5h.01M166.7 224.0h.01M166.6 224.1h.01M167.6 224.4h.01M166.8 222.6h.01M173.1 223.6h.01M169.1 223.6h.01M164.7 222.3h.01M166.1 222.9h.01M163.0 221.5h.01M170.2 221.8h.01M160.4 224.2h.01M166.6 222.5h.01M164.5 223.6h.01M165.1 223.8h.01M167.4 222.8h.01M158.5 226.0h.01M163.1 222.6h.01M167.3 223.7h.01M162.2 225.8h.01M155.8 225.4h.01M164.4 223.7h.01M165.7 223.1h.01M165.7 222.1h.01M163.0 225.3h.01M154.9 225.5h.01M156.2 223.4h.01M167.8 222.7h.01M162.4 222.2h.01M164.0 223.3h.01M162.1 222.2h.01M165.1 223.7h.01M168.7 223.5h.01M170.1 224.0h.01M154.0 226.0h.01M164.1 222.5h.01M166.1 224.1h.01M158.7 222.8h.01M167.1 222.6h.01M169.9 223.1h.01M162.5 222.3h.01M166.7 221.6h.01M159.7 222.6h.01M170.8 224.4h.01M163.7 223.1h.01M167.1 224.3h.01M161.5 225.8h.01M163.7 224.5h.01M155.7 224.2h.01" stroke="#1a1a1a" stroke-width="0.84" stroke-linecap="round" fill="none" opacity="0.4"/>
<path d="M163.0 224.8h.01M164.0 222.7h.01M168.6 222.5h.01M164.5 222.6h.01M165.9 223.4h.01M163.9 223.2h.01M163.3 223.1h.01M161.5 224.5h.01M166.4 222.3h.01M162.0 223.9h.01M169.3 222.8h.01M163.8 223.3h.01M165.0 223.2h.01M166.8 223.8h.01M165.7 224.2h.01M164.0 223.1h.01M170.8 221.5h.01M161.2 222.3h.01M165.3 222.7h.01M166.7 221.9h.01M164.2 223.2h.01M162.2 224.3h.01M163.7 223.8h.01M163.4 223.6h.01M163.6 223.5h.01M164.3 223.0h.01M165.4 223.2h.01M162.5 223.0h.01M165.4 224.1h.01M161.7 223.4h.01M165.4 223.9h.01M166.0 222.5h.01M164.6 223.9h.01M165.0 223.2h.01M162.0 223.8h.01M164.4 223.4h.01M167.7 223.8h.01M162.8 223.7h.01M163.8 223.5h.01M167.9 223.6h.01M164.6 223.0h.01M164.2 223.7h.01M163.4 224.2h.01M164.5 222.7h.01M168.8 221.2h.01M163.9 223.4h.01M166.6 223.9h.01M167.6 224.0h.01M165.2 223.4h.01M166.6 223.2h.01M161.8 223.4h.01M165.9 223.6h.01M162.2 224.4h.01M165.2 222.4h.01M165.5 223.9h.01M165.6 223.1h.01M162.8 224.3h.01M165.0 223.3h.01M163.7 222.9h.01M160.5 223.6h.01M166.8 223.6h.01M163.1 224.5h.01M164.0 222.8h.01M166.6 224.0h.01M163.7 222.7h.01M164.4 221.9h.01M164.6 224.3h.01M165.1 222.9h.01M166.0 222.9h.01M167.2 222.9h.01M168.8 222.7h.01M164.9 222.8h.01M161.8 223.9h.01M165.2 222.7h.01M165.7 223.0h.01M163.3 223.5h.01M165.3 223.8h.01M167.1 223.4h.01M163.0 223.1h.01M165.3 222.6h.01M164.1 223.2h.01M164.3 223.5h.01M166.7 224.2h.01M166.4 223.8h.01M162.2 224.3h.01M167.2 222.3h.01M169.8 222.5h.01M159.5 225.0h.01M164.6 222.9h.01M163.3 224.2h.01M165.0 223.1h.01M166.9 222.6h.01M162.7 223.3h.01M162.9 224.0h.01M164.0 222.8h.01M163.5 222.3h.01M164.8 223.4h.01M165.8 223.1h.01M165.3 222.7h.01M164.6 223.5h.01M161.9 224.0h.01M164.8 223.4h.01M163.5 224.7h.01M164.5 222.9h.01M162.7 224.0h.01M164.1 223.0h.01M163.0 224.1h.01M164.7 224.0h.01M164.5 222.7h.01M166.3 223.4h.01M163.1 223.4h.01M162.5 224.1h.01M163.6 223.8h.01M165.0 223.2h.01M165.3 223.2h.01M162.0 223.4h.01M162.0 224.1h.01M165.9 222.9h.01M165.8 223.4h.01M166.5 222.6h.01M164.6 222.8h.01M163.1 224.4h.01M160.3 223.3h.01M165.5 223.8h.01M162.8 222.3h.01M160.9 224.0h.01M166.8 223.7h.01M163.0 224.4h.01M164.1 223.8h.01M164.1 224.4h.01M163.4 222.2h.01M163.8 223.6h.01M165.1 222.9h.01M164.0 222.8h.01M164.0 223.5h.01M165.0 224.3h.01M160.3 224.2h.01M165.4 222.6h.01M164.6 223.4h.01M162.4 224.1h.01M168.5 223.4h.01M166.1 223.9h.01M164.2 224.0h.01M162.8 223.7h.01M166.0 224.0h.01M163.9 223.3h.01M165.5 223.2h.01M164.8 223.9h.01M162.9 224.1h.01M165.3 223.2h.01M161.9 223.3h.01M164.4 224.0h.01M160.4 224.3h.01M164.9 222.7h.01M166.3 223.4h.01M165.4 222.7h.01M162.2 224.2h.01M167.4 223.3h.01M164.1 223.2h.01M160.9 224.4h.01M164.3 224.2h.01M163.0 224.2h.01M163.0 223.9h.01M167.4 222.7h.01M166.4 223.2h.01M162.5 223.7h.01M165.8 222.8h.01M163.9 223.1h.01M162.9 223.4h.01M166.2 222.9h.01M167.1 222.9h.01M163.1 224.2h.01M167.4 222.7h.01M165.7 222.6h.01M163.7 223.3h.01M166.0 222.5h.01M163.4 223.1h.01M164.7 222.6h.01M161.7 225.4h.01M164.9 222.4h.01" stroke="#0c0c0c" stroke-width="0.9" stroke-linecap="round" fill="none" opacity="0.6"/>
<path d="M178.9 221.5h.01M165.5 225.1h.01M181.0 222.1h.01M169.4 223.7h.01M184.9 223.8h.01M178.1 221.7h.01M166.0 223.6h.01M179.8 223.3h.01M174.8 224.7h.01M170.6 224.4h.01M178.9 222.4h.01M175.4 223.2h.01M177.7 221.9h.01M173.6 223.2h.01M174.9 223.1h.01M176.0 222.9h.01M172.3 224.3h.01M171.6 222.7h.01M170.5 221.7h.01M177.0 223.0h.01M174.1 223.6h.01M173.9 223.9h.01M183.7 223.5h.01M173.5 225.1h.01M178.3 221.1h.01M181.4 223.3h.01M179.0 221.7h.01M170.6 222.3h.01M177.5 221.8h.01M171.3 224.2h.01M171.6 223.2h.01M170.4 221.1h.01M174.4 223.0h.01M167.7 224.2h.01M178.8 224.1h.01M172.3 221.7h.01M174.4 223.3h.01M173.9 222.4h.01M169.9 222.2h.01M174.4 222.5h.01M183.0 222.8h.01M177.0 222.6h.01M173.9 222.0h.01M172.4 221.3h.01M164.6 224.7h.01M169.6 223.6h.01M174.2 222.4h.01M178.4 222.4h.01M176.9 222.7h.01M179.6 224.2h.01M175.1 224.4h.01M177.3 224.9h.01M174.2 221.3h.01M175.8 223.4h.01M173.0 222.9h.01" stroke="#555" stroke-width="0.76" stroke-linecap="round" fill="none" opacity="0.28"/>
<text x="187.00" y="226.00" font-size="9" text-anchor="end" font-weight="normal" fill="#141414">73</text>
<rect x="33.60" y="262.90" width="43.90" height="39.50" fill="none" stroke="#9a9a9a" stroke-width="0.8"/>
<line x1="33.60" y1="262.90" x2="33.60" y2="302.40" stroke="#555" stroke-width="1.0"/>
<line x1="33.60" y1="302.40" x2="77.50" y2="302.40" stroke="#555" stroke-width="1.0"/>
<line x1="32.20" y1="263.40" x2="33.60" y2="263.40" stroke="#555" stroke-width="0.7"/>
<path d="M29.60 262.80h1.7v2.0" fill="none" stroke="#444" stroke-width="0.9"/>
<line x1="32.20" y1="273.02" x2="33.60" y2="273.02" stroke="#555" stroke-width="0.7"/>
<path d="M29.60 272.42h1.7v2.0" fill="none" stroke="#444" stroke-width="0.9"/>
<line x1="32.20" y1="282.65" x2="33.60" y2="282.65" stroke="#555" stroke-width="0.7"/>
<path d="M29.60 282.05h1.7v2.0" fill="none" stroke="#444" stroke-width="0.9"/>
<line x1="32.20" y1="292.27" x2="33.60" y2="292.27" stroke="#555" stroke-width="0.7"/>
<path d="M29.60 291.67h1.7v2.0" fill="none" stroke="#444" stroke-width="0.9"/>
<line x1="32.20" y1="301.90" x2="33.60" y2="301.90" stroke="#555" stroke-width="0.7"/>
<path d="M29.60 301.30h1.7v2.0" fill="none" stroke="#444" stroke-width="0.9"/>
<line x1="34.10" y1="302.40" x2="34.10" y2="303.80" stroke="#555" stroke-width="0.7"/>
<path d="M32.70 306.60v-1.7h2.2" fill="none" stroke="#444" stroke-width="1.0"/>
<line x1="44.83" y1="302.40" x2="44.83" y2="303.80" stroke="#555" stroke-width="0.7"/>
<path d="M43.43 306.60v-1.7h2.2" fill="none" stroke="#444" stroke-width="1.0"/>
<line x1="55.55" y1="302.40" x2="55.55" y2="303.80" stroke="#555" stroke-width="0.7"/>
<path d="M54.15 306.60v-1.7h2.2" fill="none" stroke="#444" stroke-width="1.0"/>
<line x1="66.28" y1="302.40" x2="66.28" y2="303.80" stroke="#555" stroke-width="0.7"/>
<path d="M64.88 306.60v-1.7h2.2" fill="none" stroke="#444" stroke-width="1.0"/>
<line x1="77.00" y1="302.40" x2="77.00" y2="303.80" stroke="#555" stroke-width="0.7"/>
<path d="M75.60 306.60v-1.7h2.2" fill="none" stroke="#444" stroke-width="1.0"/>
<line x1="49.60" y1="262.90" x2="49.60" y2="302.40" stroke="#6f6f6f" stroke-width="0.9"/>
<line x1="33.60" y1="280.50" x2="77.50" y2="280.50" stroke="#6f6f6f" stroke-width="0.9"/>
<path d="M44.5 271.0h.01M56.2 271.6h.01M39.8 270.4h.01M41.1 273.7h.01M54.8 274.6h.01M41.8 271.1h.01M39.5 273.7h.01M51.2 272.4h.01M55.5 277.4h.01M47.0 268.9h.01M52.5 273.2h.01M50.0 275.6h.01M40.2 274.0h.01M47.1 271.9h.01M50.2 273.2h.01M43.7 277.7h.01M47.1 277.1h.01M45.2 275.9h.01M41.7 274.1h.01M52.4 268.7h.01M49.2 272.9h.01M52.5 273.7h.01M45.6 270.9h.01M63.3 271.4h.01M44.2 272.1h.01M44.3 274.1h.01M38.2 276.1h.01M44.5 274.9h.01M44.3 272.8h.01M42.2 274.4h.01M48.5 271.4h.01M34.6 275.6h.01M44.2 276.0h.01M51.2 273.2h.01M37.7 273.1h.01M41.8 276.4h.01M36.1 275.9h.01M37.0 272.7h.01M37.8 272.4h.01M43.5 274.5h.01M42.6 275.2h.01M56.3 273.6h.01M39.3 273.5h.01M45.5 272.8h.01M52.8 275.8h.01M57.8 274.3h.01M50.0 271.7h.01M42.5 275.7h.01M46.9 271.2h.01M42.7 267.1h.01M46.0 271.0h.01M45.8 271.1h.01M40.6 272.7h.01M62.4 270.5h.01M39.1 272.7h.01M52.3 275.1h.01M50.1 272.8h.01M46.8 271.9h.01M45.0 271.9h.01M37.5 271.8h.01M57.4 274.0h.01M41.7 273.5h.01M43.4 276.3h.01M45.9 272.2h.01M50.0 274.1h.01M42.1 272.1h.01M46.9 270.1h.01M40.7 276.0h.01M51.1 275.8h.01M43.4 272.4h.01M44.5 272.6h.01M53.5 272.8h.01M54.0 271.8h.01M48.2 277.0h.01M41.7 272.4h.01M42.5 270.3h.01M44.3 272.3h.01M58.9 272.1h.01M51.6 273.3h.01M47.7 275.1h.01M42.8 273.8h.01M46.9 277.1h.01M54.3 273.7h.01M38.2 275.8h.01M45.7 276.1h.01M46.3 274.0h.01M49.9 271.9h.01M42.2 278.7h.01M41.0 275.8h.01M50.0 275.2h.01M54.0 270.4h.01M51.6 269.0h.01M46.3 274.3h.01M52.0 275.7h.01M40.6 273.2h.01M45.1 272.1h.01M41.2 272.4h.01M52.7 276.3h.01M50.4 277.0h.01M46.6 271.2h.01M42.2 274.2h.01M52.0 276.0h.01M40.8 275.8h.01M42.9 275.0h.01M51.4 276.6h.01M42.9 274.2h.01M48.5 272.6h.01M46.6 274.9h.01M36.4 272.6h.01M59.5 274.1h.01M42.8 269.8h.01M40.4 274.9h.01M50.0 274.4h.01M49.5 272.2h.01M55.3 270.8h.01M49.0 272.9h.01M36.0 275.9h.01M44.4 275.2h.01M53.4 273.7h.01M42.2 273.3h.01M45.6 276.7h.01M51.0 276.8h.01M50.5 271.8h.01M51.4 275.5h.01M45.3 274.6h.01M44.2 271.0h.01M45.5 275.3h.01M43.9 268.9h.01M41.4 276.1h.01M47.3 276.0h.01M41.6 272.9h.01M40.2 272.1h.01M49.0 273.8h.01M43.2 274.3h.01M38.4 273.0h.01M37.3 270.7h.01M38.1 271.5h.01M55.2 276.2h.01M53.4 272.1h.01M49.7 271.0h.01M42.8 274.2h.01M36.7 274.4h.01M49.6 269.0h.01M45.3 273.9h.01M39.4 275.1h.01M46.7 272.0h.01M55.6 273.8h.01M50.3 277.4h.01M43.1 273.2h.01M35.9 273.5h.01M48.6 278.9h.01M49.3 273.9h.01M38.6 272.0h.01M35.2 271.0h.01M46.7 274.2h.01M40.7 273.3h.01M41.3 275.1h.01M49.7 272.3h.01M43.3 271.1h.01M43.3 278.4h.01M45.9 275.5h.01M49.4 276.7h.01M44.1 271.7h.01M52.1 275.4h.01M42.1 276.1h.01M45.9 273.5h.01M56.7 274.4h.01M47.8 272.8h.01M47.2 275.8h.01M48.7 271.9h.01M48.6 273.2h.01M47.8 273.1h.01M43.8 268.9h.01M37.2 278.3h.01M50.1 272.5h.01M47.9 268.7h.01M47.5 275.7h.01M47.1 270.7h.01M51.7 272.2h.01M42.7 274.2h.01M44.2 278.1h.01M45.2 278.3h.01M48.6 270.8h.01M46.0 273.7h.01M54.4 276.1h.01M61.0 271.6h.01M43.4 278.7h.01M40.8 274.6h.01M55.4 271.1h.01M44.0 272.1h.01M49.1 274.4h.01M45.8 275.0h.01M41.4 273.0h.01M48.7 277.9h.01M45.8 273.7h.01M53.7 273.5h.01M53.6 273.8h.01M52.8 273.8h.01M40.6 271.9h.01M48.5 277.6h.01M56.9 272.5h.01M60.7 270.6h.01M41.0 275.8h.01M37.1 275.9h.01M48.2 274.9h.01M38.9 274.7h.01M51.5 273.3h.01M52.0 273.4h.01M48.0 272.8h.01M38.0 273.5h.01M48.9 271.8h.01M34.5 270.7h.01M53.7 272.8h.01M41.5 276.5h.01M45.0 270.4h.01M43.4 271.8h.01M44.9 271.7h.01M46.4 274.6h.01M42.6 273.3h.01M45.1 275.4h.01M41.8 275.4h.01M53.3 272.9h.01M40.3 273.1h.01M35.6 272.8h.01M39.0 273.5h.01M43.8 274.8h.01M46.7 274.5h.01M45.7 274.2h.01M39.3 275.3h.01M53.7 275.7h.01M38.1 274.8h.01M36.4 275.6h.01M44.8 272.6h.01M41.6 273.2h.01M46.0 271.5h.01M46.4 274.2h.01M49.1 273.4h.01M46.0 278.7h.01M52.0 274.1h.01M37.8 275.3h.01M49.4 267.7h.01M45.0 274.5h.01M46.2 273.8h.01M45.1 276.7h.01M48.3 272.9h.01M44.7 278.2h.01M40.9 272.6h.01M47.9 273.9h.01M47.8 276.5h.01M52.7 274.3h.01M46.3 273.5h.01M44.7 275.9h.01M38.6 271.6h.01M43.3 271.6h.01M41.7 276.4h.01" stroke="#333" stroke-width="0.8" stroke-linecap="round" fill="none" opacity="0.2"/>
<path d="M37.1 273.4h.01M40.5 272.5h.01M43.2 271.7h.01M39.8 272.8h.01M34.5 270.8h.01M43.8 273.7h.01M52.0 272.1h.01M42.3 272.4h.01M47.0 273.5h.01M41.8 273.2h.01M45.1 273.7h.01M43.8 272.4h.01M42.1 271.4h.01M46.2 273.3h.01M49.4 272.8h.01M43.6 271.7h.01M41.0 272.0h.01M46.5 272.7h.01M36.9 272.7h.01M44.2 271.6h.01M45.2 273.1h.01M41.5 271.4h.01M44.1 272.9h.01M44.3 274.2h.01M45.8 271.6h.01M48.1 271.9h.01M47.8 272.6h.01M49.8 271.5h.01M47.9 273.0h.01M42.0 273.4h.01M53.5 272.7h.01M42.5 272.5h.01M50.0 272.7h.01M50.7 271.8h.01M50.1 270.9h.01M44.7 272.3h.01M43.5 273.9h.01M43.1 273.0h.01M52.1 273.2h.01M43.7 271.9h.01M37.9 273.2h.01M48.5 273.6h.01M46.2 274.7h.01M48.1 270.2h.01M42.0 273.5h.01M43.8 273.5h.01M54.7 271.6h.01M53.4 272.3h.01M39.9 272.8h.01M48.6 271.9h.01M51.1 271.6h.01M44.6 273.5h.01M44.5 272.1h.01M45.2 273.3h.01M51.6 273.8h.01M52.2 272.4h.01M39.2 272.7h.01M43.8 271.7h.01M43.4 272.6h.01M45.5 273.5h.01M41.9 273.8h.01M45.4 273.3h.01M49.9 271.2h.01M51.2 271.7h.01M46.7 273.6h.01M48.7 271.0h.01M45.9 273.7h.01M44.8 272.5h.01M45.5 274.2h.01M43.3 271.7h.01M41.2 272.2h.01M44.4 273.0h.01M45.0 270.9h.01M39.5 273.4h.01M48.0 271.2h.01M48.7 270.1h.01M53.9 273.0h.01M39.2 273.3h.01M45.2 272.2h.01M43.9 272.4h.01M44.9 271.7h.01M43.2 273.2h.01M47.2 271.2h.01M43.5 274.2h.01M47.9 274.2h.01M40.3 271.7h.01M37.3 270.9h.01M43.9 271.6h.01M41.3 272.0h.01M44.6 273.4h.01M47.4 270.8h.01M50.8 272.1h.01M41.6 272.7h.01M43.8 271.3h.01M51.1 271.9h.01M43.1 273.2h.01M51.5 272.9h.01M42.0 273.1h.01M49.4 272.9h.01M47.7 272.1h.01M45.0 270.9h.01M42.6 271.5h.01M45.3 274.1h.01M37.0 271.5h.01M41.9 272.6h.01M49.6 271.7h.01M42.4 273.9h.01M46.7 273.1h.01M48.4 271.8h.01M46.1 271.9h.01M42.6 272.8h.01M46.9 271.3h.01M42.4 273.3h.01M45.9 273.2h.01M44.1 271.8h.01M48.2 273.1h.01M34.8 273.7h.01M42.5 273.3h.01M51.1 272.2h.01M41.7 273.0h.01M45.6 273.2h.01M40.1 273.0h.01M48.6 273.2h.01M47.6 273.7h.01M42.2 273.9h.01M46.1 271.6h.01M44.2 272.9h.01M46.5 273.9h.01M46.0 272.1h.01M53.4 272.1h.01M42.2 273.6h.01M43.8 271.9h.01M41.3 273.9h.01M41.4 272.8h.01M43.6 272.5h.01M42.3 272.8h.01M47.5 273.6h.01M44.0 271.5h.01M39.8 272.8h.01M36.1 274.2h.01M45.4 272.7h.01M40.1 272.1h.01M42.5 273.4h.01M43.8 273.3h.01M47.2 270.6h.01M44.4 273.9h.01M43.4 272.8h.01M44.8 271.4h.01M53.4 272.3h.01M47.7 272.1h.01M50.5 273.6h.01M49.7 273.4h.01M47.9 273.9h.01M46.8 272.7h.01M48.3 271.6h.01M35.9 273.7h.01M45.9 271.9h.01M44.3 271.7h.01M42.2 272.9h.01M45.8 273.4h.01M45.0 273.2h.01M47.8 271.8h.01M39.0 272.1h.01M44.4 272.1h.01M53.5 271.7h.01M47.1 271.8h.01M47.9 271.3h.01M48.8 272.7h.01M43.8 271.5h.01M51.5 271.9h.01M50.7 270.1h.01M40.8 274.5h.01M51.9 272.4h.01M49.0 273.1h.01M44.0 272.8h.01M41.0 271.4h.01M45.8 273.3h.01M45.9 271.4h.01M48.4 272.6h.01M48.1 272.2h.01M44.3 273.7h.01M50.4 271.3h.01M41.2 273.7h.01M46.6 272.6h.01M41.7 273.7h.01M46.0 272.8h.01M46.7 272.1h.01M46.8 272.7h.01M48.0 272.9h.01M40.5 272.0h.01M44.3 273.8h.01M42.9 273.8h.01M49.3 273.4h.01M53.7 272.4h.01M46.5 273.8h.01M46.8 273.6h.01M44.8 274.0h.01M46.6 270.7h.01M49.3 272.3h.01M42.0 272.4h.01M44.3 273.8h.01M46.5 272.5h.01M45.2 271.7h.01M42.9 272.2h.01M44.5 271.5h.01M43.8 273.6h.01M47.0 272.6h.01M46.6 272.3h.01M40.9 273.6h.01M53.6 272.9h.01M47.8 275.0h.01M40.8 273.3h.01M44.0 272.4h.01M39.1 272.7h.01M46.8 271.0h.01M44.5 272.2h.01M41.6 273.3h.01M51.4 272.9h.01M49.1 273.3h.01M45.1 273.2h.01M50.2 272.1h.01M44.8 271.3h.01M38.4 272.0h.01M48.6 272.9h.01M46.3 273.9h.01M38.7 274.2h.01M45.6 273.4h.01M50.4 271.7h.01M42.1 273.1h.01M45.1 272.0h.01M44.8 271.9h.01M45.8 272.2h.01M51.6 271.4h.01M47.5 272.6h.01M51.2 271.5h.01M43.6 274.4h.01M42.9 272.3h.01M43.8 271.7h.01M49.8 274.0h.01M44.7 271.9h.01M40.3 273.4h.01M43.3 273.2h.01M36.4 272.4h.01M47.6 273.0h.01M34.7 273.2h.01M45.8 272.6h.01M44.0 272.2h.01M45.8 273.1h.01M48.8 272.3h.01M49.8 271.6h.01M52.4 273.4h.01M43.8 275.4h.01M50.7 274.0h.01M40.9 272.6h.01M47.1 273.6h.01M45.6 271.3h.01M49.8 272.3h.01M46.9 272.3h.01M44.9 271.3h.01M47.8 271.9h.01M38.7 273.2h.01M45.2 273.6h.01M48.3 271.3h.01M44.6 272.6h.01M45.6 271.6h.01M45.6 273.6h.01M49.9 273.9h.01M48.1 270.1h.01M44.3 272.1h.01M34.5 274.4h.01M48.7 272.5h.01M46.6 273.1h.01M44.5 274.0h.01M52.1 273.2h.01M43.2 272.9h.01M48.9 273.2h.01M42.8 273.6h.01M48.0 273.1h.01M43.7 272.6h.01M38.2 272.8h.01M43.7 272.4h.01M44.3 272.3h.01M45.6 272.7h.01M43.0 272.5h.01M45.0 273.1h.01M46.9 272.2h.01M42.2 271.1h.01M40.7 273.1h.01M41.9 274.3h.01M44.7 272.2h.01M44.7 272.1h.01M43.0 272.7h.01M39.9 272.9h.01M45.0 271.7h.01M49.1 272.9h.01M49.3 271.8h.01M40.7 271.6h.01M39.5 270.9h.01M51.1 272.0h.01" stroke="#1a1a1a" stroke-width="0.84" stroke-linecap="round" fill="none" opacity="0.4"/>
<path d="M45.7 272.3h.01M45.0 273.6h.01M41.6 272.1h.01M45.6 272.0h.01M46.8 273.4h.01M47.2 273.0h.01M45.0 273.3h.01M43.6 271.9h.01M44.8 272.5h.01M47.9 271.9h.01M47.7 272.0h.01M42.6 271.6h.01M45.2 271.7h.01M45.7 272.6h.01M44.5 271.4h.01M44.2 272.9h.01M41.5 273.2h.01M45.3 272.3h.01M45.7 273.0h.01M45.3 272.1h.01M47.0 272.1h.01M46.1 273.2h.01M48.1 273.5h.01M47.5 272.6h.01M44.9 272.7h.01M46.4 274.5h.01M46.7 272.0h.01M48.5 271.5h.01M47.4 271.7h.01M43.0 272.4h.01M44.7 271.8h.01M46.6 272.5h.01M48.1 271.9h.01M41.5 273.2h.01M44.8 273.2h.01M40.4 272.0h.01M45.5 273.8h.01M42.7 271.5h.01M44.3 273.5h.01M48.6 271.6h.01M44.0 271.5h.01M43.5 272.0h.01M46.2 273.3h.01M50.3 272.2h.01M47.0 272.7h.01M45.6 273.8h.01M46.8 273.6h.01M45.9 273.1h.01M46.4 272.5h.01M43.8 272.4h.01M45.3 272.4h.01M44.6 272.2h.01M47.1 272.4h.01M45.1 272.5h.01M48.1 272.2h.01M48.3 272.0h.01M48.5 272.9h.01M44.3 272.9h.01M47.7 271.9h.01M44.8 272.8h.01M44.9 272.4h.01M45.3 272.8h.01M46.9 273.5h.01M44.6 274.5h.01M44.6 273.8h.01M45.0 271.7h.01M44.4 272.4h.01M47.6 271.2h.01M44.0 272.6h.01M46.7 272.8h.01M47.1 272.4h.01M44.8 273.4h.01M48.9 272.7h.01M45.6 272.0h.01M49.7 272.7h.01M46.6 271.5h.01M46.6 274.1h.01M45.0 272.5h.01M48.5 272.4h.01M47.1 273.8h.01M42.9 272.1h.01M46.7 272.6h.01M45.4 272.5h.01M45.6 272.8h.01M44.3 272.5h.01M45.8 271.9h.01M46.2 271.2h.01M46.6 272.5h.01M42.8 273.5h.01M42.8 274.0h.01M43.8 273.4h.01M45.2 273.6h.01M44.8 273.3h.01M44.6 271.4h.01M46.1 272.9h.01M46.1 273.6h.01M43.8 271.7h.01M45.8 272.1h.01M45.1 272.6h.01M43.6 273.4h.01M45.1 273.8h.01M45.8 273.3h.01M44.7 272.2h.01M44.2 272.1h.01M46.2 272.7h.01M43.1 271.7h.01M43.5 271.5h.01M43.5 271.7h.01M46.8 271.8h.01M44.1 272.6h.01M45.4 272.9h.01M46.9 273.0h.01M44.6 273.4h.01M46.1 272.1h.01M48.4 271.7h.01M46.3 273.4h.01M45.5 272.8h.01M45.6 273.0h.01M45.8 272.6h.01M46.8 271.3h.01M45.8 272.4h.01M49.4 272.7h.01M43.9 273.1h.01M44.5 271.9h.01M44.7 272.9h.01M47.8 273.2h.01M45.8 272.5h.01M45.7 273.4h.01M45.0 273.4h.01M43.7 272.6h.01M46.9 273.0h.01M45.7 272.3h.01M41.6 272.4h.01M43.5 272.4h.01M48.6 272.0h.01M47.1 272.5h.01M43.0 272.7h.01M46.9 271.8h.01M42.9 272.4h.01M46.8 272.2h.01M46.2 272.9h.01M45.3 272.9h.01M47.9 272.4h.01M46.0 271.9h.01M43.8 272.6h.01M47.0 272.1h.01M42.4 273.3h.01M50.2 270.8h.01M43.1 272.7h.01M46.3 272.0h.01M46.0 273.3h.01M44.7 273.1h.01M45.6 272.0h.01M44.0 272.2h.01M48.1 273.3h.01M45.8 271.6h.01M44.3 272.4h.01M41.3 272.7h.01M45.9 271.7h.01M44.4 272.3h.01M49.1 272.9h.01M46.9 272.6h.01M42.7 273.3h.01M43.9 271.4h.01M46.8 272.3h.01M45.3 272.9h.01M44.8 272.9h.01M48.0 272.3h.01M44.6 272.6h.01M46.6 272.3h.01M45.5 272.2h.01M45.2 273.0h.01M43.6 272.5h.01M42.3 272.2h.01M45.5 272.9h.01M43.2 272.6h.01M43.4 272.9h.01M45.8 272.9h.01M44.9 271.7h.01M44.2 271.8h.01" stroke="#0c0c0c" stroke-width="0.9" stroke-linecap="round" fill="none" opacity="0.6"/>
<path d="M52.3 272.2h.01M60.9 271.5h.01M51.8 272.5h.01M45.5 274.7h.01M48.1 273.5h.01M60.4 273.4h.01M55.1 273.2h.01M53.9 273.4h.01M52.4 271.3h.01M57.5 271.8h.01M58.9 271.3h.01M56.9 271.1h.01M55.1 274.8h.01M50.4 270.8h.01M47.8 272.0h.01M63.5 271.8h.01M60.1 272.1h.01M52.5 274.7h.01M60.9 270.1h.01M50.9 272.8h.01M58.8 272.0h.01M57.1 272.9h.01M53.9 273.5h.01M51.5 273.2h.01M60.1 272.5h.01M53.9 272.3h.01M44.8 272.6h.01M48.7 269.9h.01M59.3 271.2h.01M57.3 272.4h.01M47.1 271.2h.01M54.3 272.9h.01M56.0 270.8h.01M53.0 272.4h.01M49.4 271.8h.01M53.0 269.8h.01M64.0 273.3h.01M53.4 273.4h.01M50.5 274.1h.01M53.8 272.5h.01M52.8 272.4h.01M57.2 272.3h.01M51.6 273.2h.01M58.3 272.3h.01M60.7 271.4h.01M61.8 272.1h.01M63.0 271.8h.01M54.4 272.6h.01M60.9 274.0h.01M53.4 271.4h.01M59.3 273.8h.01M59.0 271.9h.01M61.8 272.3h.01M56.4 273.0h.01M52.9 269.6h.01" stroke="#555" stroke-width="0.76" stroke-linecap="round" fill="none" opacity="0.28"/>
<text x="75.90" y="275.20" font-size="9" text-anchor="end" font-weight="normal" fill="#141414">19</text>
<rect x="89.40" y="262.90" width="43.30" height="39.50" fill="none" stroke="#9a9a9a" stroke-width="0.8"/>
<line x1="89.40" y1="262.90" x2="89.40" y2="302.40" stroke="#555" stroke-width="1.0"/>
<line x1="89.40" y1="302.40" x2="132.70" y2="302.40" stroke="#555" stroke-width="1.0"/>
<line x1="88.00" y1="263.40" x2="89.40" y2="263.40" stroke="#555" stroke-width="0.7"/>
<path d="M85.40 262.80h1.7v2.0" fill="none" stroke="#444" stroke-width="0.9"/>
<line x1="88.00" y1="273.02" x2="89.40" y2="273.02" stroke="#555" stroke-width="0.7"/>
<path d="M85.40 272.42h1.7v2.0" fill="none" stroke="#444" stroke-width="0.9"/>
<line x1="88.00" y1="282.65" x2="89.40" y2="282.65" stroke="#555" stroke-width="0.7"/>
<path d="M85.40 282.05h1.7v2.0" fill="none" stroke="#444" stroke-width="0.9"/>
<line x1="88.00" y1="292.27" x2="89.40" y2="292.27" stroke="#555" stroke-width="0.7"/>
<path d="M85.40 291.67h1.7v2.0" fill="none" stroke="#444" stroke-width="0.9"/>
<line x1="88.00" y1="301.90" x2="89.40" y2="301.90" stroke="#555" stroke-width="0.7"/>
<path d="M85.40 301.30h1.7v2.0" fill="none" stroke="#444" stroke-width="0.9"/>
<line x1="89.90" y1="302.40" x2="89.90" y2="303.80" stroke="#555" stroke-width="0.7"/>
<path d="M88.50 306.60v-1.7h2.2" fill="none" stroke="#444" stroke-width="1.0"/>
<line x1="100.47" y1="302.40" x2="100.47" y2="303.80" stroke="#555" stroke-width="0.7"/>
<path d="M99.07 306.60v-1.7h2.2" fill="none" stroke="#444" stroke-width="1.0"/>
<line x1="111.05" y1="302.40" x2="111.05" y2="303.80" stroke="#555" stroke-width="0.7"/>
<path d="M109.65 306.60v-1.7h2.2" fill="none" stroke="#444" stroke-width="1.0"/>
<line x1="121.62" y1="302.40" x2="121.62" y2="303.80" stroke="#555" stroke-width="0.7"/>
<path d="M120.22 306.60v-1.7h2.2" fill="none" stroke="#444" stroke-width="1.0"/>
<line x1="132.20" y1="302.40" x2="132.20" y2="303.80" stroke="#555" stroke-width="0.7"/>
<path d="M130.80 306.60v-1.7h2.2" fill="none" stroke="#444" stroke-width="1.0"/>
<line x1="104.50" y1="262.90" x2="104.50" y2="302.40" stroke="#6f6f6f" stroke-width="0.9"/>
<line x1="89.40" y1="280.50" x2="132.70" y2="280.50" stroke="#6f6f6f" stroke-width="0.9"/>
<path d="M102.8 275.1h.01M104.1 274.7h.01M102.5 275.8h.01M102.2 276.8h.01M101.8 275.3h.01M98.3 274.4h.01M104.0 273.8h.01M110.5 273.4h.01M108.0 274.1h.01M107.9 271.4h.01M99.4 275.8h.01M96.8 274.6h.01M104.8 273.9h.01M104.0 274.7h.01M100.1 274.5h.01M98.5 272.7h.01M92.3 273.7h.01M91.6 274.0h.01M102.7 271.2h.01M101.9 274.2h.01M99.5 271.7h.01M100.9 274.5h.01M106.9 277.6h.01M104.0 272.1h.01M103.4 278.0h.01M102.2 276.5h.01M107.7 272.4h.01M110.4 269.5h.01M100.4 272.1h.01M102.7 273.7h.01M108.1 272.1h.01M112.7 269.5h.01M102.8 279.3h.01M100.9 275.0h.01M98.8 280.8h.01M106.7 272.7h.01M90.4 274.5h.01M105.8 269.0h.01M98.7 274.9h.01M92.3 271.0h.01M103.9 276.0h.01M108.3 271.9h.01M104.5 269.7h.01M92.9 275.1h.01M99.2 271.5h.01M90.7 273.5h.01M114.5 268.8h.01M95.4 276.3h.01M90.4 272.7h.01M101.9 276.0h.01M101.1 277.6h.01M101.3 273.4h.01M104.1 274.3h.01M92.8 271.9h.01M100.1 274.4h.01M94.4 272.3h.01M97.2 274.5h.01M99.0 275.0h.01M103.8 271.5h.01M99.8 271.0h.01M102.1 275.3h.01M95.8 270.0h.01M104.5 272.9h.01M101.3 274.6h.01M103.7 275.5h.01M98.8 268.9h.01M98.7 273.0h.01M99.1 274.5h.01M100.1 276.5h.01M97.8 273.7h.01M99.4 278.3h.01M95.9 271.6h.01M99.3 275.3h.01M101.6 273.2h.01M93.0 269.4h.01M100.3 273.1h.01M111.8 274.0h.01M104.0 275.6h.01M96.3 271.1h.01M99.4 276.9h.01M107.3 272.1h.01M94.2 275.9h.01M107.9 271.0h.01M110.9 271.6h.01M105.9 273.0h.01M99.6 272.3h.01M105.6 274.8h.01M106.2 272.8h.01M96.5 278.4h.01M111.5 272.8h.01M94.8 277.1h.01M102.3 273.7h.01M106.5 274.2h.01M102.2 277.9h.01M90.4 275.4h.01M95.7 274.0h.01M100.5 274.2h.01M115.2 272.2h.01M106.8 274.8h.01M103.2 272.4h.01M105.2 274.1h.01M110.0 275.1h.01M97.3 267.4h.01M110.4 274.3h.01M102.5 272.2h.01M116.2 276.0h.01M102.1 272.8h.01M104.9 276.4h.01M104.6 275.5h.01M103.0 274.3h.01M94.0 274.1h.01M101.8 273.4h.01M100.1 274.3h.01M98.1 273.3h.01M93.8 278.9h.01M96.2 271.2h.01M98.3 272.8h.01M95.2 268.5h.01M111.2 275.5h.01M99.3 274.9h.01M94.9 270.3h.01M103.5 274.8h.01M97.4 273.7h.01M107.8 273.7h.01M102.6 274.8h.01M94.0 274.4h.01M97.8 269.6h.01M106.8 273.0h.01M107.4 277.8h.01M91.7 271.2h.01M107.9 276.4h.01M103.9 274.3h.01M105.6 274.9h.01M93.9 275.5h.01M107.4 272.5h.01M96.1 272.7h.01M98.0 274.9h.01M106.1 273.5h.01M99.7 269.8h.01M99.0 271.5h.01M98.2 274.5h.01M102.5 281.2h.01M96.3 272.6h.01M94.7 273.3h.01M99.8 275.9h.01M105.3 272.3h.01M97.4 274.2h.01M104.6 273.1h.01M100.6 273.7h.01M95.0 274.4h.01M104.9 273.6h.01M94.7 273.9h.01M100.8 274.3h.01M99.0 275.5h.01M108.0 275.2h.01M102.9 276.2h.01M101.2 273.2h.01M93.0 274.0h.01M108.7 271.3h.01M106.1 270.7h.01M103.3 277.5h.01M101.8 271.1h.01M103.2 273.2h.01M106.2 272.3h.01M91.2 273.0h.01M105.0 275.7h.01M103.1 273.6h.01M105.6 273.0h.01M98.8 274.2h.01M108.0 272.3h.01M104.4 272.1h.01M97.1 274.1h.01M93.5 272.1h.01M94.4 272.6h.01M96.0 278.8h.01M105.1 273.6h.01M93.5 268.8h.01M104.1 272.2h.01M107.7 272.5h.01M93.7 272.5h.01M92.4 270.9h.01M105.7 272.3h.01M105.6 272.3h.01M100.1 272.5h.01M98.2 272.3h.01M110.4 273.2h.01M108.9 275.7h.01M100.8 273.3h.01M98.6 274.0h.01M104.3 273.5h.01M96.6 271.7h.01M111.4 276.9h.01M94.1 272.5h.01M101.2 274.9h.01M100.8 274.1h.01M103.6 276.0h.01M93.7 276.2h.01M104.1 274.7h.01M92.4 273.4h.01M99.9 275.0h.01M105.5 274.9h.01M93.7 276.6h.01M101.8 275.6h.01M101.4 272.1h.01M117.1 274.4h.01M106.0 272.5h.01M100.1 276.0h.01M104.1 277.2h.01M108.6 271.1h.01M92.2 276.4h.01M105.0 272.9h.01M99.7 272.5h.01M112.2 272.9h.01M93.2 275.8h.01M100.9 274.4h.01M99.1 273.6h.01M97.3 273.0h.01M103.3 276.3h.01M104.7 275.6h.01M96.0 274.5h.01M103.8 275.5h.01M97.7 273.4h.01M98.4 276.1h.01M107.9 272.4h.01M100.6 274.1h.01M96.0 273.6h.01M106.6 275.1h.01M97.3 272.4h.01M100.7 270.5h.01M103.3 273.8h.01M93.4 273.4h.01M97.4 273.2h.01M96.2 276.7h.01M95.6 275.4h.01M102.6 276.6h.01M101.1 273.6h.01M101.8 269.6h.01M115.8 272.6h.01M99.5 271.3h.01M100.6 277.0h.01M96.9 274.7h.01M107.6 275.4h.01M99.0 270.1h.01M103.8 274.7h.01M99.4 272.8h.01M111.9 269.9h.01M98.3 272.5h.01M92.0 272.5h.01M96.6 276.4h.01M90.9 271.1h.01" stroke="#333" stroke-width="0.8" stroke-linecap="round" fill="none" opacity="0.2"/>
<path d="M101.6 271.1h.01M93.2 272.2h.01M96.2 271.8h.01M100.0 273.1h.01M98.2 272.4h.01M103.3 272.4h.01M103.3 272.0h.01M102.4 273.8h.01M95.5 275.6h.01M99.4 272.3h.01M100.0 273.1h.01M96.2 272.8h.01M98.5 274.0h.01M94.3 273.4h.01M99.5 271.9h.01M101.1 272.4h.01M100.8 272.8h.01M105.1 272.1h.01M106.8 269.9h.01M107.4 273.6h.01M106.4 272.6h.01M101.7 271.6h.01M105.6 271.4h.01M97.7 272.7h.01M101.5 272.9h.01M96.3 272.4h.01M102.4 273.7h.01M103.5 272.9h.01M99.7 272.1h.01M98.7 272.6h.01M102.6 272.1h.01M108.2 271.5h.01M103.6 272.3h.01M100.1 272.3h.01M106.3 272.2h.01M102.7 272.7h.01M103.4 273.1h.01M106.7 271.8h.01M97.6 274.3h.01M105.3 272.6h.01M99.6 272.9h.01M105.4 271.8h.01M106.0 272.4h.01M99.3 272.3h.01M92.9 273.1h.01M95.8 272.2h.01M97.3 272.9h.01M103.3 272.6h.01M101.3 273.0h.01M106.6 273.0h.01M106.4 272.4h.01M101.9 272.0h.01M102.8 271.8h.01M102.4 272.0h.01M99.3 273.8h.01M101.2 273.3h.01M99.7 270.9h.01M106.1 272.3h.01M98.2 273.6h.01M96.4 272.0h.01M104.9 271.8h.01M104.8 272.2h.01M99.9 272.7h.01M98.8 273.7h.01M104.7 272.6h.01M102.9 273.1h.01M106.8 271.0h.01M104.4 273.4h.01M99.5 272.7h.01M99.4 273.8h.01M96.4 273.3h.01M105.4 273.0h.01M98.9 272.2h.01M92.8 271.9h.01M104.7 271.6h.01M94.6 272.5h.01M95.1 273.2h.01M97.4 273.6h.01M100.2 271.3h.01M97.8 272.1h.01M97.5 273.9h.01M96.9 273.1h.01M98.5 273.2h.01M95.4 271.3h.01M102.5 273.9h.01M95.5 272.5h.01M98.8 271.8h.01M104.2 272.6h.01M95.5 272.6h.01M105.6 271.8h.01M98.7 271.9h.01M101.2 272.1h.01M103.9 271.8h.01M95.3 273.2h.01M101.7 272.8h.01M98.5 272.3h.01M102.6 276.1h.01M97.7 272.5h.01M99.0 273.2h.01M100.7 273.1h.01M106.7 272.2h.01M99.6 273.0h.01M108.4 272.1h.01M106.9 273.6h.01M90.5 272.0h.01M97.0 273.1h.01M105.5 272.5h.01M101.2 274.6h.01M102.0 274.6h.01M97.3 274.3h.01M98.8 270.4h.01M97.6 272.3h.01M100.5 273.3h.01M103.2 273.0h.01M97.9 274.4h.01M105.1 272.5h.01M98.5 272.6h.01M99.8 272.0h.01M100.6 272.0h.01M103.0 271.9h.01M102.5 272.9h.01M101.3 273.1h.01M96.9 275.1h.01M98.1 273.4h.01M100.7 272.2h.01M107.1 273.5h.01M99.6 273.2h.01M103.2 274.0h.01M104.4 272.4h.01M99.7 271.6h.01M101.6 273.4h.01M99.2 273.3h.01M101.1 272.2h.01M96.1 273.8h.01M110.0 272.9h.01M96.7 271.8h.01M101.6 273.2h.01M106.3 270.2h.01M107.5 272.6h.01M101.2 273.0h.01M99.3 272.4h.01M104.6 270.9h.01M100.2 273.2h.01M94.6 272.6h.01M106.3 272.8h.01M103.3 273.2h.01M101.5 272.9h.01M97.7 272.5h.01M107.5 271.3h.01M100.0 271.4h.01M98.7 271.9h.01M96.1 273.0h.01M97.2 273.2h.01M107.3 270.0h.01M100.1 270.7h.01M100.2 273.0h.01M101.4 273.7h.01M101.3 271.0h.01M106.2 271.6h.01M100.3 272.9h.01M97.4 272.8h.01M106.2 270.9h.01M94.5 272.4h.01M100.1 271.4h.01M92.1 273.7h.01M102.1 271.3h.01M102.8 272.5h.01M101.3 271.3h.01M99.9 273.1h.01M94.2 271.8h.01M104.3 274.4h.01M103.1 272.5h.01M96.7 272.3h.01M99.7 273.1h.01M99.7 275.0h.01M105.6 270.4h.01M96.3 272.7h.01M104.3 272.9h.01M90.5 271.3h.01M105.7 273.0h.01M110.2 273.1h.01M102.4 274.0h.01M99.0 272.1h.01M96.9 272.9h.01M102.3 273.5h.01M106.0 273.1h.01M105.2 272.3h.01M97.1 273.4h.01M104.4 273.8h.01M100.1 272.2h.01M99.3 273.0h.01M100.5 272.4h.01M101.6 272.3h.01M101.9 272.0h.01M95.0 272.5h.01M107.7 271.7h.01M104.1 273.8h.01M98.7 272.9h.01M92.2 273.4h.01M106.4 272.6h.01M93.3 272.3h.01M97.9 272.8h.01M101.8 272.2h.01M99.5 271.9h.01M102.8 272.7h.01M102.0 272.1h.01M102.5 272.3h.01M101.8 272.4h.01M98.2 271.6h.01M93.8 271.5h.01M102.4 275.7h.01M94.6 272.0h.01M100.7 276.0h.01M99.9 271.5h.01M102.2 274.6h.01M90.3 271.8h.01M105.3 271.4h.01M100.3 272.0h.01M103.5 271.1h.01M101.8 272.8h.01M102.8 273.0h.01M101.3 270.9h.01M99.5 271.7h.01M102.7 272.3h.01M101.3 273.6h.01M100.3 274.2h.01M103.8 271.1h.01M98.5 273.8h.01M98.8 273.8h.01M98.6 272.5h.01M104.5 271.0h.01M101.0 272.2h.01M101.3 274.2h.01M102.5 271.3h.01M104.3 272.1h.01M101.3 273.7h.01M99.5 273.6h.01M101.4 271.7h.01M99.6 271.3h.01M105.1 272.6h.01M104.3 271.4h.01M103.8 271.4h.01M101.7 272.6h.01M98.5 273.0h.01M100.8 271.8h.01M97.9 271.4h.01M105.8 272.6h.01M99.4 273.3h.01M97.5 271.6h.01M102.0 274.1h.01M101.8 272.7h.01M107.2 270.9h.01M112.0 271.2h.01M100.4 271.3h.01M96.2 272.5h.01M109.8 271.5h.01M98.4 272.9h.01M96.9 272.5h.01M103.7 270.4h.01M99.6 272.3h.01M98.8 272.5h.01M94.0 272.4h.01M98.8 271.7h.01M105.4 274.4h.01M103.7 271.7h.01M106.0 272.9h.01M97.7 273.3h.01M98.6 273.2h.01M104.1 273.6h.01M96.8 272.6h.01M100.7 271.4h.01M102.2 273.2h.01M95.6 272.2h.01M96.6 271.5h.01M96.8 274.0h.01M98.2 272.3h.01M104.4 273.5h.01M105.9 270.5h.01M103.5 270.8h.01M98.4 272.3h.01M98.6 274.6h.01M100.1 273.7h.01M100.0 272.6h.01M102.6 273.0h.01M102.6 270.9h.01M102.6 272.9h.01M102.9 272.5h.01M102.2 271.3h.01M104.9 271.3h.01M105.9 273.4h.01M100.5 272.3h.01M103.6 272.2h.01M96.3 273.0h.01M96.2 272.3h.01M107.3 273.2h.01M99.0 272.6h.01M98.3 272.7h.01M95.3 273.4h.01M100.8 272.0h.01" stroke="#1a1a1a" stroke-width="0.84" stroke-linecap="round" fill="none" opacity="0.4"/>
<path d="M99.4 274.3h.01M99.8 272.3h.01M99.5 272.3h.01M103.4 272.9h.01M101.6 272.8h.01M98.3 271.2h.01M103.9 273.0h.01M101.2 272.8h.01M101.1 272.6h.01M100.2 271.2h.01M101.9 272.6h.01M102.8 272.7h.01M100.1 273.0h.01M101.1 272.3h.01M99.9 272.4h.01M100.1 272.3h.01M102.8 274.4h.01M100.5 273.3h.01M96.6 270.7h.01M99.7 272.5h.01M99.1 271.8h.01M98.9 272.3h.01M101.0 272.4h.01M98.2 272.4h.01M103.9 271.9h.01M100.8 273.2h.01M99.0 272.3h.01M106.8 273.2h.01M99.6 272.7h.01M100.9 272.7h.01M101.7 272.4h.01M96.0 272.1h.01M101.0 271.7h.01M100.0 273.6h.01M101.2 272.2h.01M101.0 273.3h.01M97.1 271.9h.01M99.3 272.4h.01M100.5 272.2h.01M100.9 272.6h.01M98.3 272.3h.01M98.1 272.9h.01M101.2 273.0h.01M98.9 272.3h.01M96.0 272.8h.01M97.3 272.9h.01M103.0 272.8h.01M102.0 272.7h.01M101.5 273.2h.01M103.4 273.8h.01M100.1 273.1h.01M102.5 272.8h.01M101.3 271.8h.01M103.0 272.0h.01M99.3 272.1h.01M101.9 272.0h.01M101.7 272.9h.01M100.9 272.4h.01M101.9 273.4h.01M99.7 272.0h.01M99.4 272.1h.01M100.2 272.5h.01M95.9 273.7h.01M99.0 272.4h.01M96.6 271.5h.01M98.6 272.8h.01M102.5 271.4h.01M101.2 273.5h.01M100.1 273.2h.01M101.4 272.0h.01M102.8 272.2h.01M101.4 272.3h.01M100.2 272.7h.01M103.5 271.5h.01M98.4 272.7h.01M102.7 272.4h.01M100.3 272.9h.01M104.0 271.9h.01M97.4 272.5h.01M102.3 271.7h.01M103.1 273.1h.01M102.4 272.0h.01M98.0 273.1h.01M101.2 273.0h.01M97.9 270.8h.01M103.0 273.2h.01M100.1 272.6h.01M101.6 273.0h.01M100.3 272.3h.01M98.7 273.3h.01M100.9 270.5h.01M101.4 272.2h.01M98.0 272.4h.01M98.0 272.4h.01M99.6 273.0h.01M98.6 271.5h.01M99.4 271.8h.01M102.3 272.4h.01M97.2 272.2h.01M100.6 272.6h.01M96.8 272.6h.01M101.3 273.2h.01M103.0 272.5h.01M98.0 272.4h.01M102.1 272.0h.01M103.3 271.9h.01M98.3 273.2h.01M100.5 272.8h.01M100.1 272.6h.01M99.5 273.8h.01M102.1 272.5h.01M101.7 273.1h.01M99.6 272.7h.01M101.1 272.2h.01M99.1 272.5h.01M100.1 272.4h.01M96.6 272.8h.01M102.1 272.6h.01M104.3 273.0h.01M100.0 272.2h.01M101.7 272.3h.01M97.3 272.8h.01M100.1 272.5h.01M102.0 272.7h.01M104.9 272.0h.01M100.5 272.8h.01M99.8 272.3h.01M104.4 271.6h.01M101.4 271.5h.01M101.4 271.4h.01M98.3 273.4h.01M103.9 272.6h.01M95.0 273.4h.01M101.2 271.9h.01M100.0 271.8h.01M100.5 272.6h.01M101.0 273.1h.01M99.3 271.3h.01M98.3 271.9h.01M99.9 272.3h.01M100.6 273.5h.01M100.8 271.9h.01M100.1 272.1h.01M100.2 273.0h.01M98.3 273.1h.01M104.4 273.4h.01M104.1 272.5h.01M97.9 273.9h.01M100.6 272.7h.01M100.0 272.0h.01M102.0 271.7h.01M97.8 273.0h.01M99.9 272.1h.01M101.7 273.5h.01M100.1 272.5h.01M101.9 273.1h.01M102.9 273.0h.01M99.3 273.0h.01M100.7 271.5h.01M103.3 272.9h.01M103.6 272.5h.01M102.2 272.5h.01M101.0 273.2h.01M100.8 273.0h.01M100.6 273.4h.01M102.1 271.5h.01M104.2 272.8h.01M99.6 272.2h.01M104.9 272.5h.01M101.8 272.9h.01M99.5 273.7h.01M105.1 272.0h.01M103.1 271.5h.01M100.0 272.7h.01M100.8 273.0h.01M101.5 272.8h.01M100.4 272.8h.01M99.5 273.9h.01M100.8 273.4h.01M100.9 272.5h.01" stroke="#0c0c0c" stroke-width="0.9" stroke-linecap="round" fill="none" opacity="0.6"/>
<path d="M110.1 270.8h.01M121.3 272.8h.01M111.7 271.8h.01M117.4 271.9h.01M108.7 271.7h.01M118.7 272.7h.01M110.3 271.6h.01M117.4 272.6h.01M109.4 273.3h.01M115.4 271.2h.01M116.7 273.6h.01M109.8 270.8h.01M116.4 271.9h.01M110.0 272.0h.01M109.7 273.3h.01M105.6 272.9h.01M116.8 273.5h.01M114.6 272.6h.01M110.0 272.2h.01M106.7 274.2h.01M110.4 271.1h.01M115.1 274.0h.01M112.4 271.9h.01M105.5 273.0h.01M109.8 271.5h.01M114.0 270.8h.01M114.7 269.5h.01M108.0 270.7h.01M109.8 273.2h.01M104.6 273.9h.01M107.7 271.8h.01M115.9 271.5h.01M118.2 272.1h.01M110.6 271.2h.01M116.7 272.2h.01M108.7 271.2h.01M107.9 272.2h.01M107.5 273.2h.01M110.9 271.6h.01M113.3 273.9h.01M100.8 272.7h.01M116.4 272.5h.01M115.1 270.5h.01M107.4 273.5h.01M110.6 272.4h.01M114.1 272.7h.01M113.3 271.7h.01M109.6 273.8h.01M108.6 270.7h.01M109.3 273.3h.01M119.9 272.5h.01M108.0 273.0h.01M112.5 273.6h.01M113.6 273.2h.01M113.6 272.8h.01" stroke="#555" stroke-width="0.76" stroke-linecap="round" fill="none" opacity="0.28"/>
<text x="131.10" y="275.20" font-size="9" text-anchor="end" font-weight="normal" fill="#141414">22</text>
<rect x="145.60" y="262.90" width="43.00" height="39.50" fill="none" stroke="#9a9a9a" stroke-width="0.8"/>
<line x1="145.60" y1="262.90" x2="145.60" y2="302.40" stroke="#555" stroke-width="1.0"/>
<line x1="145.60" y1="302.40" x2="188.60" y2="302.40" stroke="#555" stroke-width="1.0"/>
<line x1="144.20" y1="263.40" x2="145.60" y2="263.40" stroke="#555" stroke-width="0.7"/>
<path d="M141.60 262.80h1.7v2.0" fill="none" stroke="#444" stroke-width="0.9"/>
<line x1="144.20" y1="273.02" x2="145.60" y2="273.02" stroke="#555" stroke-width="0.7"/>
<path d="M141.60 272.42h1.7v2.0" fill="none" stroke="#444" stroke-width="0.9"/>
<line x1="144.20" y1="282.65" x2="145.60" y2="282.65" stroke="#555" stroke-width="0.7"/>
<path d="M141.60 282.05h1.7v2.0" fill="none" stroke="#444" stroke-width="0.9"/>
<line x1="144.20" y1="292.27" x2="145.60" y2="292.27" stroke="#555" stroke-width="0.7"/>
<path d="M141.60 291.67h1.7v2.0" fill="none" stroke="#444" stroke-width="0.9"/>
<line x1="144.20" y1="301.90" x2="145.60" y2="301.90" stroke="#555" stroke-width="0.7"/>
<path d="M141.60 301.30h1.7v2.0" fill="none" stroke="#444" stroke-width="0.9"/>
<line x1="146.10" y1="302.40" x2="146.10" y2="303.80" stroke="#555" stroke-width="0.7"/>
<path d="M144.70 306.60v-1.7h2.2" fill="none" stroke="#444" stroke-width="1.0"/>
<line x1="156.60" y1="302.40" x2="156.60" y2="303.80" stroke="#555" stroke-width="0.7"/>
<path d="M155.20 306.60v-1.7h2.2" fill="none" stroke="#444" stroke-width="1.0"/>
<line x1="167.10" y1="302.40" x2="167.10" y2="303.80" stroke="#555" stroke-width="0.7"/>
<path d="M165.70 306.60v-1.7h2.2" fill="none" stroke="#444" stroke-width="1.0"/>
<line x1="177.60" y1="302.40" x2="177.60" y2="303.80" stroke="#555" stroke-width="0.7"/>
<path d="M176.20 306.60v-1.7h2.2" fill="none" stroke="#444" stroke-width="1.0"/>
<line x1="188.10" y1="302.40" x2="188.10" y2="303.80" stroke="#555" stroke-width="0.7"/>
<path d="M186.70 306.60v-1.7h2.2" fill="none" stroke="#444" stroke-width="1.0"/>
<line x1="160.80" y1="262.90" x2="160.80" y2="302.40" stroke="#6f6f6f" stroke-width="0.9"/>
<line x1="145.60" y1="280.50" x2="188.60" y2="280.50" stroke="#6f6f6f" stroke-width="0.9"/>
<path d="M152.0 273.5h.01M166.8 276.0h.01M163.1 274.2h.01M156.7 274.3h.01M155.5 275.9h.01M155.6 272.1h.01M147.9 277.2h.01M153.0 272.0h.01M159.8 277.2h.01M161.3 272.8h.01M160.7 271.8h.01M155.9 273.7h.01M157.5 275.2h.01M160.6 277.4h.01M162.3 272.8h.01M158.9 271.8h.01M153.9 273.0h.01M163.4 272.0h.01M148.3 271.8h.01M150.4 273.5h.01M155.7 271.2h.01M152.8 272.9h.01M159.8 274.8h.01M165.2 272.8h.01M161.1 273.6h.01M151.1 272.5h.01M170.2 272.8h.01M167.1 275.0h.01M167.2 272.9h.01M162.9 272.8h.01M151.0 271.4h.01M160.1 270.2h.01M159.6 271.7h.01M159.6 270.7h.01M162.5 272.9h.01M148.6 270.9h.01M157.9 270.2h.01M159.4 274.5h.01M153.7 276.6h.01M165.9 273.9h.01M160.2 274.5h.01M156.0 276.4h.01M154.4 268.5h.01M157.6 274.5h.01M162.3 271.1h.01M165.6 271.6h.01M161.2 275.0h.01M158.6 275.9h.01M154.7 277.9h.01M160.4 272.6h.01M172.7 273.0h.01M148.1 276.9h.01M166.5 272.1h.01M151.8 276.1h.01M157.9 271.6h.01M154.7 273.8h.01M163.2 276.6h.01M153.9 276.9h.01M148.8 275.4h.01M156.7 274.5h.01M155.0 272.2h.01M159.2 275.9h.01M155.2 271.5h.01M149.7 275.0h.01M160.8 274.8h.01M154.0 272.8h.01M167.8 272.4h.01M158.3 275.6h.01M167.2 274.0h.01M159.5 277.5h.01M155.2 270.0h.01M153.2 273.1h.01M165.2 274.0h.01M164.5 273.6h.01M157.8 272.4h.01M150.4 274.9h.01M159.7 274.7h.01M154.5 272.8h.01M159.7 274.8h.01M169.1 271.4h.01M163.3 275.2h.01M156.0 273.9h.01M157.2 276.8h.01M172.3 273.7h.01M156.1 275.6h.01M160.4 273.1h.01M161.9 275.2h.01M155.3 275.4h.01M155.8 274.0h.01M149.1 277.0h.01M155.4 274.0h.01M157.3 275.2h.01M154.2 275.3h.01M152.7 270.7h.01M160.5 273.8h.01M162.7 269.4h.01M158.2 272.2h.01M156.5 272.8h.01M155.4 272.3h.01M163.5 269.8h.01M147.9 274.7h.01M169.2 271.6h.01M152.3 271.4h.01M151.6 276.4h.01M161.5 275.3h.01M159.6 274.0h.01M154.2 271.7h.01M161.2 278.6h.01M155.4 276.3h.01M153.5 273.8h.01M167.4 273.1h.01M161.2 272.3h.01M168.5 270.6h.01M160.8 273.0h.01M158.7 274.3h.01M165.2 275.1h.01M163.7 274.1h.01M151.4 276.6h.01M166.5 274.3h.01M162.2 272.9h.01M149.2 275.9h.01M153.3 277.7h.01M161.6 273.4h.01M154.0 273.9h.01M151.7 273.0h.01M166.8 272.6h.01M168.2 273.0h.01M160.0 271.6h.01M155.8 272.7h.01M149.5 277.9h.01M161.0 273.3h.01M151.2 273.9h.01M151.4 271.8h.01M156.5 278.1h.01M147.4 275.1h.01M154.4 267.7h.01M149.3 273.6h.01M157.9 272.0h.01M167.9 274.3h.01M153.9 270.3h.01M158.5 272.2h.01M163.5 271.2h.01M164.5 272.4h.01M158.7 273.0h.01M161.2 275.9h.01M154.4 271.8h.01M168.5 275.2h.01M168.6 275.2h.01M158.3 277.0h.01M153.6 272.8h.01M155.2 275.1h.01M152.6 273.4h.01M152.6 273.3h.01M164.0 275.7h.01M156.2 279.0h.01M153.4 274.7h.01M154.7 269.1h.01M150.6 276.4h.01M147.9 280.1h.01M156.8 274.2h.01M164.8 273.4h.01M153.8 272.5h.01M152.0 274.9h.01M154.8 274.8h.01M148.8 273.0h.01M169.5 273.9h.01M156.9 276.1h.01M159.1 276.7h.01M150.7 275.4h.01M151.3 275.2h.01M171.8 276.3h.01M152.5 274.7h.01M160.2 272.0h.01M158.9 271.3h.01M163.1 275.3h.01M156.5 275.1h.01M171.4 272.8h.01M146.6 274.7h.01M154.8 272.1h.01M162.7 275.5h.01M161.0 276.9h.01M153.8 272.9h.01M159.9 267.8h.01M156.2 273.8h.01M151.9 274.3h.01M163.6 272.0h.01M160.8 273.2h.01M156.5 273.9h.01M166.3 274.4h.01M161.5 273.8h.01M157.3 273.8h.01M154.5 270.5h.01M166.2 277.1h.01M166.6 269.4h.01M160.7 271.0h.01M156.4 272.6h.01M153.8 272.1h.01M154.6 275.3h.01M166.9 275.2h.01M157.4 273.3h.01M156.0 273.6h.01M153.8 273.4h.01M162.4 272.9h.01M152.7 273.5h.01M157.9 273.4h.01M155.9 275.1h.01M157.2 271.5h.01M160.8 272.0h.01M161.9 275.1h.01M160.3 274.1h.01M149.5 273.5h.01M158.2 274.9h.01M150.8 273.5h.01M148.4 274.3h.01M157.9 273.8h.01M167.1 274.8h.01M156.3 272.4h.01M154.8 275.3h.01M162.8 272.3h.01M156.7 272.7h.01M161.4 273.9h.01M153.2 271.9h.01M165.0 270.4h.01M146.8 267.5h.01M169.3 272.0h.01M162.4 274.6h.01M162.3 275.8h.01M154.7 273.7h.01M163.2 274.6h.01M153.0 272.2h.01M148.9 274.5h.01M154.3 270.5h.01M154.1 274.4h.01M158.5 273.1h.01M158.4 274.9h.01M150.4 272.2h.01M163.1 274.9h.01M149.2 272.4h.01M165.9 274.9h.01M156.6 275.8h.01M165.5 276.3h.01M149.2 271.2h.01M154.4 273.6h.01M155.3 274.2h.01M166.1 275.6h.01M163.3 273.4h.01M167.2 274.2h.01M158.8 273.5h.01M146.6 278.5h.01M157.3 275.5h.01M170.8 272.7h.01M150.5 276.0h.01M158.8 271.6h.01M163.1 273.4h.01M151.8 268.5h.01" stroke="#333" stroke-width="0.8" stroke-linecap="round" fill="none" opacity="0.2"/>
<path d="M152.9 273.1h.01M152.8 273.6h.01M164.6 272.7h.01M157.4 272.5h.01M159.7 272.5h.01M160.4 273.8h.01M159.7 271.6h.01M159.0 272.3h.01M157.7 273.5h.01M154.2 272.9h.01M161.9 271.7h.01M155.9 273.3h.01M155.7 273.6h.01M152.9 271.3h.01M157.9 272.4h.01M157.7 273.5h.01M160.4 272.2h.01M155.2 270.8h.01M153.0 272.9h.01M157.4 271.2h.01M159.4 272.5h.01M160.6 272.2h.01M160.1 271.5h.01M149.8 272.0h.01M159.1 272.9h.01M149.7 272.9h.01M159.0 274.1h.01M159.4 273.0h.01M150.8 273.1h.01M149.4 272.5h.01M155.2 271.7h.01M152.9 272.6h.01M158.7 271.9h.01M157.7 273.2h.01M156.5 274.4h.01M155.4 271.9h.01M149.6 273.8h.01M159.0 272.4h.01M157.7 272.4h.01M159.8 272.5h.01M157.4 272.5h.01M153.3 270.6h.01M158.6 271.4h.01M158.0 273.2h.01M163.5 271.7h.01M157.1 273.5h.01M154.1 272.1h.01M158.2 274.5h.01M160.5 273.4h.01M153.0 273.3h.01M160.7 271.3h.01M156.6 272.4h.01M158.9 270.9h.01M159.1 272.5h.01M155.6 270.6h.01M149.0 272.3h.01M158.9 272.9h.01M159.3 270.9h.01M157.3 273.9h.01M150.9 273.4h.01M153.9 273.2h.01M156.9 271.1h.01M152.7 273.9h.01M156.2 273.8h.01M157.8 273.4h.01M155.1 272.8h.01M155.2 273.5h.01M154.5 273.7h.01M162.3 271.3h.01M155.9 273.1h.01M163.1 273.5h.01M156.9 271.0h.01M159.6 272.0h.01M157.3 273.0h.01M151.4 273.7h.01M159.9 273.1h.01M158.7 272.9h.01M151.4 272.3h.01M159.5 272.2h.01M156.6 272.9h.01M156.9 272.8h.01M158.3 272.6h.01M152.5 272.5h.01M160.1 271.9h.01M158.3 272.8h.01M153.3 270.0h.01M156.5 271.9h.01M154.3 273.5h.01M153.7 273.0h.01M157.0 272.8h.01M163.8 270.6h.01M160.1 272.4h.01M155.5 272.0h.01M156.7 272.6h.01M153.2 274.2h.01M153.8 272.5h.01M151.9 272.9h.01M157.9 273.6h.01M160.1 272.0h.01M162.4 272.3h.01M162.2 274.1h.01M155.1 271.6h.01M158.5 273.9h.01M158.0 273.6h.01M158.7 273.4h.01M161.4 272.2h.01M151.4 272.6h.01M153.7 271.6h.01M155.9 273.3h.01M149.8 271.4h.01M159.5 271.7h.01M155.1 273.9h.01M160.7 272.8h.01M158.5 270.0h.01M158.6 272.9h.01M151.5 272.9h.01M158.2 272.4h.01M159.4 273.3h.01M156.7 272.4h.01M152.2 273.8h.01M154.5 273.0h.01M162.1 273.2h.01M151.9 272.6h.01M153.9 271.1h.01M153.6 273.2h.01M157.8 272.4h.01M157.2 271.5h.01M153.7 272.5h.01M159.4 272.2h.01M155.9 272.9h.01M161.9 271.3h.01M158.5 272.7h.01M156.3 272.8h.01M149.3 272.8h.01M155.7 271.5h.01M159.6 272.4h.01M155.3 273.3h.01M153.2 272.0h.01M159.6 273.3h.01M163.9 272.0h.01M151.2 271.4h.01M152.2 272.8h.01M155.7 272.0h.01M152.9 272.0h.01M155.2 273.7h.01M158.8 273.8h.01M159.5 273.2h.01M160.8 272.9h.01M162.2 273.5h.01M163.2 272.6h.01M153.7 275.0h.01M155.5 273.1h.01M155.2 272.0h.01M158.1 271.5h.01M156.0 273.9h.01M157.0 273.4h.01M158.9 272.9h.01M156.9 273.2h.01M153.0 273.2h.01M152.6 272.0h.01M154.4 271.4h.01M149.4 273.2h.01M158.4 273.2h.01M164.6 272.5h.01M159.3 271.8h.01M159.1 271.5h.01M163.7 271.5h.01M155.0 273.3h.01M148.5 274.1h.01M153.1 272.9h.01M160.1 272.6h.01M159.9 272.0h.01M158.7 270.5h.01M162.0 271.8h.01M153.4 272.7h.01M162.7 271.8h.01M156.4 272.3h.01M153.1 271.5h.01M158.7 273.2h.01M153.8 272.9h.01M158.2 272.9h.01M155.9 272.7h.01M157.5 271.6h.01M156.0 273.4h.01M154.5 273.9h.01M155.6 271.6h.01M155.4 271.4h.01M158.7 271.0h.01M156.6 272.4h.01M155.4 273.0h.01M157.6 272.0h.01M159.5 272.1h.01M159.8 273.8h.01M157.9 273.4h.01M151.6 273.3h.01M151.1 272.6h.01M159.1 270.0h.01M153.7 272.0h.01M153.1 272.7h.01M158.8 271.5h.01M154.2 270.9h.01M153.9 270.7h.01M151.0 273.2h.01M159.7 271.8h.01M157.8 271.8h.01M160.4 274.1h.01M147.5 272.0h.01M154.2 272.2h.01M162.2 273.9h.01M156.5 273.2h.01M150.7 272.5h.01M155.5 272.5h.01M157.6 271.1h.01M152.7 274.7h.01M150.2 272.8h.01M159.2 273.0h.01M156.7 271.1h.01M154.8 271.2h.01M163.7 272.7h.01M159.2 272.7h.01M155.1 273.7h.01M159.7 273.1h.01M158.6 273.2h.01M155.5 273.0h.01M156.8 272.4h.01M158.9 274.5h.01M149.1 274.1h.01M154.9 273.8h.01M152.8 272.5h.01M160.2 272.4h.01M157.8 271.4h.01M152.3 274.3h.01M157.1 272.5h.01M151.5 271.8h.01M152.7 272.7h.01M156.1 272.0h.01M154.1 272.8h.01M160.8 271.2h.01M151.3 273.8h.01M151.3 272.4h.01M156.9 274.3h.01M149.1 270.1h.01M156.2 273.6h.01M157.0 271.8h.01M157.2 270.7h.01M159.5 273.9h.01M155.8 273.4h.01M152.7 274.1h.01M154.1 271.9h.01M153.7 271.0h.01M159.0 274.4h.01M151.3 272.6h.01M158.1 272.0h.01M150.8 273.1h.01M160.2 272.6h.01M152.6 272.4h.01M149.5 272.7h.01M161.0 273.5h.01M156.2 273.0h.01M154.6 272.8h.01M154.3 272.8h.01M154.6 272.8h.01M159.0 272.5h.01M151.8 273.2h.01M155.6 272.2h.01M158.6 271.8h.01M159.9 273.0h.01M154.0 272.0h.01M156.1 271.8h.01M160.0 270.4h.01M157.0 272.3h.01M152.5 273.3h.01M154.7 273.1h.01M154.9 272.4h.01M158.4 273.4h.01M160.1 272.5h.01M161.9 272.1h.01M151.5 271.0h.01M151.2 271.9h.01M150.0 273.1h.01M156.6 272.6h.01M157.4 272.5h.01M155.6 272.3h.01M156.7 271.5h.01M161.2 273.9h.01M156.6 274.7h.01M153.0 273.5h.01M150.6 273.3h.01M153.8 273.6h.01M156.9 273.5h.01M158.7 273.0h.01M155.5 274.1h.01M157.8 273.0h.01M161.7 272.2h.01M162.9 273.5h.01M156.8 271.2h.01M160.9 272.2h.01M156.9 272.7h.01M160.0 273.1h.01M149.9 272.2h.01" stroke="#1a1a1a" stroke-width="0.84" stroke-linecap="round" fill="none" opacity="0.4"/>
<path d="M157.2 272.7h.01M158.1 272.9h.01M159.9 272.1h.01M159.2 272.8h.01M157.1 273.0h.01M155.8 273.1h.01M156.1 273.1h.01M154.9 273.4h.01M153.4 272.3h.01M156.4 272.8h.01M154.9 272.4h.01M157.0 273.2h.01M159.2 272.2h.01M156.4 272.4h.01M153.4 272.4h.01M158.8 271.7h.01M162.4 273.0h.01M160.1 272.6h.01M151.8 273.0h.01M159.8 272.1h.01M159.1 273.0h.01M158.1 273.0h.01M157.7 273.0h.01M159.0 272.8h.01M157.8 272.8h.01M156.8 272.1h.01M152.8 272.1h.01M154.0 271.8h.01M157.9 272.4h.01M159.1 274.4h.01M158.1 272.3h.01M157.3 272.5h.01M157.1 273.9h.01M159.8 273.3h.01M157.1 273.7h.01M158.2 273.1h.01M154.1 272.3h.01M156.9 272.5h.01M155.4 271.4h.01M155.0 272.6h.01M157.2 271.9h.01M156.2 273.7h.01M156.8 271.4h.01M156.1 272.6h.01M159.1 272.6h.01M159.4 272.7h.01M158.9 273.4h.01M159.7 272.6h.01M157.8 275.0h.01M154.0 272.8h.01M157.5 272.1h.01M158.2 272.5h.01M158.2 272.7h.01M154.6 273.3h.01M160.7 273.0h.01M157.1 271.5h.01M157.2 272.6h.01M154.9 271.5h.01M157.4 273.2h.01M158.0 274.0h.01M152.6 272.9h.01M156.5 273.5h.01M156.5 272.0h.01M156.4 272.9h.01M155.0 272.2h.01M157.1 273.1h.01M156.0 272.9h.01M155.5 272.4h.01M156.9 273.2h.01M159.8 272.4h.01M157.4 273.8h.01M158.2 272.3h.01M157.4 271.7h.01M152.2 272.3h.01M155.1 271.8h.01M158.6 272.3h.01M156.7 272.6h.01M156.1 271.9h.01M160.5 271.3h.01M156.5 273.0h.01M156.1 272.6h.01M157.2 272.7h.01M155.8 273.3h.01M157.6 273.5h.01M156.7 271.4h.01M153.1 272.4h.01M157.5 271.6h.01M155.4 273.4h.01M157.2 272.1h.01M156.3 272.7h.01M155.7 272.4h.01M155.2 272.8h.01M159.8 273.4h.01M154.0 274.1h.01M156.3 271.7h.01M153.5 272.8h.01M157.0 272.2h.01M154.9 272.5h.01M157.1 273.0h.01M157.7 271.1h.01M155.3 272.8h.01M157.3 273.1h.01M153.5 273.7h.01M154.1 272.6h.01M155.6 272.3h.01M154.9 273.2h.01M158.1 272.8h.01M153.9 272.3h.01M156.4 272.9h.01M155.4 272.5h.01M161.9 272.5h.01M155.9 271.1h.01M155.0 273.7h.01M158.3 271.8h.01M158.1 272.7h.01M154.9 273.1h.01M155.3 272.5h.01M156.6 272.7h.01M155.6 272.8h.01M156.5 272.7h.01M157.3 272.2h.01M153.7 272.6h.01M159.1 272.7h.01M157.0 272.1h.01M154.2 271.9h.01M154.7 272.4h.01M153.4 272.6h.01M153.3 273.1h.01M156.5 271.5h.01M155.4 272.8h.01M157.3 273.1h.01M155.8 272.5h.01M156.1 273.0h.01M155.1 272.5h.01M156.8 272.4h.01M154.3 273.5h.01M157.6 272.0h.01M160.5 272.0h.01M154.8 272.4h.01M157.6 273.5h.01M159.3 272.9h.01M156.7 273.0h.01M154.9 272.2h.01M157.6 272.7h.01M157.0 272.0h.01M157.0 271.7h.01M158.4 272.6h.01M155.2 272.4h.01M162.2 274.4h.01M155.1 273.5h.01M150.6 273.5h.01M156.6 272.8h.01M154.6 271.9h.01M157.0 272.3h.01M157.6 273.2h.01M156.3 272.9h.01M156.9 272.7h.01M155.5 272.8h.01M157.4 272.6h.01M155.6 271.7h.01M154.4 273.6h.01M158.6 272.7h.01M157.1 272.5h.01M157.9 273.2h.01M156.0 272.8h.01M158.5 271.6h.01M154.6 272.3h.01M154.2 272.4h.01M154.8 272.4h.01M157.5 271.9h.01M156.7 273.4h.01M156.9 271.8h.01M155.3 273.4h.01M156.0 272.2h.01M158.1 272.1h.01M154.3 273.1h.01M156.6 272.2h.01M157.5 273.3h.01M158.7 272.6h.01M157.5 272.9h.01" stroke="#0c0c0c" stroke-width="0.9" stroke-linecap="round" fill="none" opacity="0.6"/>
<path d="M159.7 274.2h.01M163.7 271.7h.01M162.9 271.2h.01M172.2 272.3h.01M164.1 270.2h.01M167.7 272.3h.01M161.9 272.2h.01M158.1 273.1h.01M161.0 272.9h.01M167.4 269.9h.01M161.5 271.6h.01M170.7 273.0h.01M169.9 274.2h.01M165.5 271.7h.01M157.9 271.1h.01M169.6 271.3h.01M162.7 273.4h.01M155.0 273.9h.01M173.1 270.3h.01M169.2 272.3h.01M171.3 271.9h.01M166.3 273.9h.01M164.0 272.8h.01M169.9 272.2h.01M171.1 272.9h.01M170.9 270.4h.01M161.9 272.6h.01M172.5 273.9h.01M167.0 271.5h.01M161.6 270.1h.01M164.5 273.0h.01M166.6 270.6h.01M166.4 272.4h.01M163.3 274.0h.01M169.0 273.6h.01M167.4 271.2h.01M172.1 273.6h.01M164.1 270.8h.01M170.8 271.7h.01M161.3 272.2h.01M169.6 271.5h.01M167.1 273.4h.01M170.5 270.5h.01M170.3 274.3h.01M171.3 272.2h.01M168.7 270.5h.01M164.1 271.7h.01M176.9 272.3h.01M162.2 274.2h.01M172.8 270.4h.01M165.9 270.4h.01M171.9 269.7h.01M175.8 271.1h.01M161.9 274.7h.01M169.5 272.7h.01" stroke="#555" stroke-width="0.76" stroke-linecap="round" fill="none" opacity="0.28"/>
<text x="187.00" y="275.20" font-size="9" text-anchor="end" font-weight="normal" fill="#141414">19</text>
<rect x="33.60" y="316.60" width="43.90" height="40.20" fill="none" stroke="#9a9a9a" stroke-width="0.8"/>
<line x1="33.60" y1="316.60" x2="33.60" y2="356.80" stroke="#555" stroke-width="1.0"/>
<line x1="33.60" y1="356.80" x2="77.50" y2="356.80" stroke="#555" stroke-width="1.0"/>
<line x1="32.20" y1="317.10" x2="33.60" y2="317.10" stroke="#555" stroke-width="0.7"/>
<path d="M29.60 316.50h1.7v2.0" fill="none" stroke="#444" stroke-width="0.9"/>
<line x1="32.20" y1="326.90" x2="33.60" y2="326.90" stroke="#555" stroke-width="0.7"/>
<path d="M29.60 326.30h1.7v2.0" fill="none" stroke="#444" stroke-width="0.9"/>
<line x1="32.20" y1="336.70" x2="33.60" y2="336.70" stroke="#555" stroke-width="0.7"/>
<path d="M29.60 336.10h1.7v2.0" fill="none" stroke="#444" stroke-width="0.9"/>
<line x1="32.20" y1="346.50" x2="33.60" y2="346.50" stroke="#555" stroke-width="0.7"/>
<path d="M29.60 345.90h1.7v2.0" fill="none" stroke="#444" stroke-width="0.9"/>
<line x1="32.20" y1="356.30" x2="33.60" y2="356.30" stroke="#555" stroke-width="0.7"/>
<path d="M29.60 355.70h1.7v2.0" fill="none" stroke="#444" stroke-width="0.9"/>
<line x1="34.10" y1="356.80" x2="34.10" y2="358.20" stroke="#555" stroke-width="0.7"/>
<path d="M32.70 361.00v-1.7h2.2" fill="none" stroke="#444" stroke-width="1.0"/>
<line x1="44.83" y1="356.80" x2="44.83" y2="358.20" stroke="#555" stroke-width="0.7"/>
<path d="M43.43 361.00v-1.7h2.2" fill="none" stroke="#444" stroke-width="1.0"/>
<line x1="55.55" y1="356.80" x2="55.55" y2="358.20" stroke="#555" stroke-width="0.7"/>
<path d="M54.15 361.00v-1.7h2.2" fill="none" stroke="#444" stroke-width="1.0"/>
<line x1="66.28" y1="356.80" x2="66.28" y2="358.20" stroke="#555" stroke-width="0.7"/>
<path d="M64.88 361.00v-1.7h2.2" fill="none" stroke="#444" stroke-width="1.0"/>
<line x1="77.00" y1="356.80" x2="77.00" y2="358.20" stroke="#555" stroke-width="0.7"/>
<path d="M75.60 361.00v-1.7h2.2" fill="none" stroke="#444" stroke-width="1.0"/>
<line x1="49.60" y1="316.60" x2="49.60" y2="356.80" stroke="#6f6f6f" stroke-width="0.9"/>
<line x1="33.60" y1="334.20" x2="77.50" y2="334.20" stroke="#6f6f6f" stroke-width="0.9"/>
<path d="M52.2 325.0h.01M52.3 326.5h.01M50.2 327.6h.01M55.2 324.2h.01M39.2 328.9h.01M60.8 327.9h.01M46.3 328.7h.01M40.3 327.7h.01M37.6 327.8h.01M51.4 330.6h.01M44.3 329.3h.01M54.9 324.7h.01M45.7 323.4h.01M42.2 328.3h.01M35.6 327.0h.01M51.4 330.1h.01M43.7 322.5h.01M41.4 328.7h.01M47.1 328.7h.01M45.5 328.7h.01M41.6 325.4h.01M46.3 323.6h.01M54.3 326.4h.01M41.6 325.6h.01M41.7 327.7h.01M45.1 329.1h.01M40.6 327.3h.01M38.6 326.6h.01M55.0 326.7h.01M52.3 326.9h.01M41.0 325.6h.01M40.8 328.2h.01M48.6 333.3h.01M56.8 328.6h.01M41.6 327.7h.01M42.0 332.3h.01M43.1 329.8h.01M39.5 329.1h.01M40.2 326.5h.01M48.2 327.5h.01M46.9 327.1h.01M42.3 327.2h.01M46.8 325.3h.01M50.5 327.5h.01M42.9 330.1h.01M43.9 323.3h.01M54.5 326.2h.01M55.6 327.8h.01M42.1 329.8h.01M49.8 329.1h.01M47.4 330.5h.01M52.5 326.3h.01M38.6 327.4h.01M47.6 325.1h.01M46.1 330.4h.01M44.5 329.7h.01M41.8 325.4h.01M52.6 326.7h.01M48.5 329.3h.01M56.5 324.3h.01M50.5 327.6h.01M48.0 331.0h.01M45.8 326.0h.01M50.1 322.8h.01M49.3 325.3h.01M49.1 325.6h.01M50.1 326.6h.01M43.1 328.5h.01M51.5 323.7h.01M39.8 326.9h.01M45.0 330.1h.01M56.3 327.9h.01M53.5 326.3h.01M39.3 328.1h.01M37.1 331.0h.01M48.7 329.6h.01M43.5 324.0h.01M46.0 328.3h.01M45.9 326.2h.01M47.6 326.8h.01M55.2 324.2h.01M34.5 327.5h.01M48.7 323.9h.01M46.9 328.2h.01M49.1 327.8h.01M42.9 324.3h.01M52.7 326.3h.01M39.3 330.8h.01M51.4 321.1h.01M62.0 327.0h.01M37.9 329.6h.01M49.1 329.8h.01M47.2 323.7h.01M46.2 326.3h.01M48.8 326.8h.01M50.4 324.5h.01M44.0 326.2h.01M49.5 323.5h.01M47.2 332.2h.01M36.8 329.8h.01M47.7 329.3h.01M47.5 327.7h.01M49.3 328.1h.01M40.3 327.2h.01M57.6 329.8h.01M42.3 325.4h.01M46.2 329.5h.01M52.4 325.8h.01M37.6 330.1h.01M55.7 328.3h.01M50.6 328.3h.01M57.7 329.1h.01M55.5 324.5h.01M44.2 327.3h.01M47.0 327.1h.01M61.7 326.2h.01M46.0 327.0h.01M45.2 324.3h.01M53.6 327.0h.01M49.2 327.2h.01M42.7 324.0h.01M45.5 328.4h.01M46.5 328.8h.01M42.6 326.8h.01M48.0 327.0h.01M48.2 330.2h.01M44.7 327.6h.01M43.4 328.5h.01M48.4 325.6h.01M41.3 324.9h.01M45.5 327.6h.01M44.3 327.1h.01M47.9 332.1h.01M53.9 331.9h.01M47.9 327.6h.01M58.4 327.6h.01M50.9 326.0h.01M44.0 329.0h.01M43.7 325.9h.01M38.6 328.1h.01M46.6 328.4h.01M42.1 324.8h.01M53.5 327.0h.01M51.7 324.6h.01M39.7 322.1h.01M48.9 329.2h.01M54.8 330.7h.01M36.6 325.3h.01M44.1 325.6h.01M45.9 325.6h.01M38.7 327.4h.01M47.8 325.6h.01M47.3 324.5h.01M45.2 326.6h.01M44.5 327.1h.01M39.8 324.6h.01M42.3 328.9h.01M41.6 325.4h.01M58.5 326.2h.01M44.9 325.4h.01M55.6 328.0h.01M48.6 330.5h.01M40.2 323.9h.01M53.5 327.9h.01M44.2 329.0h.01M46.6 331.4h.01M39.8 328.2h.01M52.8 328.9h.01M45.0 326.4h.01M44.6 328.8h.01M44.8 327.0h.01M53.0 326.8h.01M48.5 326.9h.01M47.2 322.5h.01M41.7 328.2h.01M43.4 326.0h.01M47.4 332.0h.01M42.7 325.3h.01M36.8 328.6h.01M46.8 325.4h.01M44.7 329.4h.01M53.0 327.8h.01M53.8 329.1h.01M44.5 329.0h.01M48.0 328.8h.01M48.7 331.7h.01M39.9 328.2h.01M40.9 332.3h.01M44.1 326.5h.01M47.0 327.1h.01M57.0 326.7h.01M48.5 329.4h.01M55.8 324.8h.01M48.9 324.3h.01M49.9 330.1h.01M44.1 326.7h.01M54.0 327.9h.01M51.7 326.1h.01M45.3 326.5h.01M56.1 323.7h.01M44.1 330.6h.01M46.7 324.9h.01M48.5 326.7h.01M46.4 328.3h.01M51.7 323.9h.01M48.3 330.3h.01M39.4 327.3h.01M40.4 328.9h.01M42.2 326.7h.01M44.7 328.3h.01M39.5 324.5h.01M48.2 330.1h.01M44.2 328.2h.01M48.6 327.4h.01M47.0 326.0h.01M45.7 329.8h.01M49.7 329.8h.01M42.9 327.6h.01M43.4 324.5h.01M52.3 326.4h.01M48.5 324.1h.01M45.6 327.0h.01M44.8 329.4h.01M49.7 327.4h.01M48.4 326.2h.01M43.0 326.8h.01M41.2 327.1h.01M46.4 329.6h.01M44.6 332.5h.01M44.1 327.6h.01M46.9 325.9h.01M46.7 323.4h.01M53.5 325.7h.01M46.9 323.3h.01M50.3 324.3h.01M54.9 324.7h.01M42.8 328.8h.01M54.4 322.7h.01M37.3 331.0h.01M49.6 323.9h.01M44.6 328.8h.01M44.8 330.5h.01M43.0 327.7h.01M53.7 330.1h.01M48.4 328.4h.01M45.1 327.1h.01M43.8 328.2h.01M51.9 324.9h.01M40.4 327.5h.01M58.6 327.3h.01M47.8 327.1h.01M37.4 326.0h.01M55.7 322.4h.01M57.4 324.2h.01M58.8 332.4h.01M55.7 326.6h.01M50.5 325.9h.01" stroke="#333" stroke-width="0.8" stroke-linecap="round" fill="none" opacity="0.2"/>
<path d="M44.7 326.4h.01M35.1 327.0h.01M45.2 325.2h.01M45.3 326.9h.01M43.5 326.6h.01M41.5 326.4h.01M42.2 327.1h.01M42.6 326.9h.01M39.2 326.6h.01M50.2 325.3h.01M46.5 325.4h.01M48.0 326.9h.01M50.3 327.4h.01M50.9 325.4h.01M46.7 326.7h.01M46.9 324.9h.01M53.4 328.5h.01M46.5 323.6h.01M52.7 325.8h.01M54.3 325.0h.01M48.1 326.9h.01M41.2 326.0h.01M48.0 326.8h.01M47.6 323.6h.01M37.8 326.8h.01M51.9 324.5h.01M47.7 327.1h.01M42.8 324.7h.01M47.2 325.7h.01M45.9 326.0h.01M45.8 326.5h.01M44.4 326.2h.01M44.3 325.4h.01M47.5 325.3h.01M48.2 326.1h.01M50.1 326.7h.01M39.2 326.4h.01M48.6 326.2h.01M46.4 327.3h.01M48.7 324.8h.01M46.6 327.2h.01M46.8 324.9h.01M49.0 326.7h.01M50.3 326.3h.01M46.7 327.0h.01M42.4 328.0h.01M47.7 326.4h.01M48.9 326.9h.01M38.4 327.3h.01M45.9 325.4h.01M49.5 327.0h.01M47.6 325.5h.01M46.6 325.2h.01M55.2 325.3h.01M49.4 327.7h.01M43.2 325.8h.01M38.3 326.2h.01M41.6 326.5h.01M45.5 326.2h.01M46.4 325.7h.01M46.7 326.1h.01M43.7 326.0h.01M44.2 325.0h.01M46.2 324.4h.01M48.1 326.1h.01M46.8 327.3h.01M49.6 325.7h.01M47.5 327.3h.01M45.7 326.6h.01M47.7 325.1h.01M47.3 325.8h.01M45.3 326.6h.01M48.6 325.2h.01M45.4 326.0h.01M42.9 326.7h.01M45.5 325.5h.01M49.6 326.0h.01M42.1 326.2h.01M45.6 326.5h.01M54.2 326.5h.01M51.4 325.9h.01M47.9 326.6h.01M45.9 326.4h.01M44.7 326.9h.01M43.0 328.0h.01M45.8 326.6h.01M46.8 324.6h.01M47.8 325.3h.01M47.0 325.8h.01M45.3 324.7h.01M41.6 325.8h.01M42.5 326.5h.01M41.3 326.5h.01M48.2 325.4h.01M42.9 325.9h.01M49.0 327.5h.01M53.9 326.1h.01M48.4 326.3h.01M46.2 325.1h.01M45.0 327.3h.01M51.1 325.5h.01M40.5 328.2h.01M46.4 326.6h.01M45.6 324.4h.01M47.4 325.2h.01M45.2 325.6h.01M45.3 328.6h.01M51.6 324.1h.01M40.8 325.8h.01M43.9 327.0h.01M51.8 325.3h.01M48.3 325.9h.01M39.2 327.5h.01M52.4 325.2h.01M48.5 325.6h.01M45.9 325.8h.01M45.8 326.3h.01M44.1 326.5h.01M41.7 327.1h.01M42.9 324.5h.01M49.2 325.8h.01M44.4 327.1h.01M46.1 328.1h.01M47.8 324.7h.01M44.5 325.6h.01M45.2 327.9h.01M55.9 327.6h.01M47.9 326.7h.01M46.8 324.0h.01M51.2 328.0h.01M44.4 326.2h.01M43.7 326.1h.01M43.2 325.2h.01M50.5 324.2h.01M49.9 325.0h.01M45.3 324.2h.01M48.6 325.1h.01M55.1 325.0h.01M47.1 326.8h.01M42.8 325.5h.01M42.5 326.9h.01M47.3 327.2h.01M41.2 325.4h.01M45.8 325.8h.01M47.4 327.3h.01M46.7 325.4h.01M46.1 325.5h.01M43.9 328.1h.01M48.7 327.9h.01M45.5 326.2h.01M41.8 326.6h.01M48.8 326.8h.01M42.1 326.4h.01M49.5 325.6h.01M48.7 325.6h.01M46.2 325.6h.01M41.0 325.5h.01M46.9 325.9h.01M46.2 325.6h.01M49.4 325.9h.01M47.6 325.7h.01M50.9 326.0h.01M47.8 328.3h.01M47.8 324.6h.01M43.9 326.6h.01M41.6 324.9h.01M45.8 324.7h.01M50.1 326.5h.01M45.1 327.4h.01M43.8 325.1h.01M49.5 326.1h.01M45.5 327.2h.01M45.8 326.8h.01M47.0 327.3h.01M48.2 325.7h.01M51.6 325.7h.01M52.4 324.8h.01M46.5 324.0h.01M48.1 327.5h.01M44.9 326.7h.01M45.5 327.6h.01M47.5 326.5h.01M50.2 324.6h.01M48.7 326.3h.01M50.9 326.1h.01M48.4 326.1h.01M42.8 325.8h.01M45.6 324.9h.01M46.1 325.7h.01M52.7 325.8h.01M46.7 326.3h.01M48.7 324.5h.01M40.1 327.9h.01M43.3 325.4h.01M50.4 326.4h.01M43.4 327.0h.01M42.3 327.9h.01M45.2 326.6h.01M46.2 328.1h.01M42.9 326.2h.01M53.9 324.0h.01M44.5 326.5h.01M45.5 326.7h.01M50.4 325.0h.01M44.0 327.6h.01M53.2 323.4h.01M48.2 327.1h.01M43.9 325.4h.01M42.3 326.1h.01M42.2 327.0h.01M43.8 326.8h.01M40.7 327.2h.01M48.7 327.1h.01M47.2 328.4h.01M49.7 326.2h.01M52.0 325.7h.01M46.8 327.8h.01M44.7 326.2h.01M47.2 326.4h.01M45.5 327.2h.01M53.9 325.6h.01M41.1 325.9h.01M41.4 325.1h.01M42.6 327.3h.01M46.8 326.9h.01M45.9 327.2h.01M44.9 327.5h.01M49.4 326.3h.01M41.1 325.3h.01M47.2 325.1h.01M45.7 326.1h.01M51.2 325.4h.01M46.8 325.7h.01M43.6 326.7h.01M49.7 324.7h.01M51.6 328.3h.01M46.8 326.7h.01M42.6 325.9h.01M47.4 326.1h.01M51.2 325.2h.01M45.4 326.7h.01M46.0 326.0h.01M45.9 326.6h.01M39.5 328.9h.01M48.9 325.1h.01M43.1 325.2h.01M47.8 324.3h.01M55.0 325.4h.01M41.3 328.4h.01M46.3 326.7h.01M45.6 326.0h.01M53.6 324.1h.01M47.2 325.4h.01M45.1 326.2h.01M39.8 327.0h.01M47.0 326.7h.01M44.2 327.0h.01M44.7 327.0h.01M51.1 326.7h.01M41.2 326.4h.01M42.7 328.2h.01M47.0 324.9h.01M40.9 327.6h.01M42.8 326.7h.01M45.1 326.1h.01M44.8 326.3h.01M52.0 325.2h.01M48.1 326.6h.01M43.9 325.2h.01M43.2 326.9h.01M46.9 327.2h.01M47.6 326.3h.01M46.4 326.4h.01M46.5 326.9h.01M43.3 327.3h.01M52.1 326.0h.01M48.3 325.0h.01M46.7 324.8h.01M49.8 326.2h.01M50.1 327.2h.01M43.7 327.1h.01M51.8 328.2h.01M45.9 326.7h.01M44.1 326.9h.01M48.4 327.6h.01M45.8 326.3h.01M48.1 326.0h.01M53.6 323.8h.01M40.3 325.9h.01M48.8 326.2h.01M47.8 324.7h.01M48.4 326.7h.01M52.1 326.9h.01M44.1 325.5h.01M42.3 325.8h.01M46.0 327.4h.01M52.2 326.1h.01M48.4 326.0h.01M41.7 326.8h.01" stroke="#1a1a1a" stroke-width="0.84" stroke-linecap="round" fill="none" opacity="0.4"/>
<path d="M44.8 325.2h.01M44.6 327.2h.01M44.0 327.1h.01M43.6 326.2h.01M47.3 325.9h.01M44.4 326.3h.01M49.7 326.5h.01M46.7 326.6h.01M48.7 327.0h.01M45.8 325.7h.01M44.3 326.3h.01M45.7 326.2h.01M45.1 327.8h.01M44.9 327.2h.01M44.6 325.8h.01M44.0 325.6h.01M43.0 325.8h.01M45.8 326.7h.01M42.7 326.6h.01M46.1 326.2h.01M42.0 326.6h.01M47.7 326.9h.01M45.7 327.0h.01M46.5 325.6h.01M47.4 326.8h.01M46.8 326.2h.01M45.8 326.6h.01M42.7 326.5h.01M43.7 326.0h.01M46.7 327.0h.01M46.3 325.6h.01M51.8 326.2h.01M40.8 326.3h.01M44.8 325.9h.01M48.4 327.5h.01M46.5 325.3h.01M48.1 326.2h.01M45.5 326.4h.01M44.0 326.4h.01M47.0 326.9h.01M50.4 325.7h.01M47.1 325.7h.01M46.6 326.9h.01M47.6 326.0h.01M50.0 326.7h.01M48.8 326.2h.01M49.0 326.0h.01M48.1 326.2h.01M46.3 325.2h.01M48.3 326.5h.01M45.0 326.3h.01M47.5 326.6h.01M42.1 327.3h.01M44.2 327.5h.01M48.6 326.2h.01M46.7 326.4h.01M45.5 327.2h.01M44.9 325.9h.01M45.8 325.2h.01M48.4 325.4h.01M49.4 326.7h.01M50.4 325.7h.01M45.7 325.9h.01M47.9 325.6h.01M45.7 324.8h.01M46.4 326.3h.01M50.4 325.5h.01M48.3 326.5h.01M48.1 325.4h.01M39.2 326.1h.01M48.3 326.3h.01M49.3 327.5h.01M44.9 326.0h.01M49.5 325.0h.01M41.2 326.5h.01M47.0 327.1h.01M47.8 326.1h.01M45.1 325.1h.01M47.4 325.8h.01M45.5 326.4h.01M42.1 326.3h.01M45.0 327.5h.01M46.1 326.9h.01M44.3 325.3h.01M48.1 325.9h.01M43.6 327.0h.01M47.4 325.1h.01M45.8 327.5h.01M46.5 325.3h.01M44.6 327.1h.01M49.4 326.6h.01M43.2 326.8h.01M44.6 325.9h.01M45.3 326.9h.01M47.4 326.5h.01M45.4 325.9h.01M48.5 325.7h.01M45.7 326.6h.01M46.0 326.9h.01M47.5 326.6h.01M51.1 325.7h.01M50.7 325.2h.01M44.7 324.6h.01M44.9 325.7h.01M47.8 327.0h.01M51.1 325.7h.01M48.5 326.0h.01M42.5 323.6h.01M45.6 325.0h.01M48.1 325.5h.01M47.7 325.7h.01M47.3 325.6h.01M47.2 327.4h.01M47.1 325.3h.01M44.7 326.3h.01M48.0 325.3h.01M44.4 325.2h.01M50.0 326.3h.01M47.0 325.9h.01M50.3 326.5h.01M46.1 327.0h.01M47.5 326.0h.01M45.6 326.2h.01M49.2 325.2h.01M42.9 326.8h.01M48.5 327.1h.01M47.5 325.2h.01M48.0 326.3h.01M44.2 325.2h.01M43.1 326.3h.01M43.6 326.5h.01M46.0 326.6h.01M48.1 325.5h.01M45.5 326.7h.01M45.0 326.9h.01M47.6 326.8h.01M45.1 326.8h.01M45.9 326.4h.01M47.6 325.8h.01M46.2 324.6h.01M44.9 326.7h.01M44.1 324.9h.01M43.3 326.1h.01M47.7 326.5h.01M43.4 326.6h.01M43.8 327.0h.01M47.1 325.8h.01M45.3 326.2h.01M45.1 327.0h.01M47.0 325.8h.01M47.3 325.3h.01M46.6 326.0h.01M45.1 326.2h.01M46.8 325.2h.01M47.1 328.1h.01M48.0 325.8h.01M47.1 327.3h.01M44.1 327.4h.01M45.6 327.5h.01M44.6 326.9h.01M45.1 327.1h.01M48.2 326.4h.01M44.6 326.9h.01M47.1 325.5h.01M47.5 326.1h.01M46.1 325.6h.01M46.7 326.8h.01M44.6 326.8h.01M42.6 326.4h.01M46.9 325.6h.01M46.6 325.3h.01M50.1 326.3h.01M48.5 325.5h.01M41.7 326.3h.01M49.1 326.0h.01M48.7 326.4h.01M47.0 326.9h.01M45.1 326.0h.01M48.6 326.4h.01M45.2 325.5h.01" stroke="#0c0c0c" stroke-width="0.9" stroke-linecap="round" fill="none" opacity="0.6"/>
<path d="M63.8 321.9h.01M61.1 325.7h.01M50.4 326.4h.01M58.9 328.7h.01M58.1 322.8h.01M52.1 326.8h.01M54.3 325.8h.01M56.2 327.7h.01M58.2 325.7h.01M53.6 327.1h.01M53.3 326.4h.01M58.6 326.8h.01M60.4 326.2h.01M66.1 326.9h.01M53.0 324.8h.01M53.3 327.5h.01M51.4 327.8h.01M58.7 325.2h.01M51.9 325.8h.01M60.2 325.8h.01M60.1 326.1h.01M63.1 325.3h.01M56.0 324.5h.01M55.1 324.7h.01M49.4 325.6h.01M59.9 323.2h.01M50.6 324.2h.01M58.4 326.6h.01M58.2 325.7h.01M53.0 326.1h.01M52.5 325.6h.01M58.5 325.6h.01M62.3 323.2h.01M49.1 327.1h.01M54.0 325.3h.01M54.0 325.8h.01M55.9 326.3h.01M61.0 328.2h.01M46.6 325.8h.01M52.4 326.2h.01M51.9 326.0h.01M57.9 325.8h.01M57.7 326.7h.01M51.6 325.8h.01M61.6 327.0h.01M61.2 324.9h.01M53.5 327.1h.01M56.6 326.3h.01M55.0 327.0h.01M57.4 324.7h.01M58.4 325.5h.01M55.4 326.6h.01M57.3 325.2h.01M51.1 325.4h.01M56.0 324.4h.01" stroke="#555" stroke-width="0.76" stroke-linecap="round" fill="none" opacity="0.28"/>
<text x="75.90" y="328.80" font-size="9" text-anchor="end" font-weight="normal" fill="#141414">28</text>
<rect x="89.40" y="316.60" width="43.30" height="40.20" fill="none" stroke="#9a9a9a" stroke-width="0.8"/>
<line x1="89.40" y1="316.60" x2="89.40" y2="356.80" stroke="#555" stroke-width="1.0"/>
<line x1="89.40" y1="356.80" x2="132.70" y2="356.80" stroke="#555" stroke-width="1.0"/>
<line x1="88.00" y1="317.10" x2="89.40" y2="317.10" stroke="#555" stroke-width="0.7"/>
<path d="M85.40 316.50h1.7v2.0" fill="none" stroke="#444" stroke-width="0.9"/>
<line x1="88.00" y1="326.90" x2="89.40" y2="326.90" stroke="#555" stroke-width="0.7"/>
<path d="M85.40 326.30h1.7v2.0" fill="none" stroke="#444" stroke-width="0.9"/>
<line x1="88.00" y1="336.70" x2="89.40" y2="336.70" stroke="#555" stroke-width="0.7"/>
<path d="M85.40 336.10h1.7v2.0" fill="none" stroke="#444" stroke-width="0.9"/>
<line x1="88.00" y1="346.50" x2="89.40" y2="346.50" stroke="#555" stroke-width="0.7"/>
<path d="M85.40 345.90h1.7v2.0" fill="none" stroke="#444" stroke-width="0.9"/>
<line x1="88.00" y1="356.30" x2="89.40" y2="356.30" stroke="#555" stroke-width="0.7"/>
<path d="M85.40 355.70h1.7v2.0" fill="none" stroke="#444" stroke-width="0.9"/>
<line x1="89.90" y1="356.80" x2="89.90" y2="358.20" stroke="#555" stroke-width="0.7"/>
<path d="M88.50 361.00v-1.7h2.2" fill="none" stroke="#444" stroke-width="1.0"/>
<line x1="100.47" y1="356.80" x2="100.47" y2="358.20" stroke="#555" stroke-width="0.7"/>
<path d="M99.07 361.00v-1.7h2.2" fill="none" stroke="#444" stroke-width="1.0"/>
<line x1="111.05" y1="356.80" x2="111.05" y2="358.20" stroke="#555" stroke-width="0.7"/>
<path d="M109.65 361.00v-1.7h2.2" fill="none" stroke="#444" stroke-width="1.0"/>
<line x1="121.62" y1="356.80" x2="121.62" y2="358.20" stroke="#555" stroke-width="0.7"/>
<path d="M120.22 361.00v-1.7h2.2" fill="none" stroke="#444" stroke-width="1.0"/>
<line x1="132.20" y1="356.80" x2="132.20" y2="358.20" stroke="#555" stroke-width="0.7"/>
<path d="M130.80 361.00v-1.7h2.2" fill="none" stroke="#444" stroke-width="1.0"/>
<line x1="104.50" y1="316.60" x2="104.50" y2="356.80" stroke="#6f6f6f" stroke-width="0.9"/>
<line x1="89.40" y1="334.20" x2="132.70" y2="334.20" stroke="#6f6f6f" stroke-width="0.9"/>
<path d="M101.5 332.5h.01M101.4 327.5h.01M98.1 326.7h.01M106.4 327.5h.01M95.5 327.6h.01M99.5 329.8h.01M104.5 330.7h.01M107.1 324.5h.01M110.4 325.9h.01M104.4 327.4h.01M97.7 330.1h.01M105.9 324.9h.01M97.3 328.5h.01M111.9 327.8h.01M106.8 326.2h.01M111.2 328.2h.01M100.5 326.0h.01M92.8 330.2h.01M121.9 326.3h.01M107.5 328.8h.01M103.8 332.0h.01M99.3 325.5h.01M114.1 328.9h.01M109.3 326.8h.01M104.8 327.5h.01M107.4 325.8h.01M110.9 330.9h.01M102.0 325.2h.01M105.7 332.6h.01M99.6 330.4h.01M101.2 325.7h.01M111.1 326.6h.01M104.8 328.8h.01M111.4 327.5h.01M113.8 325.4h.01M102.1 328.8h.01M108.7 323.2h.01M103.3 328.8h.01M104.1 331.2h.01M96.1 328.0h.01M100.3 323.9h.01M103.7 327.1h.01M102.7 325.9h.01M109.9 324.7h.01M101.5 324.2h.01M111.6 323.7h.01M114.7 324.8h.01M104.7 330.8h.01M99.0 330.4h.01M97.7 326.5h.01M108.2 327.9h.01M106.9 327.8h.01M113.9 323.3h.01M101.1 329.3h.01M96.7 326.0h.01M118.8 329.7h.01M107.9 327.3h.01M104.1 325.3h.01M100.1 325.2h.01M97.8 327.8h.01M107.4 325.1h.01M105.8 324.3h.01M107.1 326.4h.01M104.6 327.7h.01M112.4 327.4h.01M101.3 327.7h.01M107.2 328.3h.01M111.0 325.2h.01M98.3 328.9h.01M98.6 328.5h.01M120.4 329.4h.01M96.7 325.7h.01M107.2 326.5h.01M109.0 327.6h.01M106.9 328.4h.01M96.2 330.1h.01M97.0 325.6h.01M91.3 327.7h.01M107.3 326.3h.01M98.2 322.7h.01M108.2 324.6h.01M102.9 327.8h.01M104.6 328.2h.01M114.4 328.5h.01M99.3 327.4h.01M103.7 325.4h.01M108.7 326.2h.01M106.4 328.6h.01M116.9 325.5h.01M109.1 331.9h.01M114.1 327.6h.01M100.8 327.8h.01M101.5 326.4h.01M95.2 327.0h.01M93.6 329.9h.01M108.0 326.2h.01M105.2 327.5h.01M103.6 327.9h.01M104.0 328.3h.01M100.4 327.6h.01M114.6 325.1h.01M100.4 329.5h.01M106.8 327.5h.01M106.1 326.3h.01M102.0 328.5h.01M106.0 328.6h.01M107.6 332.1h.01M105.5 330.3h.01M105.9 332.2h.01M110.6 325.4h.01M114.1 325.7h.01M110.8 325.4h.01M107.1 327.5h.01M113.2 322.2h.01M94.1 329.8h.01M109.3 326.0h.01M105.6 323.4h.01M102.9 325.9h.01M110.1 327.6h.01M104.1 329.9h.01M101.3 329.1h.01M103.7 328.3h.01M103.4 330.4h.01M102.6 331.8h.01M109.6 325.3h.01M102.5 330.3h.01M113.5 324.3h.01M106.0 328.6h.01M118.7 328.3h.01M103.9 329.4h.01M105.5 325.4h.01M104.8 326.8h.01M103.8 327.5h.01M107.1 325.5h.01M108.9 323.7h.01M108.9 328.2h.01M107.5 323.9h.01M102.2 327.9h.01M107.7 328.9h.01M96.3 327.7h.01M111.3 324.5h.01M98.1 326.5h.01M103.5 326.8h.01M112.2 327.7h.01M94.1 329.5h.01M105.6 329.2h.01M104.9 330.4h.01M105.9 326.2h.01M98.2 329.6h.01M104.3 323.5h.01M109.9 330.0h.01M93.1 329.0h.01M108.8 331.0h.01M112.1 325.4h.01M107.7 328.9h.01M96.6 330.8h.01M107.9 329.1h.01M100.0 329.4h.01M104.8 326.7h.01M105.3 328.1h.01M96.3 327.7h.01M107.2 323.7h.01M114.8 332.7h.01M108.9 327.2h.01M99.1 325.1h.01M98.0 329.6h.01M100.0 327.9h.01M102.5 329.4h.01M112.4 329.1h.01M108.9 329.6h.01M114.9 325.1h.01M106.6 325.9h.01M105.3 326.9h.01M105.7 328.9h.01M97.6 321.9h.01M106.6 329.6h.01M102.8 330.7h.01M118.0 327.0h.01M103.8 328.5h.01M109.5 323.9h.01M107.9 322.7h.01M98.9 328.1h.01M106.9 324.7h.01M105.3 330.2h.01M95.6 329.0h.01M112.4 324.1h.01M111.9 328.1h.01M103.3 327.5h.01M104.8 327.5h.01M103.9 325.8h.01M110.3 330.9h.01M103.9 330.5h.01M100.6 324.7h.01M108.7 327.8h.01M107.7 325.2h.01M102.8 329.7h.01M114.2 327.6h.01M107.3 321.5h.01M101.3 330.4h.01M116.0 325.1h.01M90.5 329.0h.01M97.5 326.7h.01M101.6 326.7h.01M99.5 329.0h.01M106.8 324.4h.01M95.9 332.3h.01M108.3 327.7h.01M95.3 332.5h.01M99.1 327.9h.01M106.9 325.7h.01M105.7 326.3h.01M93.2 324.7h.01M101.4 326.3h.01M107.5 331.0h.01M103.6 332.3h.01M102.5 327.7h.01M103.7 323.7h.01M104.6 326.9h.01M100.2 329.2h.01M107.3 326.6h.01M99.9 328.2h.01M100.4 325.7h.01M102.1 329.6h.01M103.3 327.1h.01M103.1 328.8h.01M104.0 329.3h.01M104.1 329.3h.01M103.2 325.8h.01M107.3 326.9h.01M102.3 330.7h.01M102.1 325.8h.01M103.0 330.7h.01M97.3 330.3h.01M107.9 326.4h.01M103.0 325.9h.01M93.3 325.8h.01M96.9 324.1h.01M102.4 328.8h.01M99.5 326.9h.01M100.5 327.1h.01M107.1 330.0h.01M108.3 328.1h.01M112.7 328.7h.01M107.6 328.6h.01M109.5 325.0h.01M99.8 327.8h.01M94.7 327.2h.01M102.9 328.2h.01M108.8 330.2h.01M91.3 328.4h.01M106.7 330.5h.01M101.2 328.5h.01M103.9 325.4h.01M106.2 329.5h.01M102.8 327.7h.01M111.0 326.8h.01M103.0 328.1h.01M107.3 328.2h.01M111.8 328.1h.01M97.9 324.1h.01" stroke="#333" stroke-width="0.8" stroke-linecap="round" fill="none" opacity="0.2"/>
<path d="M103.7 328.0h.01M104.2 325.9h.01M105.0 326.8h.01M108.4 324.9h.01M106.7 326.4h.01M106.9 327.3h.01M96.2 327.4h.01M105.8 325.5h.01M103.6 327.4h.01M98.7 327.3h.01M106.8 328.0h.01M101.1 325.8h.01M107.6 325.9h.01M105.5 323.6h.01M112.4 324.2h.01M98.2 327.0h.01M105.8 325.4h.01M96.2 327.1h.01M104.8 325.4h.01M104.5 325.7h.01M100.4 327.1h.01M104.0 326.3h.01M99.6 325.7h.01M103.0 325.7h.01M105.2 326.3h.01M103.2 326.2h.01M105.4 327.3h.01M100.2 327.4h.01M107.2 327.0h.01M102.0 326.6h.01M111.4 324.8h.01M106.9 326.0h.01M109.9 326.3h.01M107.0 325.6h.01M102.2 328.0h.01M99.5 325.9h.01M103.1 325.1h.01M106.2 325.0h.01M104.2 326.1h.01M96.2 326.7h.01M98.5 326.5h.01M95.8 326.0h.01M106.9 326.5h.01M107.9 327.8h.01M106.6 326.0h.01M103.6 326.9h.01M99.6 325.4h.01M104.0 328.1h.01M100.1 326.7h.01M101.5 327.1h.01M105.2 326.2h.01M107.2 326.0h.01M98.1 328.6h.01M103.6 326.6h.01M106.8 325.4h.01M102.3 325.6h.01M106.0 326.7h.01M104.7 325.0h.01M101.1 324.9h.01M99.2 325.7h.01M105.0 326.8h.01M97.6 327.1h.01M105.3 327.9h.01M107.0 324.7h.01M105.7 326.5h.01M105.1 325.5h.01M109.0 326.3h.01M101.9 324.5h.01M103.1 324.9h.01M98.8 328.1h.01M103.8 327.3h.01M107.9 326.9h.01M102.5 325.1h.01M103.4 326.4h.01M103.5 326.0h.01M104.5 324.8h.01M107.7 325.0h.01M104.4 325.4h.01M108.8 325.6h.01M100.7 326.0h.01M107.1 324.9h.01M99.4 325.9h.01M106.7 323.2h.01M107.3 328.5h.01M103.4 327.3h.01M103.5 324.4h.01M102.5 327.0h.01M100.0 326.1h.01M101.6 326.8h.01M112.8 326.1h.01M99.4 328.1h.01M103.0 325.9h.01M105.8 327.0h.01M104.8 326.6h.01M104.6 325.0h.01M106.8 327.1h.01M101.2 324.6h.01M101.9 326.5h.01M109.0 326.4h.01M92.4 326.0h.01M104.2 326.5h.01M98.6 326.1h.01M104.5 327.0h.01M106.9 327.9h.01M101.6 325.9h.01M102.4 326.8h.01M111.1 326.3h.01M104.6 325.3h.01M99.4 328.2h.01M103.7 327.8h.01M106.9 325.7h.01M104.9 325.3h.01M106.2 326.1h.01M106.8 327.5h.01M101.9 327.2h.01M105.6 325.7h.01M105.0 327.5h.01M104.6 327.3h.01M105.2 327.6h.01M103.5 326.0h.01M106.3 323.9h.01M102.2 327.9h.01M101.4 328.3h.01M109.8 325.6h.01M101.3 326.8h.01M107.3 328.0h.01M109.5 325.4h.01M107.1 325.7h.01M107.9 326.7h.01M109.2 326.1h.01M107.0 324.9h.01M100.6 326.9h.01M104.4 327.2h.01M112.3 325.4h.01M99.8 325.3h.01M101.8 327.5h.01M105.4 325.9h.01M106.5 326.0h.01M105.0 326.2h.01M99.2 327.3h.01M104.7 328.6h.01M104.4 325.7h.01M104.7 325.5h.01M103.9 325.9h.01M105.3 325.3h.01M103.7 325.9h.01M100.5 326.3h.01M106.6 327.0h.01M105.2 326.1h.01M107.5 325.9h.01M106.5 324.4h.01M99.7 325.6h.01M108.1 325.9h.01M105.7 325.1h.01M98.6 329.3h.01M110.0 327.9h.01M104.1 325.6h.01M105.0 326.0h.01M102.4 323.7h.01M104.9 324.0h.01M102.2 324.7h.01M111.3 324.7h.01M102.7 326.7h.01M102.9 326.6h.01M107.4 325.5h.01M106.0 326.1h.01M99.3 326.7h.01M100.2 327.4h.01M104.1 326.4h.01M107.7 325.3h.01M101.2 327.8h.01M106.7 326.6h.01M96.9 326.5h.01M100.7 325.7h.01M98.2 324.7h.01M102.5 326.7h.01M102.3 326.1h.01M104.4 327.7h.01M102.0 326.5h.01M114.1 326.0h.01M107.1 324.9h.01M100.3 325.9h.01M115.3 325.3h.01M109.3 325.6h.01M99.6 324.4h.01M104.7 327.3h.01M101.2 325.9h.01M100.1 325.6h.01M107.9 325.6h.01M100.3 327.0h.01M105.1 326.2h.01M111.7 326.4h.01M108.4 324.8h.01M103.9 327.6h.01M106.9 327.1h.01M98.7 326.1h.01M110.3 327.6h.01M92.8 324.6h.01M109.2 326.9h.01M109.1 323.2h.01M104.5 327.1h.01M108.7 325.1h.01M108.1 327.0h.01M102.2 328.0h.01M108.9 327.1h.01M102.4 326.6h.01M104.1 328.0h.01M113.3 325.1h.01M111.6 326.5h.01M101.6 325.6h.01M109.9 326.4h.01M101.7 326.1h.01M102.7 326.2h.01M110.9 325.4h.01M103.0 323.1h.01M106.1 327.2h.01M111.9 325.4h.01M103.1 325.9h.01M99.5 326.4h.01M101.2 326.1h.01M104.8 327.0h.01M104.4 328.7h.01M105.4 326.8h.01M106.1 326.1h.01M107.8 326.3h.01M99.1 325.8h.01M109.8 324.4h.01M110.8 326.2h.01M105.2 327.5h.01M105.0 325.7h.01M95.9 325.8h.01M99.8 327.1h.01M104.6 325.2h.01M108.6 327.0h.01M112.6 326.3h.01M99.5 326.5h.01M107.1 327.1h.01M99.2 326.9h.01M106.7 326.6h.01M98.0 325.9h.01M103.7 326.0h.01M107.7 325.7h.01M97.2 324.2h.01M106.0 325.3h.01M104.0 327.4h.01M102.2 326.3h.01M98.7 325.1h.01M106.4 327.4h.01M101.7 326.1h.01M105.4 325.7h.01M104.5 325.8h.01M106.5 325.6h.01M102.4 324.9h.01M101.3 324.8h.01M103.7 327.3h.01M99.3 325.5h.01M101.3 326.8h.01M103.0 325.9h.01M100.6 326.0h.01M102.9 325.4h.01M109.6 326.6h.01M103.6 326.6h.01M112.9 326.6h.01M102.2 326.2h.01M108.6 326.6h.01M103.2 326.4h.01M100.0 326.0h.01M102.6 326.0h.01M109.4 326.1h.01M108.6 326.1h.01M98.5 327.6h.01M102.1 326.2h.01M108.4 327.5h.01M104.8 327.5h.01M102.3 326.9h.01M100.8 327.3h.01M102.1 326.9h.01M99.6 327.8h.01M110.4 325.8h.01M104.5 325.2h.01M103.5 324.7h.01M106.9 326.1h.01M108.6 326.1h.01M103.3 325.4h.01M106.6 326.0h.01M99.7 324.8h.01M107.8 326.0h.01M103.9 325.7h.01M102.2 326.3h.01M105.0 325.0h.01M113.6 326.9h.01M96.9 326.5h.01M108.5 325.4h.01M99.0 326.9h.01M101.9 326.3h.01M110.5 326.0h.01M109.3 325.3h.01M97.3 326.0h.01M102.7 326.9h.01M105.9 324.1h.01" stroke="#1a1a1a" stroke-width="0.84" stroke-linecap="round" fill="none" opacity="0.4"/>
<path d="M101.8 326.0h.01M102.6 325.8h.01M103.5 326.3h.01M101.0 325.7h.01M102.2 327.1h.01M103.8 325.2h.01M105.3 326.8h.01M100.7 325.5h.01M105.2 326.2h.01M105.5 327.2h.01M105.6 326.8h.01M103.2 327.2h.01M102.7 326.5h.01M99.9 326.1h.01M105.9 325.5h.01M103.2 324.8h.01M103.5 325.4h.01M104.3 325.9h.01M102.7 326.0h.01M103.3 326.2h.01M103.6 327.0h.01M106.5 324.5h.01M107.1 326.0h.01M105.0 325.6h.01M105.5 326.5h.01M103.0 325.5h.01M105.3 326.5h.01M102.3 324.8h.01M101.8 326.5h.01M106.9 325.5h.01M103.0 325.5h.01M105.0 325.7h.01M107.8 326.5h.01M103.8 325.9h.01M106.4 325.9h.01M103.4 326.3h.01M106.5 327.1h.01M103.5 325.4h.01M102.3 326.1h.01M105.6 324.4h.01M105.6 326.4h.01M104.7 325.2h.01M104.4 325.8h.01M102.2 326.7h.01M106.9 326.2h.01M105.5 326.8h.01M104.3 325.9h.01M107.4 325.7h.01M103.6 326.4h.01M103.3 325.6h.01M106.6 326.1h.01M102.8 325.9h.01M105.5 326.7h.01M104.7 326.9h.01M104.2 327.2h.01M106.2 325.4h.01M104.1 326.4h.01M104.2 325.5h.01M105.3 326.1h.01M101.1 325.4h.01M103.4 326.8h.01M104.2 326.3h.01M106.3 326.0h.01M104.3 326.1h.01M106.2 325.7h.01M105.1 325.7h.01M104.4 326.9h.01M102.6 326.6h.01M104.4 326.3h.01M105.4 326.2h.01M105.3 327.3h.01M102.8 325.5h.01M105.8 326.4h.01M108.4 325.7h.01M105.8 325.8h.01M103.3 325.8h.01M102.6 325.6h.01M103.6 326.1h.01M104.4 326.7h.01M102.4 326.2h.01M102.5 326.8h.01M102.4 326.0h.01M102.6 326.9h.01M101.8 325.5h.01M103.5 326.0h.01M102.4 327.0h.01M103.1 324.9h.01M103.9 325.3h.01M102.9 325.9h.01M102.4 326.0h.01M103.5 326.6h.01M109.5 325.6h.01M103.3 327.0h.01M107.8 326.6h.01M103.7 327.5h.01M104.5 327.0h.01M103.2 325.4h.01M107.0 325.5h.01M102.1 326.3h.01M102.4 326.7h.01M104.4 326.1h.01M103.1 327.2h.01M107.1 326.8h.01M101.6 327.4h.01M104.5 327.3h.01M105.4 325.7h.01M100.9 325.9h.01M106.8 325.8h.01M107.7 325.3h.01M105.6 326.1h.01M101.4 326.5h.01M103.5 326.0h.01M100.0 325.7h.01M102.9 326.1h.01M102.6 327.6h.01M103.4 326.4h.01M103.6 327.0h.01M105.5 326.8h.01M101.1 326.4h.01M104.0 326.6h.01M102.9 326.3h.01M102.2 326.0h.01M105.0 325.8h.01M102.5 326.2h.01M104.9 326.4h.01M101.8 326.0h.01M101.9 325.6h.01M109.2 326.8h.01M105.7 326.0h.01M106.0 327.1h.01M106.8 326.6h.01M102.2 327.8h.01M105.8 326.7h.01M105.0 326.4h.01M103.4 325.1h.01M107.9 327.8h.01M105.2 326.6h.01M104.2 326.7h.01M103.9 326.2h.01M105.5 325.0h.01M107.1 325.9h.01M105.4 326.6h.01M107.5 327.2h.01M101.6 325.7h.01M104.6 325.1h.01M105.5 326.1h.01M102.6 326.8h.01M102.3 325.8h.01M104.2 326.8h.01M103.8 326.0h.01M104.6 325.9h.01M100.4 326.9h.01M105.2 326.9h.01M104.5 326.5h.01M100.8 325.4h.01M100.2 327.1h.01M102.8 327.1h.01M105.1 325.9h.01M104.0 325.7h.01M103.3 326.4h.01M105.6 325.8h.01M100.9 327.0h.01M101.9 326.7h.01M101.0 325.7h.01M100.1 326.8h.01M105.1 328.2h.01M108.0 326.2h.01M99.9 326.2h.01M104.7 326.4h.01M104.5 325.5h.01M103.5 327.5h.01M103.0 326.0h.01M101.7 325.9h.01M106.6 326.4h.01M103.1 326.0h.01M105.8 325.8h.01M102.5 326.0h.01M98.9 327.1h.01M102.5 326.7h.01M104.1 326.9h.01" stroke="#0c0c0c" stroke-width="0.9" stroke-linecap="round" fill="none" opacity="0.6"/>
<path d="M111.7 328.9h.01M117.1 325.6h.01M115.9 323.4h.01M108.7 323.4h.01M113.0 328.5h.01M116.0 324.1h.01M106.7 326.4h.01M117.4 325.6h.01M121.5 326.2h.01M124.3 326.9h.01M124.5 322.7h.01M118.1 326.8h.01M121.7 326.6h.01M116.3 326.3h.01M115.3 326.6h.01M122.3 323.9h.01M112.1 324.1h.01M111.4 326.2h.01M115.2 326.4h.01M117.9 326.4h.01M112.7 325.8h.01M109.1 325.4h.01M113.8 326.4h.01M106.5 327.2h.01M113.9 324.0h.01M113.5 326.6h.01M114.8 325.4h.01M109.9 326.2h.01M115.1 326.3h.01M112.4 327.4h.01M105.3 325.9h.01M106.2 323.5h.01M115.2 326.9h.01M112.8 326.4h.01M113.4 327.3h.01M111.3 326.5h.01M115.9 324.0h.01M120.0 325.2h.01M108.6 325.1h.01M118.5 325.4h.01M118.1 324.8h.01M115.5 323.8h.01M112.8 327.5h.01M111.6 326.1h.01M105.3 327.9h.01M113.1 326.4h.01M112.3 324.6h.01M112.5 325.5h.01M109.1 325.7h.01M109.4 325.3h.01M100.3 324.7h.01M115.7 326.2h.01M113.0 326.4h.01M122.6 326.3h.01M114.8 325.8h.01" stroke="#555" stroke-width="0.76" stroke-linecap="round" fill="none" opacity="0.28"/>
<text x="131.10" y="328.80" font-size="9" text-anchor="end" font-weight="normal" fill="#141414">47</text>
<rect x="145.60" y="316.60" width="43.00" height="40.20" fill="none" stroke="#9a9a9a" stroke-width="0.8"/>
<line x1="145.60" y1="316.60" x2="145.60" y2="356.80" stroke="#555" stroke-width="1.0"/>
<line x1="145.60" y1="356.80" x2="188.60" y2="356.80" stroke="#555" stroke-width="1.0"/>
<line x1="144.20" y1="317.10" x2="145.60" y2="317.10" stroke="#555" stroke-width="0.7"/>
<path d="M141.60 316.50h1.7v2.0" fill="none" stroke="#444" stroke-width="0.9"/>
<line x1="144.20" y1="326.90" x2="145.60" y2="326.90" stroke="#555" stroke-width="0.7"/>
<path d="M141.60 326.30h1.7v2.0" fill="none" stroke="#444" stroke-width="0.9"/>
<line x1="144.20" y1="336.70" x2="145.60" y2="336.70" stroke="#555" stroke-width="0.7"/>
<path d="M141.60 336.10h1.7v2.0" fill="none" stroke="#444" stroke-width="0.9"/>
<line x1="144.20" y1="346.50" x2="145.60" y2="346.50" stroke="#555" stroke-width="0.7"/>
<path d="M141.60 345.90h1.7v2.0" fill="none" stroke="#444" stroke-width="0.9"/>
<line x1="144.20" y1="356.30" x2="145.60" y2="356.30" stroke="#555" stroke-width="0.7"/>
<path d="M141.60 355.70h1.7v2.0" fill="none" stroke="#444" stroke-width="0.9"/>
<line x1="146.10" y1="356.80" x2="146.10" y2="358.20" stroke="#555" stroke-width="0.7"/>
<path d="M144.70 361.00v-1.7h2.2" fill="none" stroke="#444" stroke-width="1.0"/>
<line x1="156.60" y1="356.80" x2="156.60" y2="358.20" stroke="#555" stroke-width="0.7"/>
<path d="M155.20 361.00v-1.7h2.2" fill="none" stroke="#444" stroke-width="1.0"/>
<line x1="167.10" y1="356.80" x2="167.10" y2="358.20" stroke="#555" stroke-width="0.7"/>
<path d="M165.70 361.00v-1.7h2.2" fill="none" stroke="#444" stroke-width="1.0"/>
<line x1="177.60" y1="356.80" x2="177.60" y2="358.20" stroke="#555" stroke-width="0.7"/>
<path d="M176.20 361.00v-1.7h2.2" fill="none" stroke="#444" stroke-width="1.0"/>
<line x1="188.10" y1="356.80" x2="188.10" y2="358.20" stroke="#555" stroke-width="0.7"/>
<path d="M186.70 361.00v-1.7h2.2" fill="none" stroke="#444" stroke-width="1.0"/>
<line x1="160.80" y1="316.60" x2="160.80" y2="356.80" stroke="#6f6f6f" stroke-width="0.9"/>
<line x1="145.60" y1="334.20" x2="188.60" y2="334.20" stroke="#6f6f6f" stroke-width="0.9"/>
<path d="M168.9 328.3h.01M153.8 333.3h.01M172.5 327.5h.01M163.3 327.5h.01M162.4 330.6h.01M162.9 324.4h.01M165.6 325.7h.01M168.0 327.4h.01M161.9 324.7h.01M164.9 324.8h.01M165.7 327.7h.01M164.5 327.9h.01M164.5 330.9h.01M156.4 326.4h.01M173.4 323.9h.01M170.5 326.3h.01M166.8 324.3h.01M164.4 327.2h.01M154.3 328.9h.01M164.2 323.0h.01M167.7 326.4h.01M157.9 330.7h.01M166.0 325.0h.01M161.5 328.5h.01M163.5 329.1h.01M159.4 328.7h.01M169.4 328.0h.01M162.0 325.9h.01M160.0 328.3h.01M154.6 334.5h.01M165.1 329.9h.01M164.8 330.2h.01M165.2 329.5h.01M172.5 327.1h.01M159.3 329.0h.01M167.6 326.5h.01M165.3 328.8h.01M154.6 329.9h.01M176.0 324.7h.01M173.8 325.4h.01M164.9 326.8h.01M166.5 325.7h.01M163.2 327.2h.01M161.3 327.8h.01M172.6 324.8h.01M167.8 325.6h.01M160.0 328.1h.01M165.0 329.5h.01M170.7 326.9h.01M162.9 330.5h.01M159.0 326.7h.01M170.8 327.5h.01M170.2 326.3h.01M170.8 329.1h.01M155.5 329.7h.01M172.2 324.4h.01M161.1 328.7h.01M170.2 326.7h.01M157.2 328.9h.01M166.0 326.6h.01M172.6 322.2h.01M167.2 325.9h.01M170.0 326.2h.01M176.6 326.3h.01M163.5 324.3h.01M165.1 327.3h.01M175.7 326.8h.01M167.7 325.3h.01M167.8 325.1h.01M158.5 329.2h.01M164.0 324.9h.01M173.2 328.9h.01M169.2 323.6h.01M161.8 325.9h.01M168.1 333.9h.01M171.9 326.3h.01M161.8 325.0h.01M162.4 328.1h.01M165.2 328.4h.01M169.7 324.5h.01M171.5 326.7h.01M175.9 325.8h.01M164.6 327.2h.01M173.7 327.4h.01M173.4 328.4h.01M168.6 331.7h.01M166.2 326.8h.01M173.1 324.1h.01M168.5 329.0h.01M161.5 324.1h.01M158.5 330.5h.01M181.1 323.6h.01M159.1 325.6h.01M175.8 327.6h.01M170.6 325.3h.01M170.6 325.2h.01M170.0 325.3h.01M159.4 327.2h.01M169.1 327.6h.01M163.6 329.5h.01M157.5 324.4h.01M170.2 326.4h.01M166.5 326.3h.01M169.8 327.3h.01M174.8 324.3h.01M159.5 327.9h.01M165.3 326.8h.01M154.3 329.5h.01M176.6 326.7h.01M174.0 327.5h.01M168.3 327.8h.01M173.1 327.3h.01M170.6 326.6h.01M162.5 328.5h.01M164.5 328.6h.01M153.9 332.4h.01M174.5 329.3h.01M169.1 324.8h.01M164.6 325.1h.01M169.3 326.9h.01M167.8 323.3h.01M158.2 323.9h.01M175.1 327.1h.01M167.2 326.4h.01M156.5 327.8h.01M164.5 325.8h.01M172.8 322.3h.01M167.9 328.7h.01M171.7 323.5h.01M150.6 332.1h.01M175.3 325.8h.01M165.4 328.0h.01M173.3 326.6h.01M165.0 327.9h.01M169.2 331.0h.01M167.2 325.3h.01M178.2 328.7h.01M175.7 324.1h.01M163.6 324.8h.01M166.3 329.9h.01M172.6 326.5h.01M168.4 328.0h.01M166.3 325.1h.01M163.0 331.0h.01M161.6 325.6h.01M170.5 326.0h.01M165.1 327.7h.01M166.3 323.9h.01M172.7 326.9h.01M177.3 327.6h.01M163.7 326.7h.01M163.0 323.2h.01M171.5 325.2h.01M173.0 326.8h.01M166.5 330.5h.01M161.6 331.4h.01M165.0 331.8h.01M174.1 325.2h.01M177.6 326.7h.01M169.3 326.1h.01M166.9 326.3h.01M165.2 329.0h.01M172.1 329.0h.01M174.4 326.1h.01M171.7 326.1h.01M170.7 328.0h.01M169.5 325.2h.01M160.3 331.5h.01M162.6 326.5h.01M169.6 326.1h.01M169.8 329.6h.01M158.2 328.5h.01M170.9 323.9h.01M171.7 329.6h.01M167.5 328.1h.01M165.6 329.4h.01M164.3 327.6h.01M163.4 326.2h.01M174.1 326.2h.01M172.6 323.3h.01M160.3 326.2h.01M178.6 328.1h.01M180.5 324.6h.01M170.9 327.4h.01M165.8 328.6h.01M167.2 328.1h.01M156.9 326.4h.01M161.5 331.3h.01M172.6 324.5h.01M170.3 325.6h.01M160.7 326.1h.01M185.0 325.1h.01M166.8 329.7h.01M169.0 324.7h.01M180.1 330.0h.01M172.1 324.8h.01M167.0 327.4h.01M160.8 333.3h.01M167.4 326.0h.01M165.8 326.7h.01M152.5 329.4h.01M174.3 326.7h.01M170.0 326.7h.01M157.1 329.7h.01M171.4 324.5h.01M160.7 326.8h.01M159.6 323.1h.01M165.0 326.3h.01M168.1 329.5h.01M162.0 324.7h.01M166.7 328.6h.01M175.9 328.0h.01M168.2 327.1h.01M157.2 329.9h.01M172.0 326.4h.01M165.6 328.2h.01M170.0 327.9h.01M169.8 323.8h.01M164.1 324.2h.01M172.1 331.8h.01M162.7 327.5h.01M168.8 325.5h.01M177.4 326.3h.01M180.1 330.1h.01M170.2 325.3h.01M175.1 325.6h.01M162.6 327.3h.01M174.0 324.7h.01M166.0 329.1h.01M165.7 329.2h.01M174.6 325.2h.01M160.4 325.7h.01M174.8 327.3h.01M167.8 326.3h.01M173.6 325.4h.01M183.4 325.7h.01M157.9 330.5h.01M168.9 326.9h.01M166.3 329.7h.01M164.5 330.7h.01M162.8 329.6h.01M158.5 330.2h.01M161.6 327.4h.01M171.8 325.0h.01M170.5 326.7h.01M175.0 328.0h.01M168.8 326.6h.01M162.0 330.7h.01M165.9 324.8h.01M162.6 324.0h.01M162.2 326.9h.01M168.7 328.8h.01M172.2 322.9h.01M164.5 328.7h.01M169.3 326.9h.01M162.6 329.2h.01M166.8 326.7h.01M166.6 326.8h.01M169.0 329.1h.01M167.7 325.8h.01" stroke="#333" stroke-width="0.8" stroke-linecap="round" fill="none" opacity="0.2"/>
<path d="M166.0 326.1h.01M168.3 326.7h.01M172.5 326.4h.01M160.3 326.0h.01M161.9 326.9h.01M175.0 325.8h.01M164.4 327.6h.01M168.7 325.2h.01M163.0 327.8h.01M169.2 324.0h.01M163.7 326.9h.01M161.5 326.6h.01M163.3 324.9h.01M164.6 325.9h.01M167.5 324.5h.01M167.4 325.8h.01M160.6 327.8h.01M164.8 326.7h.01M172.1 326.0h.01M169.8 326.0h.01M164.3 326.6h.01M160.7 327.2h.01M169.4 326.3h.01M164.0 325.3h.01M163.7 326.2h.01M161.2 328.4h.01M163.5 326.6h.01M164.7 326.5h.01M158.6 326.0h.01M166.3 326.1h.01M167.9 325.6h.01M169.4 326.1h.01M166.2 326.2h.01M170.3 325.8h.01M172.1 325.8h.01M167.3 326.1h.01M167.5 326.5h.01M164.1 327.1h.01M175.8 325.8h.01M166.8 325.4h.01M163.6 325.7h.01M167.4 325.5h.01M172.3 325.2h.01M163.1 325.7h.01M166.0 326.1h.01M169.8 325.2h.01M167.6 326.9h.01M165.3 324.7h.01M167.3 327.0h.01M167.8 326.0h.01M159.3 328.3h.01M165.7 325.2h.01M165.2 326.4h.01M166.6 325.3h.01M175.2 326.5h.01M170.1 326.4h.01M164.9 325.2h.01M161.7 327.6h.01M166.7 327.6h.01M158.1 328.2h.01M168.1 325.5h.01M169.6 325.3h.01M165.4 326.8h.01M167.0 326.4h.01M167.2 327.0h.01M163.3 324.6h.01M163.0 324.3h.01M173.5 324.9h.01M166.2 326.5h.01M163.5 326.0h.01M167.3 326.1h.01M169.3 325.7h.01M163.9 325.1h.01M160.2 327.0h.01M167.5 325.7h.01M170.8 323.3h.01M168.7 324.9h.01M165.1 326.1h.01M163.6 326.2h.01M167.4 328.3h.01M166.4 326.8h.01M169.4 325.0h.01M168.1 325.6h.01M169.6 325.3h.01M170.3 325.0h.01M164.6 327.1h.01M170.1 326.6h.01M173.7 326.4h.01M166.3 327.0h.01M163.3 327.2h.01M167.8 325.9h.01M163.7 327.4h.01M159.0 326.7h.01M161.2 326.4h.01M164.8 325.6h.01M164.1 326.7h.01M173.6 327.1h.01M165.7 325.9h.01M168.6 325.2h.01M160.9 327.6h.01M164.9 327.7h.01M167.6 324.7h.01M167.4 326.5h.01M166.6 324.9h.01M160.8 328.4h.01M156.1 326.3h.01M169.3 327.5h.01M168.7 325.9h.01M167.8 327.1h.01M164.4 327.5h.01M167.3 326.3h.01M168.0 326.3h.01M163.0 327.9h.01M164.6 326.1h.01M157.7 325.5h.01M168.4 325.9h.01M166.0 325.9h.01M168.6 325.4h.01M160.9 325.2h.01M163.4 326.7h.01M171.7 326.2h.01M163.9 325.2h.01M169.4 326.4h.01M166.2 326.8h.01M168.5 326.4h.01M171.3 324.3h.01M164.0 325.9h.01M162.7 328.3h.01M167.7 326.4h.01M169.3 325.7h.01M169.5 325.7h.01M169.1 326.4h.01M171.2 324.3h.01M163.0 325.8h.01M163.3 326.8h.01M169.9 325.5h.01M170.3 326.6h.01M164.2 327.0h.01M171.6 325.2h.01M158.3 327.5h.01M167.4 326.7h.01M168.3 326.0h.01M166.3 325.4h.01M173.6 326.9h.01M165.9 325.4h.01M168.0 327.5h.01M166.6 325.4h.01M169.9 326.1h.01M163.5 326.3h.01M167.0 325.1h.01M167.5 327.3h.01M170.3 327.0h.01M169.2 325.8h.01M168.7 327.1h.01M166.6 326.6h.01M164.1 326.4h.01M164.6 325.4h.01M167.9 328.1h.01M160.2 326.3h.01M167.1 325.4h.01M167.0 326.9h.01M160.5 326.7h.01M168.6 326.5h.01M173.1 325.7h.01M171.0 325.2h.01M163.1 326.0h.01M164.8 327.2h.01M169.2 325.9h.01M163.2 326.6h.01M164.9 326.0h.01M160.1 328.2h.01M168.6 328.7h.01M176.3 325.3h.01M174.6 325.0h.01M176.7 325.2h.01M159.7 326.8h.01M169.4 327.5h.01M170.0 327.5h.01M167.1 324.7h.01M167.0 325.3h.01M169.5 323.9h.01M162.9 325.5h.01M166.9 327.1h.01M165.4 325.1h.01M164.6 326.2h.01M170.7 325.9h.01M171.5 323.1h.01M173.0 327.6h.01M164.6 328.9h.01M160.8 327.6h.01M161.7 326.1h.01M168.3 326.2h.01M167.5 325.9h.01M159.7 325.3h.01M163.4 325.6h.01M164.8 324.8h.01M166.0 326.7h.01M164.6 327.6h.01M167.2 327.0h.01M163.2 326.7h.01M161.2 324.9h.01M160.0 326.4h.01M167.3 328.1h.01M167.6 325.7h.01M170.3 325.9h.01M166.5 326.3h.01M170.1 327.3h.01M161.2 326.8h.01M164.7 326.4h.01M175.2 325.2h.01M157.4 327.9h.01M164.7 325.5h.01M174.6 327.3h.01M170.2 326.1h.01M163.8 327.8h.01M165.6 326.5h.01M165.8 326.4h.01M159.2 325.8h.01M161.7 324.6h.01M162.2 326.1h.01M165.8 326.2h.01M164.9 327.3h.01M158.8 326.4h.01M165.6 325.5h.01M171.6 325.6h.01M170.5 326.3h.01M165.5 327.2h.01M161.1 325.6h.01M165.0 324.1h.01M164.9 326.2h.01M160.0 325.8h.01M161.6 328.9h.01M171.1 326.3h.01M167.3 327.4h.01M166.9 327.3h.01M169.7 327.9h.01M170.4 325.3h.01M168.7 327.0h.01M168.9 328.0h.01M167.5 325.7h.01M169.7 327.0h.01M166.4 326.7h.01M167.0 326.4h.01M167.8 325.7h.01M169.2 326.3h.01M172.9 325.9h.01M166.9 325.0h.01M174.8 325.2h.01M164.6 326.1h.01M166.5 326.1h.01M172.8 325.1h.01M165.6 325.9h.01M168.7 324.4h.01M170.2 325.5h.01M161.2 328.1h.01M161.6 327.3h.01M166.5 325.6h.01M160.3 326.1h.01M169.3 325.9h.01M164.4 327.3h.01M166.6 326.2h.01M163.3 325.2h.01M164.8 326.6h.01M164.9 326.6h.01M165.5 326.0h.01M166.3 326.5h.01M158.2 327.0h.01M165.7 325.8h.01M170.1 326.9h.01M170.7 326.5h.01M168.2 326.1h.01M169.3 325.3h.01M166.0 326.5h.01M165.9 325.1h.01M166.1 325.8h.01M164.1 327.0h.01M170.4 325.9h.01M162.2 326.4h.01M165.8 325.3h.01M164.2 326.5h.01M164.3 326.8h.01M161.6 327.2h.01M163.9 326.5h.01M166.5 325.7h.01M170.3 324.2h.01M167.2 326.7h.01M165.5 326.2h.01M162.2 326.5h.01M167.1 325.6h.01M166.5 325.8h.01M162.7 326.5h.01M163.5 327.3h.01M163.5 327.7h.01M166.4 326.1h.01M163.7 326.8h.01M162.6 325.1h.01M168.0 324.1h.01M170.7 325.3h.01M172.3 325.8h.01M172.5 324.2h.01" stroke="#1a1a1a" stroke-width="0.84" stroke-linecap="round" fill="none" opacity="0.4"/>
<path d="M165.5 326.4h.01M165.3 326.3h.01M166.1 326.6h.01M169.5 324.6h.01M167.8 325.3h.01M169.9 324.9h.01M164.7 326.7h.01M166.1 326.6h.01M167.2 325.6h.01M163.0 327.2h.01M166.0 326.2h.01M165.8 326.1h.01M164.9 326.4h.01M167.0 325.4h.01M163.1 326.9h.01M168.3 325.6h.01M166.1 325.9h.01M167.3 326.0h.01M165.3 325.8h.01M167.4 326.3h.01M165.5 326.5h.01M159.9 326.6h.01M166.8 324.9h.01M165.2 326.4h.01M169.1 326.1h.01M163.8 327.0h.01M165.9 326.7h.01M163.5 325.5h.01M163.1 326.9h.01M169.0 326.0h.01M166.8 326.1h.01M166.9 325.5h.01M169.1 326.4h.01M168.5 325.9h.01M168.2 326.6h.01M171.8 326.2h.01M164.9 325.9h.01M168.3 326.3h.01M167.6 326.1h.01M164.7 326.4h.01M163.4 326.7h.01M171.3 326.1h.01M164.6 325.9h.01M171.6 326.0h.01M165.4 326.6h.01M165.8 325.6h.01M166.8 326.4h.01M169.2 325.1h.01M169.6 325.7h.01M162.2 327.2h.01M168.6 326.3h.01M168.2 325.4h.01M167.6 325.1h.01M165.1 327.8h.01M170.0 326.0h.01M167.5 326.1h.01M167.8 326.1h.01M164.5 326.2h.01M162.4 326.1h.01M166.1 326.4h.01M171.2 324.7h.01M171.0 325.4h.01M165.6 326.2h.01M171.2 325.0h.01M165.7 326.6h.01M168.5 326.2h.01M166.7 326.7h.01M164.4 327.3h.01M165.4 326.5h.01M164.5 326.0h.01M168.6 326.3h.01M166.1 326.7h.01M173.4 324.0h.01M162.1 326.8h.01M162.8 327.2h.01M164.7 326.4h.01M164.7 327.6h.01M169.8 324.8h.01M167.9 325.8h.01M169.6 326.0h.01M164.9 326.1h.01M166.6 327.2h.01M166.7 325.8h.01M165.6 326.8h.01M165.8 327.3h.01M168.4 326.1h.01M166.7 326.0h.01M161.4 327.4h.01M169.7 325.7h.01M167.1 325.3h.01M166.1 326.3h.01M166.3 326.2h.01M168.6 326.4h.01M168.2 325.6h.01M165.4 326.3h.01M163.1 325.7h.01M167.2 326.1h.01M166.7 326.9h.01M161.9 326.9h.01M166.0 325.5h.01M167.9 326.9h.01M163.3 326.5h.01M168.6 326.0h.01M165.5 326.9h.01M162.8 326.5h.01M165.1 326.3h.01M163.8 326.6h.01M169.2 326.2h.01M163.7 326.2h.01M164.9 325.5h.01M168.1 326.3h.01M166.1 327.1h.01M168.0 325.7h.01M166.6 326.1h.01M166.5 327.0h.01M169.2 325.3h.01M170.7 324.8h.01M165.9 327.7h.01M168.0 326.7h.01M166.8 326.4h.01M165.1 327.2h.01M166.1 325.9h.01M163.3 327.8h.01M163.3 325.9h.01M167.5 326.1h.01M170.2 326.2h.01M167.2 325.6h.01M167.7 325.2h.01M164.9 327.2h.01M167.1 325.4h.01M165.1 326.3h.01M167.2 326.2h.01M168.3 324.2h.01M168.1 324.9h.01M165.5 326.4h.01M168.8 325.6h.01M163.6 326.0h.01M167.1 327.6h.01M163.8 326.2h.01M165.0 327.0h.01M167.7 326.0h.01M167.2 327.1h.01M165.9 325.6h.01M166.6 325.4h.01M167.0 326.6h.01M165.7 326.8h.01M169.1 327.0h.01M165.7 326.6h.01M168.3 326.5h.01M168.6 326.3h.01M168.0 326.6h.01M167.6 326.4h.01M167.1 326.1h.01M162.6 326.6h.01M166.6 325.9h.01M165.6 327.0h.01M166.0 324.9h.01M165.4 326.2h.01M169.2 326.1h.01M167.6 325.7h.01M165.3 325.4h.01M167.9 326.1h.01M165.0 326.4h.01M168.9 326.5h.01M168.2 326.7h.01M167.0 326.1h.01M166.5 326.5h.01M162.9 326.8h.01M166.6 325.7h.01M165.3 327.0h.01M165.7 326.2h.01M169.7 325.3h.01M166.4 326.0h.01M165.4 326.2h.01M167.7 325.9h.01M168.5 326.4h.01M164.2 326.5h.01M166.1 325.5h.01M162.7 327.2h.01M167.2 326.8h.01" stroke="#0c0c0c" stroke-width="0.9" stroke-linecap="round" fill="none" opacity="0.6"/>
<path d="M184.8 326.8h.01M178.7 327.4h.01M176.2 325.4h.01M181.8 326.6h.01M174.2 325.4h.01M170.4 328.3h.01M174.9 325.3h.01M173.8 325.3h.01M177.5 325.9h.01M180.9 323.0h.01M177.5 327.8h.01M177.1 325.2h.01M187.0 325.3h.01M180.3 326.2h.01M176.1 324.7h.01M177.7 326.1h.01M186.1 324.1h.01M169.0 326.5h.01M169.2 322.6h.01M175.2 327.2h.01M167.6 324.1h.01M184.4 324.9h.01M172.3 325.7h.01M185.0 325.7h.01M180.8 325.7h.01M171.4 326.2h.01M167.7 327.1h.01M168.7 326.0h.01M166.0 325.8h.01M178.9 325.0h.01M186.7 325.9h.01M179.0 324.2h.01M174.3 326.1h.01M180.6 326.6h.01M169.7 324.1h.01M171.1 327.2h.01M167.9 324.4h.01M177.4 325.8h.01M176.5 324.9h.01M178.5 325.7h.01M175.8 326.1h.01M175.6 325.7h.01M182.5 326.7h.01M177.2 326.0h.01M183.7 324.3h.01M167.1 325.9h.01M168.1 324.6h.01M177.9 326.1h.01M175.0 325.0h.01M169.4 325.0h.01M172.6 325.8h.01M181.5 325.5h.01M171.1 326.4h.01M182.9 326.2h.01M174.5 325.4h.01" stroke="#555" stroke-width="0.76" stroke-linecap="round" fill="none" opacity="0.28"/>
<text x="187.00" y="328.80" font-size="9" text-anchor="end" font-weight="normal" fill="#141414">87</text>
<text x="25.40" y="233.50" font-size="8.7" text-anchor="middle" font-weight="normal" fill="#141414" transform="rotate(-90 25.40 233.50)">CTR</text>
<text x="25.20" y="282.60" font-size="8.7" text-anchor="middle" font-weight="normal" fill="#141414" transform="rotate(-90 25.20 282.60)">6A4</text>
<text x="24.40" y="335.20" font-size="8.9" text-anchor="middle" font-weight="normal" fill="#141414" transform="rotate(-90 24.40 335.20)">aNKG2A</text>
<text x="12.10" y="283.60" font-size="8.7" text-anchor="middle" font-weight="normal" fill="#141414" transform="rotate(-90 12.10 283.60)">aCD56</text>
<line x1="8.80" y1="261.40" x2="8.80" y2="215.10" stroke="#222" stroke-width="1.1"/>
<path d="M8.80 212.10 L6.90 216.10 L10.70 216.10Z" fill="#222"/>
<line x1="8.80" y1="304.50" x2="8.80" y2="357.00" stroke="#1a1a1a" stroke-width="1.1"/>
<line x1="32.50" y1="369.40" x2="90.00" y2="369.40" stroke="#111" stroke-width="1.2"/>
<text x="112.50" y="372.60" font-size="8.7" text-anchor="middle" font-weight="normal" fill="#141414">aCCR7</text>
<line x1="134.50" y1="369.40" x2="184.60" y2="369.40" stroke="#111" stroke-width="1.2"/>
<path d="M187.60 369.40 L183.60 367.50 L183.60 371.30Z" fill="#111"/>
<text x="255.10" y="197.30" font-size="12" text-anchor="start" font-weight="bold" fill="#000">E</text>
<rect x="288.30" y="199.00" width="216.70" height="118.30" fill="none" stroke="#9a9a9a" stroke-width="0.9"/>
<line x1="286.30" y1="317.30" x2="288.30" y2="317.30" stroke="#666" stroke-width="0.8"/>
<text x="284.60" y="320.50" font-size="9" text-anchor="end" font-weight="normal" fill="#141414">0</text>
<line x1="286.30" y1="294.46" x2="288.30" y2="294.46" stroke="#666" stroke-width="0.8"/>
<text x="284.60" y="297.66" font-size="9" text-anchor="end" font-weight="normal" fill="#141414">20</text>
<line x1="286.30" y1="271.62" x2="288.30" y2="271.62" stroke="#666" stroke-width="0.8"/>
<text x="284.60" y="274.82" font-size="9" text-anchor="end" font-weight="normal" fill="#141414">40</text>
<line x1="286.30" y1="248.78" x2="288.30" y2="248.78" stroke="#666" stroke-width="0.8"/>
<text x="284.60" y="251.98" font-size="9" text-anchor="end" font-weight="normal" fill="#141414">60</text>
<line x1="286.30" y1="225.94" x2="288.30" y2="225.94" stroke="#666" stroke-width="0.8"/>
<text x="284.60" y="229.14" font-size="9" text-anchor="end" font-weight="normal" fill="#141414">80</text>
<line x1="286.30" y1="203.10" x2="288.30" y2="203.10" stroke="#666" stroke-width="0.8"/>
<text x="284.60" y="206.30" font-size="9" text-anchor="end" font-weight="normal" fill="#141414">100</text>
<text x="268.20" y="262.00" font-size="9.2" text-anchor="middle" font-weight="normal" fill="#141414" transform="rotate(-90 268.20 262.00)">% CCR7<tspan font-size="5.5" dy="-3">+</tspan><tspan dy="3">&#8203;</tspan> NK CELLS</text>
<rect x="300.30" y="293.89" width="10.70" height="23.41" fill="#949494" stroke="#6e6e6e" stroke-width="0.8"/>
<line x1="305.65" y1="285.32" x2="305.65" y2="302.45" stroke="#6a6a6a" stroke-width="0.9"/>
<line x1="303.85" y1="285.32" x2="307.45" y2="285.32" stroke="#6a6a6a" stroke-width="0.9"/>
<line x1="303.85" y1="302.45" x2="307.45" y2="302.45" stroke="#6a6a6a" stroke-width="0.9"/>
<rect x="314.30" y="290.46" width="10.70" height="26.84" fill="url(#hatch)" stroke="#1a1a1a" stroke-width="0.7"/>
<line x1="319.65" y1="281.90" x2="319.65" y2="290.46" stroke="#6a6a6a" stroke-width="0.9"/>
<line x1="317.85" y1="281.90" x2="321.45" y2="281.90" stroke="#6a6a6a" stroke-width="0.9"/>
<rect x="342.40" y="280.19" width="10.70" height="37.12" fill="#949494" stroke="#6e6e6e" stroke-width="0.8"/>
<line x1="347.75" y1="264.77" x2="347.75" y2="295.60" stroke="#6a6a6a" stroke-width="0.9"/>
<line x1="345.95" y1="264.77" x2="349.55" y2="264.77" stroke="#6a6a6a" stroke-width="0.9"/>
<line x1="345.95" y1="295.60" x2="349.55" y2="295.60" stroke="#6a6a6a" stroke-width="0.9"/>
<rect x="356.40" y="232.79" width="10.70" height="84.51" fill="url(#hatch)" stroke="#1a1a1a" stroke-width="0.7"/>
<line x1="361.75" y1="223.31" x2="361.75" y2="232.79" stroke="#6a6a6a" stroke-width="0.9"/>
<line x1="359.95" y1="223.31" x2="363.55" y2="223.31" stroke="#6a6a6a" stroke-width="0.9"/>
<rect x="384.40" y="273.90" width="10.70" height="43.40" fill="#949494" stroke="#6e6e6e" stroke-width="0.8"/>
<line x1="389.75" y1="254.83" x2="389.75" y2="293.09" stroke="#6a6a6a" stroke-width="0.9"/>
<line x1="387.95" y1="254.83" x2="391.55" y2="254.83" stroke="#6a6a6a" stroke-width="0.9"/>
<line x1="387.95" y1="293.09" x2="391.55" y2="293.09" stroke="#6a6a6a" stroke-width="0.9"/>
<rect x="398.40" y="275.85" width="10.70" height="41.45" fill="url(#hatch)" stroke="#1a1a1a" stroke-width="0.7"/>
<line x1="403.75" y1="252.66" x2="403.75" y2="275.85" stroke="#6a6a6a" stroke-width="0.9"/>
<line x1="401.95" y1="252.66" x2="405.55" y2="252.66" stroke="#6a6a6a" stroke-width="0.9"/>
<rect x="425.80" y="290.35" width="10.70" height="26.95" fill="#949494" stroke="#6e6e6e" stroke-width="0.8"/>
<line x1="431.15" y1="258.37" x2="431.15" y2="317.30" stroke="#6a6a6a" stroke-width="0.9"/>
<line x1="429.35" y1="258.37" x2="432.95" y2="258.37" stroke="#6a6a6a" stroke-width="0.9"/>
<rect x="439.80" y="278.47" width="10.70" height="38.83" fill="url(#hatch)" stroke="#1a1a1a" stroke-width="0.7"/>
<line x1="445.15" y1="247.30" x2="445.15" y2="278.47" stroke="#6a6a6a" stroke-width="0.9"/>
<line x1="443.35" y1="247.30" x2="446.95" y2="247.30" stroke="#6a6a6a" stroke-width="0.9"/>
<rect x="467.50" y="260.20" width="10.70" height="57.10" fill="#949494" stroke="#6e6e6e" stroke-width="0.8"/>
<line x1="472.85" y1="248.78" x2="472.85" y2="271.62" stroke="#6a6a6a" stroke-width="0.9"/>
<line x1="471.05" y1="248.78" x2="474.65" y2="248.78" stroke="#6a6a6a" stroke-width="0.9"/>
<line x1="471.05" y1="271.62" x2="474.65" y2="271.62" stroke="#6a6a6a" stroke-width="0.9"/>
<rect x="481.50" y="220.57" width="10.70" height="96.73" fill="url(#hatch)" stroke="#1a1a1a" stroke-width="0.7"/>
<line x1="486.85" y1="208.47" x2="486.85" y2="220.57" stroke="#6a6a6a" stroke-width="0.9"/>
<line x1="485.05" y1="208.47" x2="488.65" y2="208.47" stroke="#6a6a6a" stroke-width="0.9"/>
<path d="M306 222.2 Q306.2 220.6 308.2 220.6 L359 220.6 Q361 220.6 361.3 222.4 Q361.6 220.7 363.6 220.7 L444 220.7 Q446 220.7 446.2 222.3" fill="none" stroke="#222" stroke-width="1.1"/>
<text x="333.50" y="220.80" font-size="8" text-anchor="middle" font-weight="normal" fill="#141414">**</text>
<text x="404.80" y="220.80" font-size="8" text-anchor="middle" font-weight="normal" fill="#141414">*</text>
<path d="M446.5 207 Q446.7 205.4 448.7 205.4 L485 205.4 Q487 205.4 487.2 207" fill="none" stroke="#222" stroke-width="1.1"/>
<text x="466.70" y="206.20" font-size="8" text-anchor="middle" font-weight="normal" fill="#141414">*</text>
<text x="313.00" y="327.60" font-size="9" text-anchor="middle" font-weight="normal" fill="#141414">CTR</text>
<text x="355.00" y="327.60" font-size="9" text-anchor="middle" font-weight="normal" fill="#141414">CTR</text>
<text x="397.00" y="327.60" font-size="9" text-anchor="middle" font-weight="normal" fill="#141414">6A4</text>
<text x="436.50" y="327.60" font-size="9" text-anchor="middle" font-weight="normal" fill="#141414">aKIR</text>
<text x="481.00" y="327.60" font-size="9" text-anchor="middle" font-weight="normal" fill="#141414">aNKG2A</text>
<line x1="293.00" y1="331.20" x2="334.00" y2="331.20" stroke="#444" stroke-width="1.3"/>
<line x1="342.00" y1="331.20" x2="504.40" y2="331.20" stroke="#444" stroke-width="1.3"/>
<text x="313.00" y="343.20" font-size="9" text-anchor="middle" font-weight="normal" fill="#141414">KIR2DS1<tspan font-size="5.5" dy="-3">-</tspan><tspan dy="3">&#8203;</tspan></text>
<text x="313.00" y="354.40" font-size="9" text-anchor="middle" font-weight="normal" fill="#141414">NKG2A<tspan font-size="5.5" dy="-3">+</tspan><tspan dy="3">&#8203;</tspan></text>
<text x="424.00" y="343.00" font-size="9" text-anchor="middle" font-weight="normal" fill="#141414">KIR2DS1<tspan font-size="5.5" dy="-3">+</tspan><tspan dy="3">&#8203;</tspan></text>
<text x="423.80" y="353.80" font-size="9" text-anchor="middle" font-weight="normal" fill="#141414">NKG2A<tspan font-size="5.5" dy="-3">+</tspan><tspan dy="3">&#8203;</tspan></text>
<g><rect x="287.8" y="367.6" width="6.4" height="6.4" fill="#fff" stroke="#555" stroke-width="0.9"/><path d="M288 371 L291.2 367.8 M288 374 L294.2 367.8 M291 374 L294.2 370.8" stroke="#555" stroke-width="0.8"/></g>
<text x="297.00" y="374.20" font-size="9" text-anchor="start" font-weight="normal" fill="#141414">221 Cw3</text>
<g><rect x="345" y="367.6" width="6.6" height="6.6" fill="#111" stroke="#111" stroke-width="0.8"/><path d="M345.6 373.8 L351.2 368.2" stroke="#fff" stroke-width="1.5"/></g>
<text x="354.50" y="374.20" font-size="9" text-anchor="start" font-weight="normal" fill="#141414">221 Cw4</text>
<text x="0.30" y="395.50" font-size="12" text-anchor="start" font-weight="bold" fill="#000">F</text>
<rect x="30.90" y="388.80" width="195.60" height="147.20" fill="none" stroke="#9a9a9a" stroke-width="0.9"/>
<line x1="29.50" y1="391.30" x2="30.90" y2="391.30" stroke="#666" stroke-width="0.8"/>
<text x="29.10" y="394.50" font-size="9" text-anchor="end" font-weight="normal" fill="#141414">24</text>
<line x1="29.50" y1="414.00" x2="30.90" y2="414.00" stroke="#666" stroke-width="0.8"/>
<text x="29.10" y="417.20" font-size="9" text-anchor="end" font-weight="normal" fill="#141414">20</text>
<line x1="29.50" y1="437.60" x2="30.90" y2="437.60" stroke="#666" stroke-width="0.8"/>
<text x="29.10" y="440.80" font-size="9" text-anchor="end" font-weight="normal" fill="#141414">16</text>
<line x1="29.50" y1="461.90" x2="30.90" y2="461.90" stroke="#666" stroke-width="0.8"/>
<text x="29.10" y="465.10" font-size="9" text-anchor="end" font-weight="normal" fill="#141414">12</text>
<line x1="29.50" y1="487.30" x2="30.90" y2="487.30" stroke="#666" stroke-width="0.8"/>
<text x="29.10" y="490.50" font-size="9" text-anchor="end" font-weight="normal" fill="#141414">8</text>
<line x1="29.50" y1="511.50" x2="30.90" y2="511.50" stroke="#666" stroke-width="0.8"/>
<text x="29.10" y="514.70" font-size="9" text-anchor="end" font-weight="normal" fill="#141414">4</text>
<line x1="29.50" y1="535.80" x2="30.90" y2="535.80" stroke="#666" stroke-width="0.8"/>
<text x="29.10" y="539.00" font-size="9" text-anchor="end" font-weight="normal" fill="#141414">0</text>
<text x="12.20" y="462.80" font-size="8.9" text-anchor="middle" font-weight="normal" fill="#141414" transform="rotate(-90 12.20 462.80)">MIGRATION INDEX</text>
<line x1="128.80" y1="388.80" x2="128.80" y2="536.00" stroke="#333" stroke-width="0.9" stroke-dasharray="1 1"/>
<rect x="41.70" y="530.00" width="8.10" height="6.00" fill="#2a2a2a" stroke="none" stroke-width="1"/>
<rect x="52.50" y="530.00" width="8.10" height="6.00" fill="#8c8c8c" stroke="#6e6e6e" stroke-width="0.5"/>
<rect x="73.20" y="530.00" width="8.10" height="6.00" fill="#2a2a2a" stroke="none" stroke-width="1"/>
<rect x="84.00" y="528.60" width="8.10" height="7.40" fill="#8c8c8c" stroke="#6e6e6e" stroke-width="0.5"/>
<line x1="88.05" y1="525.00" x2="88.05" y2="532.00" stroke="#5e5e5e" stroke-width="0.9"/>
<line x1="86.45" y1="525.00" x2="89.65" y2="525.00" stroke="#5e5e5e" stroke-width="0.9"/>
<line x1="86.45" y1="532.00" x2="89.65" y2="532.00" stroke="#5e5e5e" stroke-width="0.9"/>
<line x1="108.45" y1="464.50" x2="108.45" y2="483.90" stroke="#666" stroke-width="0.9"/>
<rect x="104.40" y="483.90" width="8.10" height="52.10" fill="#2a2a2a" stroke="none" stroke-width="1"/>
<rect x="115.20" y="480.80" width="8.10" height="55.20" fill="#8c8c8c" stroke="#6e6e6e" stroke-width="0.5"/>
<line x1="119.25" y1="471.30" x2="119.25" y2="490.40" stroke="#5e5e5e" stroke-width="0.9"/>
<line x1="117.65" y1="471.30" x2="120.85" y2="471.30" stroke="#5e5e5e" stroke-width="0.9"/>
<line x1="117.65" y1="490.40" x2="120.85" y2="490.40" stroke="#5e5e5e" stroke-width="0.9"/>
<line x1="138.85" y1="413.00" x2="138.85" y2="439.40" stroke="#666" stroke-width="0.9"/>
<rect x="134.80" y="439.40" width="8.10" height="96.60" fill="#2a2a2a" stroke="none" stroke-width="1"/>
<rect x="145.60" y="492.80" width="8.10" height="43.20" fill="#8c8c8c" stroke="#6e6e6e" stroke-width="0.5"/>
<line x1="149.65" y1="470.60" x2="149.65" y2="515.80" stroke="#5e5e5e" stroke-width="0.9"/>
<line x1="148.05" y1="470.60" x2="151.25" y2="470.60" stroke="#5e5e5e" stroke-width="0.9"/>
<line x1="148.05" y1="515.80" x2="151.25" y2="515.80" stroke="#5e5e5e" stroke-width="0.9"/>
<line x1="170.35" y1="492.80" x2="170.35" y2="511.60" stroke="#666" stroke-width="0.9"/>
<line x1="168.75" y1="492.80" x2="171.95" y2="492.80" stroke="#666" stroke-width="0.9"/>
<rect x="166.30" y="511.60" width="8.10" height="24.40" fill="#2a2a2a" stroke="none" stroke-width="1"/>
<rect x="177.10" y="476.00" width="8.10" height="60.00" fill="#8c8c8c" stroke="#6e6e6e" stroke-width="0.5"/>
<line x1="181.15" y1="449.10" x2="181.15" y2="503.30" stroke="#5e5e5e" stroke-width="0.9"/>
<line x1="179.55" y1="449.10" x2="182.75" y2="449.10" stroke="#5e5e5e" stroke-width="0.9"/>
<line x1="179.55" y1="503.30" x2="182.75" y2="503.30" stroke="#5e5e5e" stroke-width="0.9"/>
<line x1="201.35" y1="397.80" x2="201.35" y2="417.70" stroke="#666" stroke-width="0.9"/>
<rect x="197.30" y="417.70" width="8.10" height="118.30" fill="#2a2a2a" stroke="none" stroke-width="1"/>
<rect x="208.10" y="458.30" width="8.10" height="77.70" fill="#8c8c8c" stroke="#6e6e6e" stroke-width="0.5"/>
<line x1="212.15" y1="421.60" x2="212.15" y2="495.40" stroke="#5e5e5e" stroke-width="0.9"/>
<line x1="210.55" y1="421.60" x2="213.75" y2="421.60" stroke="#5e5e5e" stroke-width="0.9"/>
<line x1="210.55" y1="495.40" x2="213.75" y2="495.40" stroke="#5e5e5e" stroke-width="0.9"/>
<path d="M45.8 408.1 Q46.0 406.5 47.8 406.5 L136.4 406.5 Q138.2 406.5 138.4 408.1" fill="none" stroke="#222" stroke-width="1.1"/>
<text x="92.40" y="407.60" font-size="8" text-anchor="middle" font-weight="normal" fill="#141414">**</text>
<path d="M108.4 414.6 Q108.6 413.0 110.4 413.0 L136.6 413.0 Q138.4 413.0 138.6 414.6" fill="none" stroke="#222" stroke-width="1.1"/>
<text x="123.90" y="414.20" font-size="8" text-anchor="middle" font-weight="normal" fill="#141414">*</text>
<path d="M139.0 414.6 Q139.2 413.0 141.0 413.0 L168.0 413.0 Q169.8 413.0 170.0 414.6" fill="none" stroke="#222" stroke-width="1.1"/>
<text x="155.00" y="414.20" font-size="8" text-anchor="middle" font-weight="normal" fill="#141414">*</text>
<path d="M140.4 394.4 Q140.6 392.8 142.4 392.8 L199.3 392.8 Q201.1 392.8 201.3 394.4" fill="none" stroke="#222" stroke-width="1.1"/>
<text x="170.60" y="394.00" font-size="8" text-anchor="middle" font-weight="normal" fill="#141414">*</text>
<path d="M170.0 399.4 Q170.2 397.8 172.0 397.8 L199.3 397.8 Q201.1 397.8 201.3 399.4" fill="none" stroke="#222" stroke-width="1.1"/>
<text x="185.40" y="399.00" font-size="8" text-anchor="middle" font-weight="normal" fill="#141414">**</text>
<path d="M56.0 460.4 Q56.2 458.8 58.0 458.8 L116.6 458.8 Q118.4 458.8 118.6 460.4" fill="none" stroke="#222" stroke-width="1.1"/>
<text x="87.50" y="460.00" font-size="8" text-anchor="middle" font-weight="normal" fill="#141414">*</text>
<path d="M45.8 466.0 Q46.0 464.4 47.8 464.4 L106.4 464.4 Q108.2 464.4 108.4 466.0" fill="none" stroke="#222" stroke-width="1.1"/>
<text x="76.70" y="465.60" font-size="8" text-anchor="middle" font-weight="normal" fill="#141414">*</text>
<line x1="41.00" y1="550.60" x2="61.40" y2="550.60" stroke="#444" stroke-width="1.3"/>
<line x1="72.70" y1="550.60" x2="92.90" y2="550.60" stroke="#444" stroke-width="1.3"/>
<line x1="104.50" y1="550.60" x2="123.90" y2="550.60" stroke="#444" stroke-width="1.3"/>
<text x="51.20" y="561.40" font-size="9" text-anchor="middle" font-weight="normal" fill="#141414">NK</text>
<text x="82.50" y="561.40" font-size="9" text-anchor="middle" font-weight="normal" fill="#141414">NK+</text>
<text x="82.50" y="571.40" font-size="9" text-anchor="middle" font-weight="normal" fill="#141414">K562</text>
<text x="114.40" y="561.40" font-size="9" text-anchor="middle" font-weight="normal" fill="#141414">NK+</text>
<text x="114.40" y="571.40" font-size="9" text-anchor="middle" font-weight="normal" fill="#141414">221Cw3</text>
<text x="143.80" y="548.40" font-size="9" text-anchor="middle" font-weight="normal" fill="#141414">CTR</text>
<text x="175.50" y="548.40" font-size="9" text-anchor="middle" font-weight="normal" fill="#141414">6A4</text>
<text x="205.80" y="548.40" font-size="9" text-anchor="middle" font-weight="normal" fill="#141414">aNKG2A</text>
<line x1="134.80" y1="551.40" x2="224.50" y2="551.40" stroke="#444" stroke-width="1.3"/>
<text x="180.60" y="561.80" font-size="9" text-anchor="middle" font-weight="normal" fill="#141414">NK+</text>
<text x="180.60" y="571.60" font-size="9" text-anchor="middle" font-weight="normal" fill="#141414">221Cw4</text>
<rect x="31.80" y="584.20" width="7.20" height="7.00" fill="#222" stroke="none" stroke-width="1"/>
<text x="41.70" y="591.20" font-size="9" text-anchor="start" font-weight="normal" fill="#141414">NK KIR2DS1+</text>
<rect x="109.00" y="584.20" width="7.20" height="7.00" fill="#8c8c8c" stroke="#666" stroke-width="0.6"/>
<text x="119.00" y="591.20" font-size="9" text-anchor="start" font-weight="normal" fill="#141414">NK KIR2DS1-</text>
<text x="254.80" y="395.90" font-size="12" text-anchor="start" font-weight="bold" fill="#000">G</text>
<text x="336.10" y="395.20" font-size="8.9" text-anchor="start" font-weight="normal" fill="#141414">KIR2DS1<tspan font-size="5.5" dy="-3">+</tspan><tspan dy="3">&#8203;</tspan></text>
<text x="379.50" y="395.20" font-size="8.9" text-anchor="start" font-weight="normal" fill="#141414">NKG2A<tspan font-size="5.5" dy="-3">+</tspan><tspan dy="3">&#8203;</tspan></text>
<rect x="286.00" y="399.70" width="175.30" height="133.80" fill="none" stroke="#666" stroke-width="0.8"/>
<line x1="295.00" y1="399.70" x2="295.00" y2="533.50" stroke="#666" stroke-width="0.65"/>
<text x="295.00" y="542.60" font-size="9" text-anchor="middle" font-weight="normal" fill="#141414">0</text>
<line x1="326.55" y1="399.70" x2="326.55" y2="533.50" stroke="#666" stroke-width="0.65"/>
<text x="326.55" y="542.60" font-size="9" text-anchor="middle" font-weight="normal" fill="#141414">5</text>
<line x1="358.10" y1="399.70" x2="358.10" y2="533.50" stroke="#666" stroke-width="0.65"/>
<text x="358.10" y="542.60" font-size="9" text-anchor="middle" font-weight="normal" fill="#141414">10</text>
<line x1="389.65" y1="399.70" x2="389.65" y2="533.50" stroke="#666" stroke-width="0.65"/>
<text x="389.65" y="542.60" font-size="9" text-anchor="middle" font-weight="normal" fill="#141414">15</text>
<line x1="421.20" y1="399.70" x2="421.20" y2="533.50" stroke="#666" stroke-width="0.65"/>
<text x="421.20" y="542.60" font-size="9" text-anchor="middle" font-weight="normal" fill="#141414">20</text>
<line x1="452.75" y1="399.70" x2="452.75" y2="533.50" stroke="#666" stroke-width="0.65"/>
<text x="452.75" y="542.60" font-size="9" text-anchor="middle" font-weight="normal" fill="#141414">25</text>
<line x1="286.00" y1="526.50" x2="461.30" y2="526.50" stroke="#666" stroke-width="0.65"/>
<text x="283.40" y="529.70" font-size="9" text-anchor="end" font-weight="normal" fill="#141414">0</text>
<line x1="286.00" y1="502.70" x2="461.30" y2="502.70" stroke="#666" stroke-width="0.65"/>
<text x="283.40" y="505.90" font-size="9" text-anchor="end" font-weight="normal" fill="#141414">20</text>
<line x1="286.00" y1="478.90" x2="461.30" y2="478.90" stroke="#666" stroke-width="0.65"/>
<text x="283.40" y="482.10" font-size="9" text-anchor="end" font-weight="normal" fill="#141414">40</text>
<line x1="286.00" y1="455.10" x2="461.30" y2="455.10" stroke="#666" stroke-width="0.65"/>
<text x="283.40" y="458.30" font-size="9" text-anchor="end" font-weight="normal" fill="#141414">60</text>
<line x1="286.00" y1="431.30" x2="461.30" y2="431.30" stroke="#666" stroke-width="0.65"/>
<text x="283.40" y="434.50" font-size="9" text-anchor="end" font-weight="normal" fill="#141414">80</text>
<line x1="286.00" y1="407.50" x2="461.30" y2="407.50" stroke="#666" stroke-width="0.65"/>
<text x="283.40" y="410.70" font-size="9" text-anchor="end" font-weight="normal" fill="#141414">100</text>
<text x="268.00" y="466.30" font-size="9.1" text-anchor="middle" font-weight="normal" fill="#141414" transform="rotate(-90 268.00 466.30)">% CCR7<tspan font-size="5.5" dy="-3">+</tspan><tspan dy="3">&#8203;</tspan> NK CELLS</text>
<line x1="300.40" y1="533.50" x2="450.40" y2="399.70" stroke="#555" stroke-width="0.9"/>
<text x="295.80" y="418.60" font-size="9" text-anchor="start" font-weight="normal" fill="#141414">R= 0,93</text>
<text x="295.80" y="427.60" font-size="8" text-anchor="start" font-weight="normal" fill="#141414">**</text>
<circle cx="314" cy="509.6" r="3.3" fill="#0a0a0a"/>
<circle cx="320.8" cy="508.3" r="3.3" fill="#0a0a0a"/>
<circle cx="326" cy="504.2" r="3.3" fill="#0a0a0a"/>
<rect x="347.60" y="502.60" width="6.80" height="6.80" fill="#9a9a9a" stroke="#7a7a7a" stroke-width="0.6"/>
<rect x="357.80" y="498.90" width="6.80" height="6.80" fill="#9a9a9a" stroke="#7a7a7a" stroke-width="0.6"/>
<rect x="369.10" y="495.40" width="6.80" height="6.80" fill="#9a9a9a" stroke="#7a7a7a" stroke-width="0.6"/>
<path d="M384.6 443.6 L387.90000000000003 449.2 L381.3 449.2Z" fill="#0a0a0a"/>
<path d="M396 439.3 L399.3 444.9 L392.7 444.9Z" fill="#0a0a0a"/>
<path d="M403.7 430.1 L407.0 435.7 L400.4 435.7Z" fill="#0a0a0a"/>
<path d="M404.5 428.5 H410.9 M407.7 425.3 V431.7" stroke="#777" stroke-width="1.1" fill="none"/>
<path d="M412.6 422.3 H419.0 M415.8 419.1 V425.5" stroke="#777" stroke-width="1.1" fill="none"/>
<path d="M421.8 419 H428.2 M425 415.8 V422.2" stroke="#777" stroke-width="1.1" fill="none"/>
<path d="M302 522.2 L303.6 525.8 L302 529.4 L300.4 525.8Z" fill="#fff" stroke="#111" stroke-width="0.9"/>
<text x="374.30" y="553.60" font-size="9" text-anchor="middle" font-weight="normal" fill="#141414">MIGRATION INDEX</text>
<line x1="285.80" y1="550.50" x2="320.00" y2="550.50" stroke="#222" stroke-width="1.2"/>
<line x1="428.50" y1="550.20" x2="459.00" y2="550.20" stroke="#222" stroke-width="1.2"/>
<path d="M462.00 550.20 L458.00 548.30 L458.00 552.10Z" fill="#222"/>
</svg>
</body></html>
